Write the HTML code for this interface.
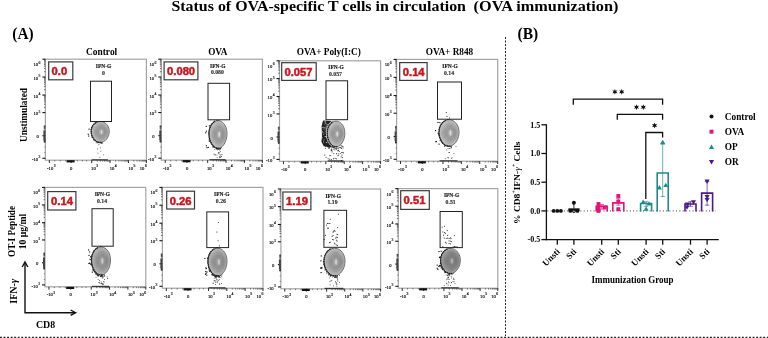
<!DOCTYPE html>
<html><head><meta charset="utf-8"><style>
html,body{margin:0;padding:0;background:#fff;width:768px;height:338px;overflow:hidden}
svg{display:block;will-change:transform}
text{white-space:pre}
</style></head><body>
<svg width="768" height="338" viewBox="0 0 768 338">
<defs><radialGradient id="bg" cx="0.56" cy="0.5" r="0.5"><stop offset="0" stop-color="#d8d8d8"/><stop offset="0.12" stop-color="#b4b4b4"/><stop offset="0.35" stop-color="#a4a4a4"/><stop offset="0.6" stop-color="#b2b2b2"/><stop offset="0.85" stop-color="#c8c8c8"/><stop offset="1" stop-color="#d0d0d0"/></radialGradient></defs>
<rect width="768" height="338" fill="#fff"/>
<text x="171.4" y="10.6" font-size="14" font-weight="bold" fill="#000" font-family="Liberation Serif" text-anchor="start" textLength="294.6" lengthAdjust="spacingAndGlyphs" >Status of OVA-specific T cells in circulation</text>
<text x="473.6" y="10.6" font-size="14" font-weight="bold" fill="#000" font-family="Liberation Serif" text-anchor="start" textLength="144.8" lengthAdjust="spacingAndGlyphs" >(OVA immunization)</text>
<text x="12.3" y="39" font-size="15.7" font-weight="bold" fill="#000" font-family="Liberation Serif" text-anchor="start" textLength="21.3" lengthAdjust="spacingAndGlyphs" >(A)</text>
<text x="517.6" y="39" font-size="15.7" font-weight="bold" fill="#000" font-family="Liberation Serif" text-anchor="start" textLength="20.7" lengthAdjust="spacingAndGlyphs" >(B)</text>
<line x1="505.5" y1="37" x2="505.5" y2="336" stroke="#222" stroke-width="1" stroke-dasharray="2 1.5"/>
<line x1="0" y1="337.4" x2="768" y2="337.4" stroke="#222" stroke-width="1.3" stroke-dasharray="1.9 1.65"/>
<text x="101.6" y="54.6" font-size="9.5" font-weight="bold" fill="#000" font-family="Liberation Serif" text-anchor="middle" textLength="31.3" lengthAdjust="spacingAndGlyphs" >Control</text>
<text x="217.8" y="54.6" font-size="9.5" font-weight="bold" fill="#000" font-family="Liberation Serif" text-anchor="middle" textLength="19.3" lengthAdjust="spacingAndGlyphs" >OVA</text>
<text x="328.8" y="54.6" font-size="9.5" font-weight="bold" fill="#000" font-family="Liberation Serif" text-anchor="middle" textLength="64" lengthAdjust="spacingAndGlyphs" >OVA+ Poly(I:C)</text>
<text x="449.5" y="54.6" font-size="9.5" font-weight="bold" fill="#000" font-family="Liberation Serif" text-anchor="middle" textLength="47.5" lengthAdjust="spacingAndGlyphs" >OVA+ R848</text>
<text transform="translate(27.2,115) rotate(-90)" font-size="9.5" font-weight="bold" font-family="Liberation Serif" text-anchor="middle" textLength="54" lengthAdjust="spacingAndGlyphs">Unstimulated</text>
<text transform="translate(15.3,231.5) rotate(-90)" font-size="10" font-weight="bold" font-family="Liberation Serif" text-anchor="middle" textLength="51" lengthAdjust="spacingAndGlyphs">OT-I Peptide</text>
<text transform="translate(25.6,231.5) rotate(-90)" font-size="10" font-weight="bold" font-family="Liberation Serif" text-anchor="middle" textLength="35.5" lengthAdjust="spacingAndGlyphs">10 &#956;g/ml</text>
<path d="M25,262.5 L25,312.7 L75,312.7" fill="none" stroke="#111" stroke-width="1.4"/>
<path d="M22.2,267 L25,262 L27.8,267" fill="none" stroke="#111" stroke-width="1.4"/>
<path d="M70.6,310 L75.6,312.7 L70.6,315.4" fill="none" stroke="#111" stroke-width="1.4"/>
<text transform="translate(16.9,291.3) rotate(-90)" font-size="10" font-weight="bold" font-family="Liberation Serif" text-anchor="middle">IFN-<tspan font-style="italic">&#947;</tspan></text>
<text x="45.6" y="327.5" font-size="10" font-weight="bold" fill="#000" font-family="Liberation Serif" text-anchor="middle" textLength="19.2" lengthAdjust="spacingAndGlyphs" >CD8</text>
<rect x="45.4" y="59.2" width="101.0" height="100.99999999999999" fill="none" stroke="#a4a4a4" stroke-width="1.2"/>
<line x1="42.4" y1="59.2" x2="45.4" y2="59.2" stroke="#111" stroke-width="1.1" />
<line x1="42.4" y1="77.03531746031746" x2="45.4" y2="77.03531746031746" stroke="#111" stroke-width="1.1" />
<line x1="42.4" y1="95.07103174603174" x2="45.4" y2="95.07103174603174" stroke="#111" stroke-width="1.1" />
<line x1="42.4" y1="112.60575396825396" x2="45.4" y2="112.60575396825396" stroke="#111" stroke-width="1.1" />
<line x1="42.4" y1="135.7515873015873" x2="45.4" y2="135.7515873015873" stroke="#111" stroke-width="1.1" />
<line x1="42.4" y1="158.29623015873017" x2="45.4" y2="158.29623015873017" stroke="#111" stroke-width="1.1" />
<line x1="44.0" y1="71.66635192257236" x2="45.4" y2="71.66635192257236" stroke="#222" stroke-width="0.6" />
<line x1="44.0" y1="68.52570841532729" x2="45.4" y2="68.52570841532729" stroke="#222" stroke-width="0.6" />
<line x1="44.0" y1="66.29738638482728" x2="45.4" y2="66.29738638482728" stroke="#222" stroke-width="0.6" />
<line x1="44.0" y1="64.5689655377451" x2="45.4" y2="64.5689655377451" stroke="#222" stroke-width="0.6" />
<line x1="44.0" y1="63.1567428775822" x2="45.4" y2="63.1567428775822" stroke="#222" stroke-width="0.6" />
<line x1="44.0" y1="61.962725631571125" x2="45.4" y2="61.962725631571125" stroke="#222" stroke-width="0.6" />
<line x1="44.0" y1="60.92842084708218" x2="45.4" y2="60.92842084708218" stroke="#222" stroke-width="0.6" />
<line x1="44.0" y1="60.01609937033712" x2="45.4" y2="60.01609937033712" stroke="#222" stroke-width="0.6" />
<line x1="44.0" y1="89.64174075280636" x2="45.4" y2="89.64174075280636" stroke="#222" stroke-width="0.6" />
<line x1="44.0" y1="86.4658091162664" x2="45.4" y2="86.4658091162664" stroke="#222" stroke-width="0.6" />
<line x1="44.0" y1="84.21244975958099" x2="45.4" y2="84.21244975958099" stroke="#222" stroke-width="0.6" />
<line x1="44.0" y1="82.46460845354284" x2="45.4" y2="82.46460845354284" stroke="#222" stroke-width="0.6" />
<line x1="44.0" y1="81.03651812304102" x2="45.4" y2="81.03651812304102" stroke="#222" stroke-width="0.6" />
<line x1="44.0" y1="79.82908495291747" x2="45.4" y2="79.82908495291747" stroke="#222" stroke-width="0.6" />
<line x1="44.0" y1="78.78315876635563" x2="45.4" y2="78.78315876635563" stroke="#222" stroke-width="0.6" />
<line x1="44.0" y1="77.86058648650106" x2="45.4" y2="77.86058648650106" stroke="#222" stroke-width="0.6" />
<line x1="44.0" y1="107.3272766137293" x2="45.4" y2="107.3272766137293" stroke="#222" stroke-width="0.6" />
<line x1="44.0" y1="104.23956530042655" x2="45.4" y2="104.23956530042655" stroke="#222" stroke-width="0.6" />
<line x1="44.0" y1="102.04879925920461" x2="45.4" y2="102.04879925920461" stroke="#222" stroke-width="0.6" />
<line x1="44.0" y1="100.3495091005564" x2="45.4" y2="100.3495091005564" stroke="#222" stroke-width="0.6" />
<line x1="44.0" y1="98.96108794590188" x2="45.4" y2="98.96108794590188" stroke="#222" stroke-width="0.6" />
<line x1="44.0" y1="97.78719458605953" x2="45.4" y2="97.78719458605953" stroke="#222" stroke-width="0.6" />
<line x1="44.0" y1="96.77032190467995" x2="45.4" y2="96.77032190467995" stroke="#222" stroke-width="0.6" />
<line x1="44.0" y1="95.87337663259913" x2="45.4" y2="95.87337663259913" stroke="#222" stroke-width="0.6" />
<line x1="43.8" y1="132.10611855158731" x2="45.4" y2="132.10611855158731" stroke="#111" stroke-width="0.7" />
<line x1="43.8" y1="138.1187748015873" x2="45.4" y2="138.1187748015873" stroke="#111" stroke-width="0.7" />
<line x1="43.8" y1="130.0229935515873" x2="45.4" y2="130.0229935515873" stroke="#111" stroke-width="0.7" />
<line x1="43.8" y1="139.4714533730159" x2="45.4" y2="139.4714533730159" stroke="#111" stroke-width="0.7" />
<line x1="43.8" y1="128.4606498015873" x2="45.4" y2="128.4606498015873" stroke="#111" stroke-width="0.7" />
<line x1="43.8" y1="140.4859623015873" x2="45.4" y2="140.4859623015873" stroke="#111" stroke-width="0.7" />
<line x1="43.8" y1="127.4190873015873" x2="45.4" y2="127.4190873015873" stroke="#111" stroke-width="0.7" />
<line x1="43.8" y1="141.16230158730158" x2="45.4" y2="141.16230158730158" stroke="#111" stroke-width="0.7" />
<line x1="43.8" y1="126.5858373015873" x2="45.4" y2="126.5858373015873" stroke="#111" stroke-width="0.7" />
<line x1="43.8" y1="141.703373015873" x2="45.4" y2="141.703373015873" stroke="#111" stroke-width="0.7" />
<line x1="43.8" y1="125.9608998015873" x2="45.4" y2="125.9608998015873" stroke="#111" stroke-width="0.7" />
<line x1="43.8" y1="142.1091765873016" x2="45.4" y2="142.1091765873016" stroke="#111" stroke-width="0.7" />
<line x1="44.199999999999996" y1="152.66006944444445" x2="45.4" y2="152.66006944444445" stroke="#333" stroke-width="0.5" />
<line x1="44.199999999999996" y1="147.02390873015872" x2="45.4" y2="147.02390873015872" stroke="#333" stroke-width="0.5" />
<line x1="44.199999999999996" y1="141.38774801587303" x2="45.4" y2="141.38774801587303" stroke="#333" stroke-width="0.5" />
<rect x="43.40" y="130.55" width="2" height="9.8" fill="#444"/>
<text x="38.10" y="66.20" font-size="4.6" font-family="Liberation Serif" text-anchor="end" fill="#222" stroke="#222" stroke-width="0.18">10</text>
<text x="38.60" y="63.60" font-size="3.8" font-family="Liberation Serif" fill="#222" stroke="#222" stroke-width="0.15">6</text>
<text x="38.10" y="79.64" font-size="4.6" font-family="Liberation Serif" text-anchor="end" fill="#222" stroke="#222" stroke-width="0.18">10</text>
<text x="38.60" y="77.04" font-size="3.8" font-family="Liberation Serif" fill="#222" stroke="#222" stroke-width="0.15">5</text>
<text x="38.10" y="97.67" font-size="4.6" font-family="Liberation Serif" text-anchor="end" fill="#222" stroke="#222" stroke-width="0.18">10</text>
<text x="38.60" y="95.07" font-size="3.8" font-family="Liberation Serif" fill="#222" stroke="#222" stroke-width="0.15">4</text>
<text x="38.10" y="115.21" font-size="4.6" font-family="Liberation Serif" text-anchor="end" fill="#222" stroke="#222" stroke-width="0.18">10</text>
<text x="38.60" y="112.61" font-size="3.8" font-family="Liberation Serif" fill="#222" stroke="#222" stroke-width="0.15">3</text>
<text x="38.70" y="138.35" font-size="4.6" font-family="Liberation Serif" text-anchor="end" fill="#222" stroke="#222" stroke-width="0.18">0</text>
<text x="38.10" y="160.90" font-size="4.6" font-family="Liberation Serif" text-anchor="end" fill="#222" stroke="#222" stroke-width="0.18">-10</text>
<text x="38.60" y="158.30" font-size="3.8" font-family="Liberation Serif" fill="#222" stroke="#222" stroke-width="0.15">3</text>
<line x1="49.335064935064935" y1="160.2" x2="49.335064935064935" y2="163.0" stroke="#111" stroke-width="0.9" />
<line x1="71.12927072927073" y1="160.2" x2="71.12927072927073" y2="163.0" stroke="#111" stroke-width="0.9" />
<line x1="91.71268731268731" y1="160.2" x2="91.71268731268731" y2="163.0" stroke="#111" stroke-width="0.9" />
<line x1="110.07632367632368" y1="160.2" x2="110.07632367632368" y2="163.0" stroke="#111" stroke-width="0.9" />
<line x1="128.43996003996003" y1="160.2" x2="128.43996003996003" y2="163.0" stroke="#111" stroke-width="0.9" />
<line x1="146.4" y1="160.2" x2="146.4" y2="163.0" stroke="#111" stroke-width="0.9" />
<line x1="97.24069268760769" y1="160.2" x2="97.24069268760769" y2="161.6" stroke="#222" stroke-width="0.6" />
<line x1="100.47436853572111" y1="160.2" x2="100.47436853572111" y2="161.6" stroke="#222" stroke-width="0.6" />
<line x1="102.76869806252807" y1="160.2" x2="102.76869806252807" y2="161.6" stroke="#222" stroke-width="0.6" />
<line x1="104.5483183014033" y1="160.2" x2="104.5483183014033" y2="161.6" stroke="#222" stroke-width="0.6" />
<line x1="106.0023739106415" y1="160.2" x2="106.0023739106415" y2="161.6" stroke="#222" stroke-width="0.6" />
<line x1="107.23176041113095" y1="160.2" x2="107.23176041113095" y2="161.6" stroke="#222" stroke-width="0.6" />
<line x1="108.29670343744846" y1="160.2" x2="108.29670343744846" y2="161.6" stroke="#222" stroke-width="0.6" />
<line x1="109.23604975875492" y1="160.2" x2="109.23604975875492" y2="161.6" stroke="#222" stroke-width="0.6" />
<line x1="115.60432905124406" y1="160.2" x2="115.60432905124406" y2="161.6" stroke="#222" stroke-width="0.6" />
<line x1="118.83800489935747" y1="160.2" x2="118.83800489935747" y2="161.6" stroke="#222" stroke-width="0.6" />
<line x1="121.13233442616443" y1="160.2" x2="121.13233442616443" y2="161.6" stroke="#222" stroke-width="0.6" />
<line x1="122.91195466503964" y1="160.2" x2="122.91195466503964" y2="161.6" stroke="#222" stroke-width="0.6" />
<line x1="124.36601027427785" y1="160.2" x2="124.36601027427785" y2="161.6" stroke="#222" stroke-width="0.6" />
<line x1="125.5953967747673" y1="160.2" x2="125.5953967747673" y2="161.6" stroke="#222" stroke-width="0.6" />
<line x1="126.6603398010848" y1="160.2" x2="126.6603398010848" y2="161.6" stroke="#222" stroke-width="0.6" />
<line x1="127.59968612239126" y1="160.2" x2="127.59968612239126" y2="161.6" stroke="#222" stroke-width="0.6" />
<line x1="133.8464707912558" y1="160.2" x2="133.8464707912558" y2="161.6" stroke="#222" stroke-width="0.6" />
<line x1="137.00907684050958" y1="160.2" x2="137.00907684050958" y2="161.6" stroke="#222" stroke-width="0.6" />
<line x1="139.25298154255157" y1="160.2" x2="139.25298154255157" y2="161.6" stroke="#222" stroke-width="0.6" />
<line x1="140.99348924870424" y1="160.2" x2="140.99348924870424" y2="161.6" stroke="#222" stroke-width="0.6" />
<line x1="142.41558759180535" y1="160.2" x2="142.41558759180535" y2="161.6" stroke="#222" stroke-width="0.6" />
<line x1="143.61795460876755" y1="160.2" x2="143.61795460876755" y2="161.6" stroke="#222" stroke-width="0.6" />
<line x1="144.6594922938473" y1="160.2" x2="144.6594922938473" y2="161.6" stroke="#222" stroke-width="0.6" />
<line x1="145.57819364105913" y1="160.2" x2="145.57819364105913" y2="161.6" stroke="#222" stroke-width="0.6" />
<rect x="66.62927072927073" y="160.2" width="8" height="2.2" fill="#111"/>
<line x1="54.78361638361638" y1="160.2" x2="54.78361638361638" y2="161.5" stroke="#333" stroke-width="0.6" />
<line x1="60.23216783216783" y1="160.2" x2="60.23216783216783" y2="161.5" stroke="#333" stroke-width="0.6" />
<line x1="65.68071928071927" y1="160.2" x2="65.68071928071927" y2="161.5" stroke="#333" stroke-width="0.6" />
<line x1="77.3042957042957" y1="160.2" x2="77.3042957042957" y2="161.5" stroke="#333" stroke-width="0.6" />
<line x1="82.45014985014984" y1="160.2" x2="82.45014985014984" y2="161.5" stroke="#333" stroke-width="0.6" />
<line x1="86.56683316683316" y1="160.2" x2="86.56683316683316" y2="161.5" stroke="#333" stroke-width="0.6" />
<text x="51.335064935064935" y="169.79999999999998" font-size="4.6" font-family="Liberation Serif" text-anchor="middle" fill="#222" stroke="#222" stroke-width="0.18">-10<tspan dx="0.5" dy="-2.6" font-size="3.8">3</tspan></text>
<text x="71.12927072927073" y="169.79999999999998" font-size="4.6" font-family="Liberation Serif" text-anchor="middle" fill="#222" stroke="#222" stroke-width="0.18">0</text>
<text x="91.11268731268731" y="169.79999999999998" font-size="4.6" font-family="Liberation Serif" text-anchor="start" fill="#222" stroke="#222" stroke-width="0.18">10<tspan dx="0.5" dy="-2.6" font-size="3.8">3</tspan></text>
<text x="109.77632367632368" y="169.79999999999998" font-size="4.6" font-family="Liberation Serif" text-anchor="start" fill="#222" stroke="#222" stroke-width="0.18">10<tspan dx="0.5" dy="-2.6" font-size="3.8">4</tspan></text>
<text x="128.43996003996003" y="169.79999999999998" font-size="4.6" font-family="Liberation Serif" text-anchor="start" fill="#222" stroke="#222" stroke-width="0.18">10<tspan dx="0.5" dy="-2.6" font-size="3.8">5</tspan></text>
<text x="146.8" y="169.79999999999998" font-size="4.6" font-family="Liberation Serif" text-anchor="end" fill="#222" stroke="#222" stroke-width="0.18">10<tspan dx="0.5" dy="-2.6" font-size="3.8">6</tspan></text>
<rect x="93.8" y="139.1" width="0.9" height="0.9" fill="#111"/>
<rect x="92.0" y="128.4" width="0.9" height="0.9" fill="#111"/>
<rect x="91.1" y="132.4" width="0.9" height="0.9" fill="#111"/>
<rect x="101.3" y="142.8" width="0.9" height="0.9" fill="#111"/>
<rect x="101.9" y="142.5" width="0.9" height="0.9" fill="#111"/>
<rect x="100.8" y="142.2" width="0.9" height="0.9" fill="#111"/>
<rect x="91.4" y="136.6" width="0.9" height="0.9" fill="#111"/>
<rect x="99.2" y="142.3" width="0.9" height="0.9" fill="#111"/>
<rect x="90.8" y="128.8" width="0.9" height="0.9" fill="#111"/>
<rect x="91.1" y="130.8" width="0.9" height="0.9" fill="#111"/>
<rect x="99.5" y="121.9" width="0.9" height="0.9" fill="#111"/>
<rect x="96.0" y="122.7" width="0.9" height="0.9" fill="#111"/>
<rect x="98.6" y="142.1" width="0.9" height="0.9" fill="#111"/>
<rect x="93.6" y="140.2" width="0.9" height="0.9" fill="#111"/>
<rect x="97.3" y="142.4" width="0.9" height="0.9" fill="#111"/>
<rect x="91.6" y="128.6" width="0.9" height="0.9" fill="#111"/>
<rect x="91.5" y="131.9" width="0.9" height="0.9" fill="#111"/>
<rect x="101.2" y="142.3" width="0.9" height="0.9" fill="#111"/>
<rect x="98.5" y="144.3" width="0.8" height="0.8" fill="#222"/>
<rect x="97.2" y="148.6" width="0.8" height="0.8" fill="#222"/>
<rect x="97.6" y="152.7" width="0.8" height="0.8" fill="#222"/>
<rect x="100.4" y="150.8" width="0.8" height="0.8" fill="#222"/>
<rect x="99.9" y="147.5" width="0.8" height="0.8" fill="#222"/>
<rect x="103.3" y="154.5" width="0.8" height="0.8" fill="#222"/>
<rect x="99.5" y="156.9" width="0.8" height="0.8" fill="#222"/>
<rect x="97.5" y="142.1" width="0.8" height="0.8" fill="#222"/>
<rect x="95.8" y="142.4" width="0.8" height="0.8" fill="#222"/>
<rect x="91.5" y="132.0" width="1.1" height="1.1" fill="#000"/>
<rect x="88.2" y="135.5" width="1.1" height="1.1" fill="#000"/>
<rect x="87.7" y="133.7" width="1.1" height="1.1" fill="#000"/>
<rect x="88.5" y="128.6" width="1.1" height="1.1" fill="#000"/>
<rect x="91.65" y="159.20" width="16.20" height="1.3" fill="#222" opacity="0.85"/>
<polygon points="109.20,132.00 109.05,133.37 108.76,134.72 108.32,136.02 107.76,137.25 107.08,138.39 106.29,139.42 105.42,140.33 104.47,141.09 103.45,141.70 102.39,142.14 101.30,142.41 100.20,142.50 99.10,142.41 98.01,142.14 96.95,141.70 95.93,141.09 94.98,140.33 94.11,139.42 93.32,138.39 92.64,137.25 92.08,136.02 91.64,134.72 91.35,133.37 91.20,132.00 91.21,130.63 91.37,129.28 91.69,127.98 92.17,126.75 92.80,125.61 93.57,124.58 94.46,123.67 95.47,122.91 96.56,122.30 97.74,121.86 98.96,121.59 100.20,121.50 101.44,121.59 102.66,121.86 103.84,122.30 104.93,122.91 105.94,123.67 106.83,124.58 107.60,125.61 108.23,126.75 108.71,127.98 109.03,129.28 109.19,130.63" fill="url(#bg)" stroke="#4a4a4a" stroke-width="0.8"/>
<polygon points="108.46,132.00 108.33,133.23 108.06,134.45 107.67,135.62 107.17,136.72 106.55,137.75 105.85,138.68 105.06,139.50 104.20,140.18 103.29,140.73 102.34,141.13 101.36,141.37 100.36,141.45 99.37,141.37 98.39,141.13 97.43,140.73 96.52,140.18 95.67,139.50 94.88,138.68 94.17,137.75 93.56,136.72 93.05,135.62 92.66,134.45 92.39,133.23 92.26,132.00 92.27,130.77 92.42,129.55 92.71,128.38 93.14,127.28 93.70,126.25 94.39,125.32 95.20,124.50 96.10,123.82 97.09,123.27 98.14,122.87 99.24,122.63 100.36,122.55 101.48,122.63 102.58,122.87 103.63,123.27 104.62,123.82 105.53,124.50 106.33,125.32 107.02,126.25 107.59,127.27 108.02,128.38 108.31,129.55 108.46,130.77" fill="none" stroke="#a0a0a0" stroke-width="0.55"/>
<polygon points="107.72,132.00 107.61,133.10 107.37,134.17 107.02,135.21 106.57,136.20 106.03,137.11 105.40,137.94 104.70,138.66 103.94,139.27 103.13,139.76 102.28,140.11 101.41,140.33 100.52,140.40 99.64,140.33 98.77,140.11 97.92,139.76 97.11,139.27 96.35,138.66 95.65,137.94 95.02,137.11 94.48,136.20 94.02,135.21 93.68,134.17 93.44,133.10 93.32,132.00 93.33,130.90 93.46,129.83 93.72,128.79 94.10,127.80 94.60,126.89 95.22,126.06 95.93,125.34 96.74,124.73 97.62,124.24 98.55,123.89 99.53,123.67 100.52,123.60 101.52,123.67 102.50,123.89 103.43,124.24 104.31,124.73 105.12,125.34 105.83,126.06 106.44,126.89 106.95,127.80 107.33,128.79 107.59,129.83 107.72,130.90" fill="none" stroke="#929292" stroke-width="0.55"/>
<polygon points="106.99,132.00 106.88,132.96 106.68,133.90 106.37,134.81 105.98,135.68 105.50,136.47 104.95,137.20 104.34,137.83 103.67,138.37 102.96,138.79 102.22,139.10 101.46,139.29 100.69,139.35 99.91,139.29 99.15,139.10 98.41,138.79 97.70,138.37 97.03,137.83 96.42,137.20 95.87,136.47 95.39,135.68 95.00,134.81 94.70,133.90 94.49,132.96 94.39,132.00 94.39,131.04 94.51,130.10 94.73,129.19 95.07,128.32 95.51,127.53 96.04,126.80 96.67,126.17 97.37,125.63 98.14,125.21 98.96,124.90 99.81,124.71 100.69,124.65 101.56,124.71 102.41,124.90 103.23,125.21 104.00,125.63 104.70,126.17 105.33,126.80 105.87,127.53 106.31,128.32 106.64,129.19 106.87,130.10 106.98,131.04" fill="none" stroke="#888" stroke-width="0.55"/>
<polygon points="106.25,132.00 106.16,132.82 105.98,133.63 105.72,134.41 105.38,135.15 104.98,135.84 104.50,136.45 103.98,137.00 103.41,137.46 102.80,137.82 102.16,138.09 101.51,138.25 100.85,138.30 100.19,138.25 99.53,138.09 98.90,137.82 98.29,137.46 97.72,137.00 97.19,136.45 96.72,135.84 96.31,135.15 95.97,134.41 95.71,133.63 95.54,132.82 95.45,132.00 95.45,131.18 95.55,130.37 95.74,129.59 96.03,128.85 96.41,128.16 96.87,127.55 97.40,127.00 98.01,126.54 98.67,126.18 99.37,125.91 100.10,125.75 100.85,125.70 101.59,125.75 102.33,125.91 103.03,126.18 103.69,126.54 104.29,127.00 104.83,127.55 105.29,128.16 105.66,128.85 105.95,129.59 106.14,130.37 106.24,131.18" fill="none" stroke="#828282" stroke-width="0.55"/>
<polygon points="105.51,132.00 105.44,132.69 105.29,133.36 105.07,134.01 104.79,134.62 104.45,135.20 104.06,135.71 103.62,136.17 103.14,136.55 102.64,136.85 102.11,137.07 101.56,137.21 101.01,137.25 100.46,137.21 99.91,137.07 99.38,136.85 98.88,136.55 98.40,136.17 97.96,135.71 97.57,135.20 97.23,134.62 96.95,134.01 96.73,133.36 96.58,132.69 96.51,132.00 96.51,131.31 96.60,130.64 96.76,129.99 97.00,129.38 97.31,128.80 97.69,128.29 98.14,127.83 98.64,127.45 99.19,127.15 99.78,126.93 100.39,126.79 101.01,126.75 101.63,126.79 102.24,126.93 102.83,127.15 103.38,127.45 103.88,127.83 104.33,128.29 104.71,128.80 105.02,129.38 105.26,129.99 105.42,130.64 105.51,131.31" fill="none" stroke="#808080" stroke-width="0.55"/>
<polygon points="104.77,132.00 104.71,132.55 104.60,133.09 104.42,133.61 104.20,134.10 103.92,134.56 103.61,134.97 103.26,135.33 102.88,135.64 102.47,135.88 102.05,136.06 101.61,136.16 101.17,136.20 100.73,136.16 100.29,136.06 99.87,135.88 99.47,135.64 99.08,135.33 98.73,134.97 98.42,134.56 98.15,134.10 97.92,133.61 97.75,133.09 97.63,132.55 97.57,132.00 97.57,131.45 97.64,130.91 97.77,130.39 97.96,129.90 98.21,129.44 98.52,129.03 98.88,128.67 99.28,128.36 99.72,128.12 100.19,127.94 100.67,127.84 101.17,127.80 101.67,127.84 102.16,127.94 102.63,128.12 103.07,128.36 103.47,128.67 103.83,129.03 104.13,129.44 104.38,129.90 104.57,130.39 104.70,130.91 104.77,131.45" fill="none" stroke="#848484" stroke-width="0.55"/>
<polygon points="104.03,132.00 103.99,132.41 103.90,132.82 103.77,133.21 103.60,133.57 103.40,133.92 103.16,134.23 102.90,134.50 102.61,134.73 102.31,134.91 101.99,135.04 101.67,135.12 101.33,135.15 101.00,135.12 100.68,135.04 100.36,134.91 100.05,134.73 99.77,134.50 99.51,134.23 99.27,133.92 99.07,133.57 98.90,133.21 98.77,132.82 98.68,132.41 98.63,132.00 98.64,131.59 98.69,131.18 98.78,130.79 98.93,130.43 99.11,130.08 99.34,129.77 99.61,129.50 99.91,129.27 100.24,129.09 100.59,128.96 100.96,128.88 101.33,128.85 101.71,128.88 102.07,128.96 102.42,129.09 102.75,129.27 103.06,129.50 103.32,129.77 103.55,130.08 103.74,130.43 103.89,130.79 103.98,131.18 104.03,131.59" fill="none" stroke="#8e8e8e" stroke-width="0.55"/>
<polygon points="103.30,132.00 103.27,132.27 103.21,132.54 103.12,132.80 103.01,133.05 102.87,133.28 102.71,133.48 102.54,133.67 102.35,133.82 102.15,133.94 101.93,134.03 101.72,134.08 101.50,134.10 101.28,134.08 101.06,134.03 100.85,133.94 100.64,133.82 100.45,133.67 100.28,133.48 100.12,133.28 99.98,133.05 99.87,132.80 99.78,132.54 99.73,132.27 99.70,132.00 99.70,131.73 99.73,131.46 99.79,131.20 99.89,130.95 100.02,130.72 100.17,130.52 100.35,130.33 100.55,130.18 100.77,130.06 101.00,129.97 101.25,129.92 101.50,129.90 101.74,129.92 101.99,129.97 102.22,130.06 102.44,130.18 102.64,130.33 102.82,130.52 102.98,130.72 103.10,130.95 103.20,131.20 103.26,131.46 103.29,131.73" fill="none" stroke="#a0a0a0" stroke-width="0.55"/>
<ellipse cx="101.55" cy="132" rx="0.8099999999999999" ry="2.31" fill="#d8d8d8"/>
<polyline points="101.52,142.37 100.48,142.49 99.43,142.46 98.38,142.26 97.37,141.90 96.38,141.39 95.45,140.73 94.58,139.94 93.78,139.03 93.07,138.00 92.46,136.89 91.95,135.70 91.57,134.45 91.32,133.17 91.19,131.86 91.21,130.56 91.37,129.28 91.67,128.05 92.12,126.87 92.70,125.77 93.40,124.77 94.23,123.88 95.15,123.12 96.17,122.49 97.26,122.01" fill="none" stroke="#1a1a1a" stroke-width="1.3" stroke-dasharray="1.5 0.5"/>
<rect x="90.5" y="81.2" width="21.0" height="40.3" fill="none" stroke="#222" stroke-width="1"/>
<text x="103.5" y="68.3" font-size="6" font-weight="bold" font-family="Liberation Serif" text-anchor="middle" fill="#222" stroke="#222" stroke-width="0.2" textLength="15.4" lengthAdjust="spacingAndGlyphs">IFN-G</text>
<text x="103.5" y="74.9" font-size="5.8" font-weight="bold" font-family="Liberation Serif" text-anchor="middle" fill="#333" stroke="#333" stroke-width="0.15">0</text>
<rect x="48.7" y="61.9" width="24.10" height="17.90" fill="#fff" stroke="#3a3a3a" stroke-width="1.2"/>
<text x="59.4" y="75.20" font-size="10.4" font-weight="bold" font-family="Liberation Sans" text-anchor="middle" fill="#c8161e" stroke="#c8161e" stroke-width="0.45" textLength="15.57" lengthAdjust="spacingAndGlyphs">0.0</text>
<rect x="161.3" y="59.2" width="101.09999999999997" height="100.89999999999999" fill="none" stroke="#a4a4a4" stroke-width="1.2"/>
<line x1="158.3" y1="59.2" x2="161.3" y2="59.2" stroke="#111" stroke-width="1.1" />
<line x1="158.3" y1="77.01765873015873" x2="161.3" y2="77.01765873015873" stroke="#111" stroke-width="1.1" />
<line x1="158.3" y1="95.03551587301587" x2="161.3" y2="95.03551587301587" stroke="#111" stroke-width="1.1" />
<line x1="158.3" y1="112.55287698412698" x2="161.3" y2="112.55287698412698" stroke="#111" stroke-width="1.1" />
<line x1="158.3" y1="135.67579365079365" x2="161.3" y2="135.67579365079365" stroke="#111" stroke-width="1.1" />
<line x1="158.3" y1="158.1981150793651" x2="161.3" y2="158.1981150793651" stroke="#111" stroke-width="1.1" />
<line x1="159.9" y1="71.65400899987675" x2="161.3" y2="71.65400899987675" stroke="#222" stroke-width="0.6" />
<line x1="159.9" y1="68.51647504065865" x2="161.3" y2="68.51647504065865" stroke="#222" stroke-width="0.6" />
<line x1="159.9" y1="66.29035926959477" x2="161.3" y2="66.29035926959477" stroke="#222" stroke-width="0.6" />
<line x1="159.9" y1="64.56364973028198" x2="161.3" y2="64.56364973028198" stroke="#222" stroke-width="0.6" />
<line x1="159.9" y1="63.15282531037667" x2="161.3" y2="63.15282531037667" stroke="#222" stroke-width="0.6" />
<line x1="159.9" y1="61.95999025965868" x2="161.3" y2="61.95999025965868" stroke="#222" stroke-width="0.6" />
<line x1="159.9" y1="60.926709539312796" x2="161.3" y2="60.926709539312796" stroke="#222" stroke-width="0.6" />
<line x1="159.9" y1="60.01529135115857" x2="161.3" y2="60.01529135115857" stroke="#222" stroke-width="0.6" />
<line x1="159.9" y1="89.61160041542735" x2="161.3" y2="89.61160041542735" stroke="#222" stroke-width="0.6" />
<line x1="159.9" y1="86.43881326565624" x2="161.3" y2="86.43881326565624" stroke="#222" stroke-width="0.6" />
<line x1="159.9" y1="84.18768495783883" x2="161.3" y2="84.18768495783883" stroke="#222" stroke-width="0.6" />
<line x1="159.9" y1="82.44157418774725" x2="161.3" y2="82.44157418774725" stroke="#222" stroke-width="0.6" />
<line x1="159.9" y1="81.01489780806772" x2="161.3" y2="81.01489780806772" stroke="#222" stroke-width="0.6" />
<line x1="159.9" y1="79.80866011633043" x2="161.3" y2="79.80866011633043" stroke="#222" stroke-width="0.6" />
<line x1="159.9" y1="78.76376950025032" x2="161.3" y2="78.76376950025032" stroke="#222" stroke-width="0.6" />
<line x1="159.9" y1="77.8421106582966" x2="161.3" y2="77.8421106582966" stroke="#222" stroke-width="0.6" />
<line x1="159.9" y1="107.27962584480481" x2="161.3" y2="107.27962584480481" stroke="#222" stroke-width="0.6" />
<line x1="159.9" y1="104.19497167141623" x2="161.3" y2="104.19497167141623" stroke="#222" stroke-width="0.6" />
<line x1="159.9" y1="102.00637470548264" x2="161.3" y2="102.00637470548264" stroke="#222" stroke-width="0.6" />
<line x1="159.9" y1="100.30876701233804" x2="161.3" y2="100.30876701233804" stroke="#222" stroke-width="0.6" />
<line x1="159.9" y1="98.92172053209406" x2="161.3" y2="98.92172053209406" stroke="#222" stroke-width="0.6" />
<line x1="159.9" y1="97.74898944290501" x2="161.3" y2="97.74898944290501" stroke="#222" stroke-width="0.6" />
<line x1="159.9" y1="96.73312356616047" x2="161.3" y2="96.73312356616047" stroke="#222" stroke-width="0.6" />
<line x1="159.9" y1="95.83706635870547" x2="161.3" y2="95.83706635870547" stroke="#222" stroke-width="0.6" />
<line x1="159.70000000000002" y1="132.03393427579365" x2="161.3" y2="132.03393427579365" stroke="#111" stroke-width="0.7" />
<line x1="159.70000000000002" y1="138.04063740079366" x2="161.3" y2="138.04063740079366" stroke="#111" stroke-width="0.7" />
<line x1="159.70000000000002" y1="129.95287177579365" x2="161.3" y2="129.95287177579365" stroke="#111" stroke-width="0.7" />
<line x1="159.70000000000002" y1="139.39197668650795" x2="161.3" y2="139.39197668650795" stroke="#111" stroke-width="0.7" />
<line x1="159.70000000000002" y1="128.39207490079366" x2="161.3" y2="128.39207490079366" stroke="#111" stroke-width="0.7" />
<line x1="159.70000000000002" y1="140.40548115079366" x2="161.3" y2="140.40548115079366" stroke="#111" stroke-width="0.7" />
<line x1="159.70000000000002" y1="127.35154365079364" x2="161.3" y2="127.35154365079364" stroke="#111" stroke-width="0.7" />
<line x1="159.70000000000002" y1="141.0811507936508" x2="161.3" y2="141.0811507936508" stroke="#111" stroke-width="0.7" />
<line x1="159.70000000000002" y1="126.51911865079364" x2="161.3" y2="126.51911865079364" stroke="#111" stroke-width="0.7" />
<line x1="159.70000000000002" y1="141.62168650793652" x2="161.3" y2="141.62168650793652" stroke="#111" stroke-width="0.7" />
<line x1="159.70000000000002" y1="125.89479990079366" x2="161.3" y2="125.89479990079366" stroke="#111" stroke-width="0.7" />
<line x1="159.70000000000002" y1="142.0270882936508" x2="161.3" y2="142.0270882936508" stroke="#111" stroke-width="0.7" />
<line x1="160.10000000000002" y1="152.56753472222223" x2="161.3" y2="152.56753472222223" stroke="#333" stroke-width="0.5" />
<line x1="160.10000000000002" y1="146.93695436507937" x2="161.3" y2="146.93695436507937" stroke="#333" stroke-width="0.5" />
<line x1="160.10000000000002" y1="141.3063740079365" x2="161.3" y2="141.3063740079365" stroke="#333" stroke-width="0.5" />
<rect x="159.30" y="130.48" width="2" height="9.8" fill="#444"/>
<text x="154.00" y="66.20" font-size="4.6" font-family="Liberation Serif" text-anchor="end" fill="#222" stroke="#222" stroke-width="0.18">10</text>
<text x="154.50" y="63.60" font-size="3.8" font-family="Liberation Serif" fill="#222" stroke="#222" stroke-width="0.15">6</text>
<text x="154.00" y="79.62" font-size="4.6" font-family="Liberation Serif" text-anchor="end" fill="#222" stroke="#222" stroke-width="0.18">10</text>
<text x="154.50" y="77.02" font-size="3.8" font-family="Liberation Serif" fill="#222" stroke="#222" stroke-width="0.15">5</text>
<text x="154.00" y="97.64" font-size="4.6" font-family="Liberation Serif" text-anchor="end" fill="#222" stroke="#222" stroke-width="0.18">10</text>
<text x="154.50" y="95.04" font-size="3.8" font-family="Liberation Serif" fill="#222" stroke="#222" stroke-width="0.15">4</text>
<text x="154.00" y="115.15" font-size="4.6" font-family="Liberation Serif" text-anchor="end" fill="#222" stroke="#222" stroke-width="0.18">10</text>
<text x="154.50" y="112.55" font-size="3.8" font-family="Liberation Serif" fill="#222" stroke="#222" stroke-width="0.15">3</text>
<text x="154.60" y="138.28" font-size="4.6" font-family="Liberation Serif" text-anchor="end" fill="#222" stroke="#222" stroke-width="0.18">0</text>
<text x="154.00" y="160.80" font-size="4.6" font-family="Liberation Serif" text-anchor="end" fill="#222" stroke="#222" stroke-width="0.18">-10</text>
<text x="154.50" y="158.20" font-size="3.8" font-family="Liberation Serif" fill="#222" stroke="#222" stroke-width="0.15">3</text>
<line x1="165.23896103896104" y1="160.1" x2="165.23896103896104" y2="162.9" stroke="#111" stroke-width="0.9" />
<line x1="187.05474525474526" y1="160.1" x2="187.05474525474526" y2="162.9" stroke="#111" stroke-width="0.9" />
<line x1="207.65854145854144" y1="160.1" x2="207.65854145854144" y2="162.9" stroke="#111" stroke-width="0.9" />
<line x1="226.0403596403596" y1="160.1" x2="226.0403596403596" y2="162.9" stroke="#111" stroke-width="0.9" />
<line x1="244.4221778221778" y1="160.1" x2="244.4221778221778" y2="162.9" stroke="#111" stroke-width="0.9" />
<line x1="262.4" y1="160.1" x2="262.4" y2="162.9" stroke="#111" stroke-width="0.9" />
<line x1="213.19202010611025" y1="160.1" x2="213.19202010611025" y2="161.5" stroke="#222" stroke-width="0.6" />
<line x1="216.42889761347922" y1="160.1" x2="216.42889761347922" y2="161.5" stroke="#222" stroke-width="0.6" />
<line x1="218.72549875367906" y1="160.1" x2="218.72549875367906" y2="161.5" stroke="#222" stroke-width="0.6" />
<line x1="220.5068809927908" y1="160.1" x2="220.5068809927908" y2="161.5" stroke="#222" stroke-width="0.6" />
<line x1="221.96237626104804" y1="160.1" x2="221.96237626104804" y2="161.5" stroke="#222" stroke-width="0.6" />
<line x1="223.19297997589442" y1="160.1" x2="223.19297997589442" y2="161.5" stroke="#222" stroke-width="0.6" />
<line x1="224.25897740124788" y1="160.1" x2="224.25897740124788" y2="161.5" stroke="#222" stroke-width="0.6" />
<line x1="225.199253768417" y1="160.1" x2="225.199253768417" y2="161.5" stroke="#222" stroke-width="0.6" />
<line x1="231.57383828792842" y1="160.1" x2="231.57383828792842" y2="161.5" stroke="#222" stroke-width="0.6" />
<line x1="234.8107157952974" y1="160.1" x2="234.8107157952974" y2="161.5" stroke="#222" stroke-width="0.6" />
<line x1="237.10731693549724" y1="160.1" x2="237.10731693549724" y2="161.5" stroke="#222" stroke-width="0.6" />
<line x1="238.88869917460897" y1="160.1" x2="238.88869917460897" y2="161.5" stroke="#222" stroke-width="0.6" />
<line x1="240.3441944428662" y1="160.1" x2="240.3441944428662" y2="161.5" stroke="#222" stroke-width="0.6" />
<line x1="241.5747981577126" y1="160.1" x2="241.5747981577126" y2="161.5" stroke="#222" stroke-width="0.6" />
<line x1="242.64079558306605" y1="160.1" x2="242.64079558306605" y2="161.5" stroke="#222" stroke-width="0.6" />
<line x1="243.58107195023518" y1="160.1" x2="243.58107195023518" y2="161.5" stroke="#222" stroke-width="0.6" />
<line x1="249.83404155441542" y1="160.1" x2="249.83404155441542" y2="161.5" stroke="#222" stroke-width="0.6" />
<line x1="252.9997788967873" y1="160.1" x2="252.9997788967873" y2="161.5" stroke="#222" stroke-width="0.6" />
<line x1="255.24590528665306" y1="160.1" x2="255.24590528665306" y2="161.5" stroke="#222" stroke-width="0.6" />
<line x1="256.98813626776234" y1="160.1" x2="256.98813626776234" y2="161.5" stroke="#222" stroke-width="0.6" />
<line x1="258.4116426290249" y1="160.1" x2="258.4116426290249" y2="161.5" stroke="#222" stroke-width="0.6" />
<line x1="259.6152001083802" y1="160.1" x2="259.6152001083802" y2="161.5" stroke="#222" stroke-width="0.6" />
<line x1="260.6577690188907" y1="160.1" x2="260.6577690188907" y2="161.5" stroke="#222" stroke-width="0.6" />
<line x1="261.5773799713968" y1="160.1" x2="261.5773799713968" y2="161.5" stroke="#222" stroke-width="0.6" />
<rect x="182.55474525474526" y="160.1" width="8" height="2.2" fill="#111"/>
<line x1="170.6929070929071" y1="160.1" x2="170.6929070929071" y2="161.4" stroke="#333" stroke-width="0.6" />
<line x1="176.14685314685315" y1="160.1" x2="176.14685314685315" y2="161.4" stroke="#333" stroke-width="0.6" />
<line x1="181.6007992007992" y1="160.1" x2="181.6007992007992" y2="161.4" stroke="#333" stroke-width="0.6" />
<line x1="193.23588411588412" y1="160.1" x2="193.23588411588412" y2="161.4" stroke="#333" stroke-width="0.6" />
<line x1="198.38683316683316" y1="160.1" x2="198.38683316683316" y2="161.4" stroke="#333" stroke-width="0.6" />
<line x1="202.5075924075924" y1="160.1" x2="202.5075924075924" y2="161.4" stroke="#333" stroke-width="0.6" />
<text x="167.23896103896104" y="169.7" font-size="4.6" font-family="Liberation Serif" text-anchor="middle" fill="#222" stroke="#222" stroke-width="0.18">-10<tspan dx="0.5" dy="-2.6" font-size="3.8">3</tspan></text>
<text x="187.05474525474526" y="169.7" font-size="4.6" font-family="Liberation Serif" text-anchor="middle" fill="#222" stroke="#222" stroke-width="0.18">0</text>
<text x="207.05854145854144" y="169.7" font-size="4.6" font-family="Liberation Serif" text-anchor="start" fill="#222" stroke="#222" stroke-width="0.18">10<tspan dx="0.5" dy="-2.6" font-size="3.8">3</tspan></text>
<text x="225.7403596403596" y="169.7" font-size="4.6" font-family="Liberation Serif" text-anchor="start" fill="#222" stroke="#222" stroke-width="0.18">10<tspan dx="0.5" dy="-2.6" font-size="3.8">4</tspan></text>
<text x="244.4221778221778" y="169.7" font-size="4.6" font-family="Liberation Serif" text-anchor="start" fill="#222" stroke="#222" stroke-width="0.18">10<tspan dx="0.5" dy="-2.6" font-size="3.8">5</tspan></text>
<text x="262.79999999999995" y="169.7" font-size="4.6" font-family="Liberation Serif" text-anchor="end" fill="#222" stroke="#222" stroke-width="0.18">10<tspan dx="0.5" dy="-2.6" font-size="3.8">6</tspan></text>
<rect x="208.8" y="132.1" width="0.9" height="0.9" fill="#111"/>
<rect x="208.8" y="139.0" width="0.9" height="0.9" fill="#111"/>
<rect x="216.2" y="120.6" width="0.9" height="0.9" fill="#111"/>
<rect x="210.0" y="129.2" width="0.9" height="0.9" fill="#111"/>
<rect x="209.9" y="127.1" width="0.9" height="0.9" fill="#111"/>
<rect x="217.8" y="119.7" width="0.9" height="0.9" fill="#111"/>
<rect x="212.3" y="145.5" width="0.9" height="0.9" fill="#111"/>
<rect x="210.1" y="129.0" width="0.9" height="0.9" fill="#111"/>
<rect x="209.5" y="138.4" width="0.9" height="0.9" fill="#111"/>
<rect x="217.2" y="147.8" width="0.9" height="0.9" fill="#111"/>
<rect x="211.7" y="125.1" width="0.9" height="0.9" fill="#111"/>
<rect x="213.3" y="146.5" width="0.9" height="0.9" fill="#111"/>
<rect x="214.2" y="122.4" width="0.9" height="0.9" fill="#111"/>
<rect x="209.2" y="139.2" width="0.9" height="0.9" fill="#111"/>
<rect x="214.2" y="120.9" width="0.9" height="0.9" fill="#111"/>
<rect x="213.9" y="122.2" width="0.9" height="0.9" fill="#111"/>
<rect x="209.8" y="140.6" width="0.9" height="0.9" fill="#111"/>
<rect x="214.2" y="120.6" width="0.9" height="0.9" fill="#111"/>
<rect x="216.2" y="147.8" width="0.9" height="0.9" fill="#111"/>
<rect x="213.8" y="146.6" width="0.9" height="0.9" fill="#111"/>
<rect x="208.8" y="137.5" width="0.9" height="0.9" fill="#111"/>
<rect x="213.2" y="145.5" width="0.9" height="0.9" fill="#111"/>
<rect x="209.8" y="140.4" width="0.9" height="0.9" fill="#111"/>
<rect x="208.2" y="133.4" width="0.9" height="0.9" fill="#111"/>
<rect x="209.9" y="127.7" width="0.9" height="0.9" fill="#111"/>
<rect x="208.8" y="130.9" width="0.9" height="0.9" fill="#111"/>
<rect x="219.2" y="149.4" width="0.9" height="0.9" fill="#111"/>
<rect x="211.3" y="123.7" width="0.9" height="0.9" fill="#111"/>
<rect x="212.1" y="123.8" width="0.9" height="0.9" fill="#111"/>
<rect x="210.3" y="141.0" width="0.9" height="0.9" fill="#111"/>
<rect x="209.7" y="130.5" width="0.9" height="0.9" fill="#111"/>
<rect x="218.7" y="148.1" width="0.9" height="0.9" fill="#111"/>
<rect x="215.8" y="148.0" width="0.9" height="0.9" fill="#111"/>
<rect x="219.1" y="147.6" width="0.9" height="0.9" fill="#111"/>
<rect x="216.2" y="147.7" width="0.9" height="0.9" fill="#111"/>
<rect x="211.0" y="142.3" width="0.9" height="0.9" fill="#111"/>
<rect x="214.0" y="121.4" width="0.9" height="0.9" fill="#111"/>
<rect x="216.2" y="148.0" width="0.9" height="0.9" fill="#111"/>
<rect x="211.0" y="143.3" width="0.9" height="0.9" fill="#111"/>
<rect x="216.9" y="149.3" width="0.9" height="0.9" fill="#111"/>
<rect x="217.8" y="120.4" width="0.9" height="0.9" fill="#111"/>
<rect x="209.4" y="137.3" width="0.9" height="0.9" fill="#111"/>
<rect x="217.6" y="148.4" width="0.9" height="0.9" fill="#111"/>
<rect x="212.5" y="146.7" width="0.9" height="0.9" fill="#111"/>
<rect x="215.9" y="147.4" width="0.9" height="0.9" fill="#111"/>
<rect x="216.4" y="120.4" width="0.9" height="0.9" fill="#111"/>
<rect x="216.2" y="148.5" width="0.9" height="0.9" fill="#111"/>
<rect x="220.0" y="148.4" width="0.9" height="0.9" fill="#111"/>
<rect x="219.8" y="157.2" width="0.8" height="0.8" fill="#222"/>
<rect x="220.3" y="148.3" width="0.8" height="0.8" fill="#222"/>
<rect x="214.4" y="149.3" width="0.8" height="0.8" fill="#222"/>
<rect x="219.9" y="151.0" width="0.8" height="0.8" fill="#222"/>
<rect x="221.6" y="154.2" width="0.8" height="0.8" fill="#222"/>
<rect x="216.6" y="154.7" width="0.8" height="0.8" fill="#222"/>
<rect x="219.2" y="157.3" width="0.8" height="0.8" fill="#222"/>
<rect x="220.5" y="154.8" width="0.8" height="0.8" fill="#222"/>
<rect x="213.6" y="153.7" width="0.8" height="0.8" fill="#222"/>
<rect x="218.0" y="149.2" width="0.8" height="0.8" fill="#222"/>
<rect x="220.8" y="147.0" width="0.8" height="0.8" fill="#222"/>
<rect x="219.7" y="148.3" width="0.8" height="0.8" fill="#222"/>
<rect x="217.9" y="153.0" width="0.8" height="0.8" fill="#222"/>
<rect x="220.4" y="156.6" width="0.8" height="0.8" fill="#222"/>
<rect x="216.8" y="157.4" width="0.8" height="0.8" fill="#222"/>
<rect x="220.0" y="148.0" width="0.8" height="0.8" fill="#222"/>
<rect x="216.8" y="148.1" width="0.8" height="0.8" fill="#222"/>
<rect x="218.1" y="152.2" width="0.8" height="0.8" fill="#222"/>
<rect x="219.3" y="156.0" width="0.8" height="0.8" fill="#222"/>
<rect x="219.2" y="152.5" width="0.8" height="0.8" fill="#222"/>
<rect x="214.9" y="154.5" width="0.8" height="0.8" fill="#222"/>
<rect x="221.0" y="156.1" width="0.8" height="0.8" fill="#222"/>
<rect x="219.6" y="154.3" width="0.8" height="0.8" fill="#222"/>
<rect x="217.6" y="147.7" width="0.8" height="0.8" fill="#222"/>
<rect x="214.5" y="154.4" width="0.8" height="0.8" fill="#222"/>
<rect x="205.8" y="130.6" width="1.1" height="1.1" fill="#000"/>
<rect x="207.7" y="146.9" width="1.1" height="1.1" fill="#000"/>
<rect x="205.2" y="132.3" width="1.1" height="1.1" fill="#000"/>
<rect x="208.7" y="140.6" width="1.1" height="1.1" fill="#000"/>
<rect x="208.8" y="125.3" width="1.1" height="1.1" fill="#000"/>
<rect x="205.8" y="145.2" width="1.1" height="1.1" fill="#000"/>
<rect x="205.7" y="125.8" width="1.1" height="1.1" fill="#000"/>
<rect x="206.5" y="147.1" width="1.1" height="1.1" fill="#000"/>
<rect x="209.45" y="159.10" width="16.20" height="1.3" fill="#222" opacity="0.85"/>
<polygon points="227.00,134.50 226.85,136.30 226.56,138.07 226.12,139.78 225.56,141.40 224.88,142.90 224.09,144.26 223.22,145.45 222.27,146.45 221.25,147.25 220.19,147.83 219.10,148.18 218.00,148.30 216.90,148.18 215.81,147.83 214.75,147.25 213.73,146.45 212.78,145.45 211.91,144.26 211.12,142.90 210.44,141.40 209.88,139.78 209.44,138.07 209.15,136.30 209.00,134.50 209.01,132.70 209.17,130.93 209.49,129.22 209.97,127.60 210.60,126.10 211.37,124.74 212.26,123.55 213.27,122.55 214.36,121.75 215.54,121.17 216.76,120.82 218.00,120.70 219.24,120.82 220.46,121.17 221.64,121.75 222.73,122.55 223.74,123.55 224.63,124.74 225.40,126.10 226.03,127.60 226.51,129.22 226.83,130.93 226.99,132.70" fill="url(#bg)" stroke="#4a4a4a" stroke-width="0.8"/>
<polygon points="226.26,134.50 226.13,136.12 225.86,137.71 225.47,139.25 224.97,140.71 224.35,142.06 223.65,143.28 222.86,144.35 222.00,145.26 221.09,145.97 220.14,146.50 219.16,146.81 218.16,146.92 217.17,146.81 216.19,146.50 215.23,145.97 214.32,145.26 213.47,144.35 212.68,143.28 211.97,142.06 211.36,140.71 210.85,139.25 210.46,137.71 210.19,136.12 210.06,134.50 210.07,132.88 210.22,131.29 210.51,129.75 210.94,128.29 211.50,126.94 212.19,125.72 213.00,124.65 213.90,123.74 214.89,123.03 215.94,122.50 217.04,122.19 218.16,122.08 219.28,122.19 220.38,122.50 221.43,123.03 222.42,123.74 223.33,124.65 224.13,125.72 224.82,126.94 225.39,128.29 225.82,129.75 226.11,131.29 226.26,132.88" fill="none" stroke="#a0a0a0" stroke-width="0.55"/>
<polygon points="225.52,134.50 225.41,135.94 225.17,137.36 224.82,138.72 224.37,140.02 223.83,141.22 223.20,142.31 222.50,143.26 221.74,144.06 220.93,144.70 220.08,145.16 219.21,145.45 218.32,145.54 217.44,145.45 216.57,145.16 215.72,144.70 214.91,144.06 214.15,143.26 213.45,142.31 212.82,141.22 212.28,140.02 211.82,138.72 211.48,137.36 211.24,135.94 211.12,134.50 211.13,133.06 211.26,131.64 211.52,130.28 211.90,128.98 212.40,127.78 213.02,126.69 213.73,125.74 214.54,124.94 215.42,124.30 216.35,123.84 217.33,123.55 218.32,123.46 219.32,123.55 220.30,123.84 221.23,124.30 222.11,124.94 222.92,125.74 223.63,126.69 224.24,127.78 224.75,128.98 225.13,130.28 225.39,131.64 225.52,133.06" fill="none" stroke="#929292" stroke-width="0.55"/>
<polygon points="224.79,134.50 224.68,135.76 224.48,137.00 224.17,138.20 223.78,139.33 223.30,140.38 222.75,141.33 222.14,142.16 221.47,142.87 220.76,143.42 220.02,143.83 219.26,144.08 218.49,144.16 217.71,144.08 216.95,143.83 216.21,143.42 215.50,142.87 214.83,142.16 214.22,141.33 213.67,140.38 213.19,139.33 212.80,138.20 212.50,137.00 212.29,135.76 212.19,134.50 212.19,133.24 212.31,132.00 212.53,130.80 212.87,129.67 213.31,128.62 213.84,127.67 214.47,126.84 215.17,126.13 215.94,125.58 216.76,125.17 217.61,124.92 218.49,124.84 219.36,124.92 220.21,125.17 221.03,125.58 221.80,126.13 222.50,126.84 223.13,127.67 223.67,128.62 224.11,129.67 224.44,130.80 224.67,132.00 224.78,133.24" fill="none" stroke="#888" stroke-width="0.55"/>
<polygon points="224.05,134.50 223.96,135.58 223.78,136.64 223.52,137.67 223.18,138.64 222.78,139.54 222.30,140.35 221.78,141.07 221.21,141.67 220.60,142.15 219.96,142.50 219.31,142.71 218.65,142.78 217.99,142.71 217.33,142.50 216.70,142.15 216.09,141.67 215.52,141.07 214.99,140.35 214.52,139.54 214.11,138.64 213.77,137.67 213.51,136.64 213.34,135.58 213.25,134.50 213.25,133.42 213.35,132.36 213.54,131.33 213.83,130.36 214.21,129.46 214.67,128.65 215.20,127.93 215.81,127.33 216.47,126.85 217.17,126.50 217.90,126.29 218.65,126.22 219.39,126.29 220.13,126.50 220.83,126.85 221.49,127.33 222.09,127.93 222.63,128.65 223.09,129.46 223.46,130.36 223.75,131.33 223.94,132.36 224.04,133.42" fill="none" stroke="#828282" stroke-width="0.55"/>
<polygon points="223.31,134.50 223.24,135.40 223.09,136.29 222.87,137.14 222.59,137.95 222.25,138.70 221.86,139.38 221.42,139.97 220.94,140.48 220.44,140.87 219.91,141.16 219.36,141.34 218.81,141.40 218.26,141.34 217.71,141.16 217.18,140.87 216.68,140.48 216.20,139.97 215.76,139.38 215.37,138.70 215.03,137.95 214.75,137.14 214.53,136.29 214.38,135.40 214.31,134.50 214.31,133.60 214.40,132.71 214.56,131.86 214.80,131.05 215.11,130.30 215.49,129.62 215.94,129.03 216.44,128.52 216.99,128.13 217.58,127.84 218.19,127.66 218.81,127.60 219.43,127.66 220.04,127.84 220.63,128.13 221.18,128.52 221.68,129.03 222.13,129.62 222.51,130.30 222.82,131.05 223.06,131.86 223.22,132.71 223.31,133.60" fill="none" stroke="#808080" stroke-width="0.55"/>
<polygon points="222.57,134.50 222.51,135.22 222.40,135.93 222.22,136.61 222.00,137.26 221.72,137.86 221.41,138.40 221.06,138.88 220.68,139.28 220.27,139.60 219.85,139.83 219.41,139.97 218.97,140.02 218.53,139.97 218.09,139.83 217.67,139.60 217.27,139.28 216.88,138.88 216.53,138.40 216.22,137.86 215.95,137.26 215.72,136.61 215.55,135.93 215.43,135.22 215.37,134.50 215.37,133.78 215.44,133.07 215.57,132.39 215.76,131.74 216.01,131.14 216.32,130.60 216.68,130.12 217.08,129.72 217.52,129.40 217.99,129.17 218.47,129.03 218.97,128.98 219.47,129.03 219.96,129.17 220.43,129.40 220.87,129.72 221.27,130.12 221.63,130.60 221.93,131.14 222.18,131.74 222.37,132.39 222.50,133.07 222.57,133.78" fill="none" stroke="#848484" stroke-width="0.55"/>
<polygon points="221.83,134.50 221.79,135.04 221.70,135.57 221.57,136.08 221.40,136.57 221.20,137.02 220.96,137.43 220.70,137.78 220.41,138.09 220.11,138.32 219.79,138.50 219.47,138.60 219.13,138.64 218.80,138.60 218.48,138.50 218.16,138.32 217.85,138.09 217.57,137.78 217.31,137.43 217.07,137.02 216.87,136.57 216.70,136.08 216.57,135.57 216.48,135.04 216.43,134.50 216.44,133.96 216.49,133.43 216.58,132.92 216.73,132.43 216.91,131.98 217.14,131.57 217.41,131.22 217.71,130.91 218.04,130.68 218.39,130.50 218.76,130.40 219.13,130.36 219.51,130.40 219.87,130.50 220.22,130.68 220.55,130.91 220.86,131.22 221.12,131.57 221.35,131.98 221.54,132.43 221.69,132.92 221.78,133.43 221.83,133.96" fill="none" stroke="#8e8e8e" stroke-width="0.55"/>
<polygon points="221.10,134.50 221.07,134.86 221.01,135.21 220.92,135.56 220.81,135.88 220.67,136.18 220.51,136.45 220.34,136.69 220.15,136.89 219.95,137.05 219.73,137.17 219.52,137.24 219.30,137.26 219.08,137.24 218.86,137.17 218.65,137.05 218.44,136.89 218.25,136.69 218.08,136.45 217.92,136.18 217.78,135.88 217.67,135.56 217.58,135.21 217.53,134.86 217.50,134.50 217.50,134.14 217.53,133.79 217.59,133.44 217.69,133.12 217.82,132.82 217.97,132.55 218.15,132.31 218.35,132.11 218.57,131.95 218.80,131.83 219.05,131.76 219.30,131.74 219.54,131.76 219.79,131.83 220.02,131.95 220.24,132.11 220.44,132.31 220.62,132.55 220.78,132.82 220.90,133.12 221.00,133.44 221.06,133.79 221.09,134.14" fill="none" stroke="#a0a0a0" stroke-width="0.55"/>
<ellipse cx="219.35" cy="134.5" rx="0.8099999999999999" ry="3.036" fill="#d8d8d8"/>
<polyline points="219.32,148.13 218.28,148.29 217.23,148.24 216.18,147.98 215.17,147.51 214.18,146.84 213.25,145.97 212.38,144.93 211.58,143.73 210.87,142.39 210.26,140.93 209.75,139.36 209.37,137.72 209.12,136.03 208.99,134.32 209.01,132.61 209.17,130.93 209.47,129.30 209.92,127.76 210.50,126.32 211.20,125.00 212.03,123.83 212.95,122.83 213.97,122.01 215.06,121.38" fill="none" stroke="#1a1a1a" stroke-width="1.3" stroke-dasharray="1.5 0.5"/>
<rect x="208" y="83.3" width="21.599999999999994" height="36.5" fill="none" stroke="#222" stroke-width="1"/>
<text x="217.8" y="68.1" font-size="6" font-weight="bold" font-family="Liberation Serif" text-anchor="middle" fill="#222" stroke="#222" stroke-width="0.2" textLength="15.4" lengthAdjust="spacingAndGlyphs">IFN-G</text>
<text x="217.4" y="74.4" font-size="5.8" font-weight="bold" font-family="Liberation Serif" text-anchor="middle" fill="#333" stroke="#333" stroke-width="0.15">0.080</text>
<rect x="164.1" y="61.9" width="33.80" height="17.90" fill="#fff" stroke="#3a3a3a" stroke-width="1.2"/>
<text x="181.1" y="75.20" font-size="10.4" font-weight="bold" font-family="Liberation Sans" text-anchor="middle" fill="#c8161e" stroke="#c8161e" stroke-width="0.45" textLength="28.02" lengthAdjust="spacingAndGlyphs">0.080</text>
<rect x="279.5" y="60.8" width="101.10000000000002" height="100.50000000000001" fill="none" stroke="#a4a4a4" stroke-width="1.2"/>
<line x1="276.5" y1="60.8" x2="279.5" y2="60.8" stroke="#111" stroke-width="1.1" />
<line x1="276.5" y1="78.54702380952381" x2="279.5" y2="78.54702380952381" stroke="#111" stroke-width="1.1" />
<line x1="276.5" y1="96.49345238095238" x2="279.5" y2="96.49345238095238" stroke="#111" stroke-width="1.1" />
<line x1="276.5" y1="113.94136904761905" x2="279.5" y2="113.94136904761905" stroke="#111" stroke-width="1.1" />
<line x1="276.5" y1="136.97261904761905" x2="279.5" y2="136.97261904761905" stroke="#111" stroke-width="1.1" />
<line x1="276.5" y1="159.40565476190477" x2="279.5" y2="159.40565476190477" stroke="#111" stroke-width="1.1" />
<line x1="278.1" y1="73.20463730909428" x2="279.5" y2="73.20463730909428" stroke="#222" stroke-width="0.6" />
<line x1="278.1" y1="70.07954154198409" x2="279.5" y2="70.07954154198409" stroke="#222" stroke-width="0.6" />
<line x1="278.1" y1="67.86225080866475" x2="279.5" y2="67.86225080866475" stroke="#222" stroke-width="0.6" />
<line x1="278.1" y1="66.14238650042952" x2="279.5" y2="66.14238650042952" stroke="#222" stroke-width="0.6" />
<line x1="278.1" y1="64.73715504155456" x2="279.5" y2="64.73715504155456" stroke="#222" stroke-width="0.6" />
<line x1="278.1" y1="63.54904877200889" x2="279.5" y2="63.54904877200889" stroke="#222" stroke-width="0.6" />
<line x1="278.1" y1="62.51986430823524" x2="279.5" y2="62.51986430823524" stroke="#222" stroke-width="0.6" />
<line x1="278.1" y1="61.61205927444436" x2="279.5" y2="61.61205927444436" stroke="#222" stroke-width="0.6" />
<line x1="278.1" y1="91.09103906591129" x2="279.5" y2="91.09103906591129" stroke="#222" stroke-width="0.6" />
<line x1="278.1" y1="87.93082986321558" x2="279.5" y2="87.93082986321558" stroke="#222" stroke-width="0.6" />
<line x1="278.1" y1="85.6886257508702" x2="279.5" y2="85.6886257508702" stroke="#222" stroke-width="0.6" />
<line x1="278.1" y1="83.9494371245649" x2="279.5" y2="83.9494371245649" stroke="#222" stroke-width="0.6" />
<line x1="278.1" y1="82.52841654817449" x2="279.5" y2="82.52841654817449" stroke="#222" stroke-width="0.6" />
<line x1="278.1" y1="81.32696076998224" x2="279.5" y2="81.32696076998224" stroke="#222" stroke-width="0.6" />
<line x1="278.1" y1="80.2862124358291" x2="279.5" y2="80.2862124358291" stroke="#222" stroke-width="0.6" />
<line x1="278.1" y1="79.36820734547878" x2="279.5" y2="79.36820734547878" stroke="#222" stroke-width="0.6" />
<line x1="278.1" y1="108.68902276910687" x2="279.5" y2="108.68902276910687" stroke="#222" stroke-width="0.6" />
<line x1="278.1" y1="105.61659715537493" x2="279.5" y2="105.61659715537493" stroke="#222" stroke-width="0.6" />
<line x1="278.1" y1="103.4366764905947" x2="279.5" y2="103.4366764905947" stroke="#222" stroke-width="0.6" />
<line x1="278.1" y1="101.74579865946455" x2="279.5" y2="101.74579865946455" stroke="#222" stroke-width="0.6" />
<line x1="278.1" y1="100.36425087686277" x2="279.5" y2="100.36425087686277" stroke="#222" stroke-width="0.6" />
<line x1="278.1" y1="99.19616887028695" x2="279.5" y2="99.19616887028695" stroke="#222" stroke-width="0.6" />
<line x1="278.1" y1="98.18433021208253" x2="279.5" y2="98.18433021208253" stroke="#222" stroke-width="0.6" />
<line x1="278.1" y1="97.29182526313082" x2="279.5" y2="97.29182526313082" stroke="#222" stroke-width="0.6" />
<line x1="277.9" y1="133.34519717261904" x2="279.5" y2="133.34519717261904" stroke="#111" stroke-width="0.7" />
<line x1="277.9" y1="139.32808779761905" x2="279.5" y2="139.32808779761905" stroke="#111" stroke-width="0.7" />
<line x1="277.9" y1="131.27238467261904" x2="279.5" y2="131.27238467261904" stroke="#111" stroke-width="0.7" />
<line x1="277.9" y1="140.6740699404762" x2="279.5" y2="140.6740699404762" stroke="#111" stroke-width="0.7" />
<line x1="277.9" y1="129.71777529761906" x2="279.5" y2="129.71777529761906" stroke="#111" stroke-width="0.7" />
<line x1="277.9" y1="141.68355654761905" x2="279.5" y2="141.68355654761905" stroke="#111" stroke-width="0.7" />
<line x1="277.9" y1="128.68136904761906" x2="279.5" y2="128.68136904761906" stroke="#111" stroke-width="0.7" />
<line x1="277.9" y1="142.35654761904763" x2="279.5" y2="142.35654761904763" stroke="#111" stroke-width="0.7" />
<line x1="277.9" y1="127.85224404761905" x2="279.5" y2="127.85224404761905" stroke="#111" stroke-width="0.7" />
<line x1="277.9" y1="142.89494047619047" x2="279.5" y2="142.89494047619047" stroke="#111" stroke-width="0.7" />
<line x1="277.9" y1="127.23040029761904" x2="279.5" y2="127.23040029761904" stroke="#111" stroke-width="0.7" />
<line x1="277.9" y1="143.29873511904762" x2="279.5" y2="143.29873511904762" stroke="#111" stroke-width="0.7" />
<line x1="278.3" y1="153.79739583333333" x2="279.5" y2="153.79739583333333" stroke="#333" stroke-width="0.5" />
<line x1="278.3" y1="148.1891369047619" x2="279.5" y2="148.1891369047619" stroke="#333" stroke-width="0.5" />
<line x1="278.3" y1="142.5808779761905" x2="279.5" y2="142.5808779761905" stroke="#333" stroke-width="0.5" />
<rect x="277.50" y="131.77" width="2" height="9.8" fill="#444"/>
<text x="272.20" y="67.80" font-size="4.6" font-family="Liberation Serif" text-anchor="end" fill="#222" stroke="#222" stroke-width="0.18">10</text>
<text x="272.70" y="65.20" font-size="3.8" font-family="Liberation Serif" fill="#222" stroke="#222" stroke-width="0.15">6</text>
<text x="272.20" y="81.15" font-size="4.6" font-family="Liberation Serif" text-anchor="end" fill="#222" stroke="#222" stroke-width="0.18">10</text>
<text x="272.70" y="78.55" font-size="3.8" font-family="Liberation Serif" fill="#222" stroke="#222" stroke-width="0.15">5</text>
<text x="272.20" y="99.09" font-size="4.6" font-family="Liberation Serif" text-anchor="end" fill="#222" stroke="#222" stroke-width="0.18">10</text>
<text x="272.70" y="96.49" font-size="3.8" font-family="Liberation Serif" fill="#222" stroke="#222" stroke-width="0.15">4</text>
<text x="272.20" y="116.54" font-size="4.6" font-family="Liberation Serif" text-anchor="end" fill="#222" stroke="#222" stroke-width="0.18">10</text>
<text x="272.70" y="113.94" font-size="3.8" font-family="Liberation Serif" fill="#222" stroke="#222" stroke-width="0.15">3</text>
<text x="272.80" y="139.57" font-size="4.6" font-family="Liberation Serif" text-anchor="end" fill="#222" stroke="#222" stroke-width="0.18">0</text>
<text x="272.20" y="162.01" font-size="4.6" font-family="Liberation Serif" text-anchor="end" fill="#222" stroke="#222" stroke-width="0.18">-10</text>
<text x="272.70" y="159.41" font-size="3.8" font-family="Liberation Serif" fill="#222" stroke="#222" stroke-width="0.15">3</text>
<line x1="283.43896103896105" y1="161.3" x2="283.43896103896105" y2="164.10000000000002" stroke="#111" stroke-width="0.9" />
<line x1="305.2547452547453" y1="161.3" x2="305.2547452547453" y2="164.10000000000002" stroke="#111" stroke-width="0.9" />
<line x1="325.8585414585415" y1="161.3" x2="325.8585414585415" y2="164.10000000000002" stroke="#111" stroke-width="0.9" />
<line x1="344.24035964035966" y1="161.3" x2="344.24035964035966" y2="164.10000000000002" stroke="#111" stroke-width="0.9" />
<line x1="362.62217782217783" y1="161.3" x2="362.62217782217783" y2="164.10000000000002" stroke="#111" stroke-width="0.9" />
<line x1="380.6" y1="161.3" x2="380.6" y2="164.10000000000002" stroke="#111" stroke-width="0.9" />
<line x1="331.3920201061103" y1="161.3" x2="331.3920201061103" y2="162.70000000000002" stroke="#222" stroke-width="0.6" />
<line x1="334.6288976134793" y1="161.3" x2="334.6288976134793" y2="162.70000000000002" stroke="#222" stroke-width="0.6" />
<line x1="336.9254987536791" y1="161.3" x2="336.9254987536791" y2="162.70000000000002" stroke="#222" stroke-width="0.6" />
<line x1="338.70688099279084" y1="161.3" x2="338.70688099279084" y2="162.70000000000002" stroke="#222" stroke-width="0.6" />
<line x1="340.1623762610481" y1="161.3" x2="340.1623762610481" y2="162.70000000000002" stroke="#222" stroke-width="0.6" />
<line x1="341.39297997589443" y1="161.3" x2="341.39297997589443" y2="162.70000000000002" stroke="#222" stroke-width="0.6" />
<line x1="342.4589774012479" y1="161.3" x2="342.4589774012479" y2="162.70000000000002" stroke="#222" stroke-width="0.6" />
<line x1="343.39925376841705" y1="161.3" x2="343.39925376841705" y2="162.70000000000002" stroke="#222" stroke-width="0.6" />
<line x1="349.77383828792847" y1="161.3" x2="349.77383828792847" y2="162.70000000000002" stroke="#222" stroke-width="0.6" />
<line x1="353.0107157952975" y1="161.3" x2="353.0107157952975" y2="162.70000000000002" stroke="#222" stroke-width="0.6" />
<line x1="355.3073169354973" y1="161.3" x2="355.3073169354973" y2="162.70000000000002" stroke="#222" stroke-width="0.6" />
<line x1="357.088699174609" y1="161.3" x2="357.088699174609" y2="162.70000000000002" stroke="#222" stroke-width="0.6" />
<line x1="358.5441944428663" y1="161.3" x2="358.5441944428663" y2="162.70000000000002" stroke="#222" stroke-width="0.6" />
<line x1="359.7747981577126" y1="161.3" x2="359.7747981577126" y2="162.70000000000002" stroke="#222" stroke-width="0.6" />
<line x1="360.8407955830661" y1="161.3" x2="360.8407955830661" y2="162.70000000000002" stroke="#222" stroke-width="0.6" />
<line x1="361.78107195023523" y1="161.3" x2="361.78107195023523" y2="162.70000000000002" stroke="#222" stroke-width="0.6" />
<line x1="368.03404155441547" y1="161.3" x2="368.03404155441547" y2="162.70000000000002" stroke="#222" stroke-width="0.6" />
<line x1="371.19977889678734" y1="161.3" x2="371.19977889678734" y2="162.70000000000002" stroke="#222" stroke-width="0.6" />
<line x1="373.4459052866531" y1="161.3" x2="373.4459052866531" y2="162.70000000000002" stroke="#222" stroke-width="0.6" />
<line x1="375.1881362677624" y1="161.3" x2="375.1881362677624" y2="162.70000000000002" stroke="#222" stroke-width="0.6" />
<line x1="376.61164262902497" y1="161.3" x2="376.61164262902497" y2="162.70000000000002" stroke="#222" stroke-width="0.6" />
<line x1="377.8152001083802" y1="161.3" x2="377.8152001083802" y2="162.70000000000002" stroke="#222" stroke-width="0.6" />
<line x1="378.85776901889074" y1="161.3" x2="378.85776901889074" y2="162.70000000000002" stroke="#222" stroke-width="0.6" />
<line x1="379.77737997139684" y1="161.3" x2="379.77737997139684" y2="162.70000000000002" stroke="#222" stroke-width="0.6" />
<rect x="300.7547452547453" y="161.3" width="8" height="2.2" fill="#111"/>
<line x1="288.8929070929071" y1="161.3" x2="288.8929070929071" y2="162.60000000000002" stroke="#333" stroke-width="0.6" />
<line x1="294.34685314685316" y1="161.3" x2="294.34685314685316" y2="162.60000000000002" stroke="#333" stroke-width="0.6" />
<line x1="299.80079920079925" y1="161.3" x2="299.80079920079925" y2="162.60000000000002" stroke="#333" stroke-width="0.6" />
<line x1="311.43588411588416" y1="161.3" x2="311.43588411588416" y2="162.60000000000002" stroke="#333" stroke-width="0.6" />
<line x1="316.5868331668332" y1="161.3" x2="316.5868331668332" y2="162.60000000000002" stroke="#333" stroke-width="0.6" />
<line x1="320.7075924075924" y1="161.3" x2="320.7075924075924" y2="162.60000000000002" stroke="#333" stroke-width="0.6" />
<text x="285.43896103896105" y="170.9" font-size="4.6" font-family="Liberation Serif" text-anchor="middle" fill="#222" stroke="#222" stroke-width="0.18">-10<tspan dx="0.5" dy="-2.6" font-size="3.8">3</tspan></text>
<text x="305.2547452547453" y="170.9" font-size="4.6" font-family="Liberation Serif" text-anchor="middle" fill="#222" stroke="#222" stroke-width="0.18">0</text>
<text x="325.25854145854146" y="170.9" font-size="4.6" font-family="Liberation Serif" text-anchor="start" fill="#222" stroke="#222" stroke-width="0.18">10<tspan dx="0.5" dy="-2.6" font-size="3.8">3</tspan></text>
<text x="343.94035964035965" y="170.9" font-size="4.6" font-family="Liberation Serif" text-anchor="start" fill="#222" stroke="#222" stroke-width="0.18">10<tspan dx="0.5" dy="-2.6" font-size="3.8">4</tspan></text>
<text x="362.62217782217783" y="170.9" font-size="4.6" font-family="Liberation Serif" text-anchor="start" fill="#222" stroke="#222" stroke-width="0.18">10<tspan dx="0.5" dy="-2.6" font-size="3.8">5</tspan></text>
<text x="381.0" y="170.9" font-size="4.6" font-family="Liberation Serif" text-anchor="end" fill="#222" stroke="#222" stroke-width="0.18">10<tspan dx="0.5" dy="-2.6" font-size="3.8">6</tspan></text>
<rect x="328.9" y="142.3" width="0.9" height="0.9" fill="#111"/>
<rect x="334.8" y="146.2" width="0.9" height="0.9" fill="#111"/>
<rect x="335.1" y="120.6" width="0.9" height="0.9" fill="#111"/>
<rect x="326.4" y="134.9" width="0.9" height="0.9" fill="#111"/>
<rect x="327.2" y="139.2" width="0.9" height="0.9" fill="#111"/>
<rect x="331.1" y="123.6" width="0.9" height="0.9" fill="#111"/>
<rect x="331.3" y="144.9" width="0.9" height="0.9" fill="#111"/>
<rect x="331.5" y="145.6" width="0.9" height="0.9" fill="#111"/>
<rect x="331.1" y="144.9" width="0.9" height="0.9" fill="#111"/>
<rect x="334.7" y="147.8" width="0.9" height="0.9" fill="#111"/>
<rect x="328.9" y="142.1" width="0.9" height="0.9" fill="#111"/>
<rect x="326.5" y="132.2" width="0.9" height="0.9" fill="#111"/>
<rect x="327.3" y="139.8" width="0.9" height="0.9" fill="#111"/>
<rect x="327.0" y="136.0" width="0.9" height="0.9" fill="#111"/>
<rect x="327.6" y="134.9" width="0.9" height="0.9" fill="#111"/>
<rect x="327.9" y="138.5" width="0.9" height="0.9" fill="#111"/>
<rect x="338.8" y="147.1" width="0.9" height="0.9" fill="#111"/>
<rect x="333.5" y="146.6" width="0.9" height="0.9" fill="#111"/>
<rect x="328.6" y="126.3" width="0.9" height="0.9" fill="#111"/>
<rect x="329.4" y="143.1" width="0.9" height="0.9" fill="#111"/>
<rect x="326.6" y="133.5" width="0.9" height="0.9" fill="#111"/>
<rect x="335.5" y="147.3" width="0.9" height="0.9" fill="#111"/>
<rect x="331.4" y="144.9" width="0.9" height="0.9" fill="#111"/>
<rect x="329.6" y="124.7" width="0.9" height="0.9" fill="#111"/>
<rect x="326.6" y="133.2" width="0.9" height="0.9" fill="#111"/>
<rect x="333.3" y="121.5" width="0.9" height="0.9" fill="#111"/>
<rect x="327.2" y="131.0" width="0.9" height="0.9" fill="#111"/>
<rect x="326.8" y="135.6" width="0.9" height="0.9" fill="#111"/>
<rect x="327.4" y="138.2" width="0.9" height="0.9" fill="#111"/>
<rect x="326.7" y="137.2" width="0.9" height="0.9" fill="#111"/>
<rect x="327.8" y="127.0" width="0.9" height="0.9" fill="#111"/>
<rect x="334.3" y="121.5" width="0.9" height="0.9" fill="#111"/>
<rect x="326.4" y="133.3" width="0.9" height="0.9" fill="#111"/>
<rect x="331.5" y="123.3" width="0.9" height="0.9" fill="#111"/>
<rect x="335.0" y="147.0" width="0.9" height="0.9" fill="#111"/>
<rect x="336.6" y="146.7" width="0.9" height="0.9" fill="#111"/>
<rect x="336.6" y="147.5" width="0.9" height="0.9" fill="#111"/>
<rect x="329.5" y="123.8" width="0.9" height="0.9" fill="#111"/>
<rect x="334.0" y="147.2" width="0.9" height="0.9" fill="#111"/>
<rect x="328.0" y="129.2" width="0.9" height="0.9" fill="#111"/>
<rect x="332.2" y="121.1" width="0.9" height="0.9" fill="#111"/>
<rect x="331.9" y="146.6" width="0.9" height="0.9" fill="#111"/>
<rect x="333.1" y="158.4" width="0.8" height="0.8" fill="#222"/>
<rect x="337.4" y="155.4" width="0.8" height="0.8" fill="#222"/>
<rect x="337.0" y="150.4" width="0.8" height="0.8" fill="#222"/>
<rect x="337.9" y="148.1" width="0.8" height="0.8" fill="#222"/>
<rect x="336.3" y="153.5" width="0.8" height="0.8" fill="#222"/>
<rect x="337.7" y="145.6" width="0.8" height="0.8" fill="#222"/>
<rect x="332.9" y="145.6" width="0.8" height="0.8" fill="#222"/>
<rect x="334.6" y="148.0" width="0.8" height="0.8" fill="#222"/>
<rect x="333.3" y="145.7" width="0.8" height="0.8" fill="#222"/>
<rect x="333.3" y="158.3" width="0.8" height="0.8" fill="#222"/>
<rect x="337.2" y="146.0" width="0.8" height="0.8" fill="#222"/>
<rect x="328.7" y="147.3" width="0.8" height="0.8" fill="#222"/>
<rect x="340.0" y="147.4" width="0.8" height="0.8" fill="#222"/>
<rect x="336.7" y="146.1" width="0.8" height="0.8" fill="#222"/>
<rect x="330.4" y="155.2" width="0.8" height="0.8" fill="#222"/>
<rect x="338.3" y="147.2" width="0.8" height="0.8" fill="#222"/>
<rect x="339.1" y="151.1" width="0.8" height="0.8" fill="#222"/>
<rect x="340.3" y="153.2" width="0.8" height="0.8" fill="#222"/>
<rect x="336.3" y="153.0" width="0.8" height="0.8" fill="#222"/>
<rect x="336.0" y="149.1" width="0.8" height="0.8" fill="#222"/>
<rect x="341.2" y="152.1" width="0.8" height="0.8" fill="#222"/>
<rect x="338.3" y="154.9" width="0.8" height="0.8" fill="#222"/>
<rect x="323.9" y="124.5" width="1.1" height="1.1" fill="#000"/>
<rect x="323.8" y="124.1" width="1.1" height="1.1" fill="#000"/>
<rect x="326.1" y="133.2" width="1.1" height="1.1" fill="#000"/>
<rect x="323.6" y="135.6" width="1.1" height="1.1" fill="#000"/>
<rect x="327.1" y="128.8" width="1.1" height="1.1" fill="#000"/>
<rect x="326.6" y="135.0" width="1.1" height="1.1" fill="#000"/>
<rect x="326.9" y="125.1" width="1.1" height="1.1" fill="#000"/>
<rect x="326.8" y="123.7" width="1.1" height="1.1" fill="#000"/>
<rect x="326.3" y="129.9" width="1.1" height="1.1" fill="#000"/>
<rect x="326.4" y="140.5" width="1.1" height="1.1" fill="#000"/>
<rect x="326.9" y="134.3" width="1.1" height="1.1" fill="#000"/>
<rect x="327.6" y="130.7" width="1.1" height="1.1" fill="#000"/>
<rect x="327.6" y="128.4" width="1.1" height="1.1" fill="#000"/>
<rect x="325.2" y="139.8" width="1.1" height="1.1" fill="#000"/>
<rect x="325.6" y="127.0" width="1.1" height="1.1" fill="#000"/>
<rect x="327.2" y="144.6" width="1.1" height="1.1" fill="#000"/>
<rect x="325.7" y="141.9" width="1.1" height="1.1" fill="#000"/>
<rect x="324.0" y="134.2" width="1.1" height="1.1" fill="#000"/>
<rect x="325.4" y="131.8" width="1.1" height="1.1" fill="#000"/>
<rect x="323.3" y="138.8" width="1.1" height="1.1" fill="#000"/>
<rect x="324.0" y="130.6" width="1.1" height="1.1" fill="#000"/>
<rect x="324.8" y="139.2" width="1.1" height="1.1" fill="#000"/>
<rect x="326.1" y="132.1" width="1.1" height="1.1" fill="#000"/>
<rect x="327.1" y="123.8" width="1.1" height="1.1" fill="#000"/>
<rect x="324.4" y="124.2" width="1.1" height="1.1" fill="#000"/>
<rect x="326.9" y="128.5" width="1.1" height="1.1" fill="#000"/>
<rect x="323.9" y="124.5" width="1.1" height="1.1" fill="#000"/>
<rect x="324.7" y="143.1" width="1.1" height="1.1" fill="#000"/>
<rect x="326.6" y="129.2" width="1.1" height="1.1" fill="#000"/>
<rect x="325.6" y="129.4" width="1.1" height="1.1" fill="#000"/>
<rect x="325.7" y="126.2" width="1.1" height="1.1" fill="#000"/>
<rect x="323.4" y="128.7" width="1.1" height="1.1" fill="#000"/>
<rect x="325.2" y="145.5" width="1.1" height="1.1" fill="#000"/>
<rect x="323.4" y="128.3" width="1.1" height="1.1" fill="#000"/>
<rect x="326.1" y="129.8" width="1.1" height="1.1" fill="#000"/>
<rect x="326.0" y="122.5" width="1.1" height="1.1" fill="#000"/>
<rect x="325.4" y="133.7" width="1.1" height="1.1" fill="#000"/>
<rect x="325.4" y="127.2" width="1.1" height="1.1" fill="#000"/>
<rect x="326.5" y="122.6" width="1.1" height="1.1" fill="#000"/>
<rect x="325.9" y="124.6" width="1.1" height="1.1" fill="#000"/>
<rect x="327.5" y="123.5" width="1.1" height="1.1" fill="#000"/>
<rect x="326.6" y="129.7" width="1.1" height="1.1" fill="#000"/>
<rect x="325.3" y="136.3" width="1.1" height="1.1" fill="#000"/>
<rect x="324.7" y="140.3" width="1.1" height="1.1" fill="#000"/>
<rect x="323.8" y="139.4" width="1.1" height="1.1" fill="#000"/>
<rect x="326.2" y="131.7" width="1.1" height="1.1" fill="#000"/>
<rect x="327.0" y="145.8" width="1.1" height="1.1" fill="#000"/>
<rect x="324.8" y="139.6" width="1.1" height="1.1" fill="#000"/>
<rect x="324.0" y="123.5" width="1.1" height="1.1" fill="#000"/>
<rect x="324.9" y="143.6" width="1.1" height="1.1" fill="#000"/>
<rect x="324.1" y="139.9" width="1.1" height="1.1" fill="#000"/>
<rect x="325.3" y="125.8" width="1.1" height="1.1" fill="#000"/>
<rect x="324.0" y="134.4" width="1.1" height="1.1" fill="#000"/>
<rect x="324.0" y="141.5" width="1.1" height="1.1" fill="#000"/>
<rect x="323.7" y="136.3" width="1.1" height="1.1" fill="#000"/>
<rect x="324.6" y="138.7" width="1.1" height="1.1" fill="#000"/>
<rect x="327.5" y="127.9" width="1.1" height="1.1" fill="#000"/>
<rect x="326.1" y="125.6" width="1.1" height="1.1" fill="#000"/>
<rect x="324.0" y="125.0" width="1.1" height="1.1" fill="#000"/>
<rect x="324.9" y="135.7" width="1.1" height="1.1" fill="#000"/>
<rect x="327.64" y="160.30" width="15.84" height="1.3" fill="#222" opacity="0.85"/>
<path d="M331.16,120.944 L323.0,120.432 L321.59999999999997,126.32 L322.0,136.56 L321.4,141.68 L323.7,146.16 L334.24,147.824 L336,146.544 Z" fill="#222"/>
<rect x="325.3" y="136.0" width="0.7" height="0.7" fill="#ddd"/>
<rect x="324.6" y="121.3" width="0.7" height="0.7" fill="#ddd"/>
<rect x="326.2" y="137.5" width="0.7" height="0.7" fill="#ddd"/>
<rect x="324.7" y="132.8" width="0.7" height="0.7" fill="#ddd"/>
<rect x="325.5" y="122.6" width="0.7" height="0.7" fill="#ddd"/>
<rect x="325.9" y="126.7" width="0.7" height="0.7" fill="#ddd"/>
<rect x="322.6" y="127.0" width="0.7" height="0.7" fill="#ddd"/>
<rect x="325.8" y="125.7" width="0.7" height="0.7" fill="#ddd"/>
<rect x="325.9" y="142.4" width="0.7" height="0.7" fill="#ddd"/>
<rect x="324.7" y="129.5" width="0.7" height="0.7" fill="#ddd"/>
<rect x="324.6" y="136.1" width="0.7" height="0.7" fill="#ddd"/>
<rect x="326.0" y="134.6" width="0.7" height="0.7" fill="#ddd"/>
<rect x="325.4" y="122.9" width="0.7" height="0.7" fill="#ddd"/>
<rect x="322.9" y="126.7" width="0.7" height="0.7" fill="#ddd"/>
<rect x="325.9" y="127.8" width="0.7" height="0.7" fill="#ddd"/>
<rect x="325.0" y="121.5" width="0.7" height="0.7" fill="#ddd"/>
<rect x="322.5" y="127.0" width="0.7" height="0.7" fill="#ddd"/>
<rect x="325.6" y="136.3" width="0.7" height="0.7" fill="#ddd"/>
<rect x="325.6" y="127.5" width="0.7" height="0.7" fill="#ddd"/>
<rect x="324.8" y="131.3" width="0.7" height="0.7" fill="#ddd"/>
<rect x="324.5" y="123.8" width="0.7" height="0.7" fill="#ddd"/>
<rect x="326.7" y="125.5" width="0.7" height="0.7" fill="#ddd"/>
<rect x="327.1" y="141.6" width="0.7" height="0.7" fill="#ddd"/>
<rect x="322.3" y="131.2" width="0.7" height="0.7" fill="#ddd"/>
<rect x="326.3" y="142.3" width="0.7" height="0.7" fill="#ddd"/>
<rect x="324.4" y="127.0" width="0.7" height="0.7" fill="#ddd"/>
<rect x="323.2" y="141.8" width="0.7" height="0.7" fill="#ddd"/>
<rect x="323.3" y="133.9" width="0.7" height="0.7" fill="#ddd"/>
<rect x="322.9" y="132.6" width="0.7" height="0.7" fill="#ddd"/>
<rect x="327.0" y="124.1" width="0.7" height="0.7" fill="#ddd"/>
<rect x="326.3" y="132.3" width="0.7" height="0.7" fill="#ddd"/>
<rect x="326.6" y="136.5" width="0.7" height="0.7" fill="#ddd"/>
<rect x="323.4" y="140.7" width="0.7" height="0.7" fill="#ddd"/>
<rect x="324.6" y="121.7" width="0.7" height="0.7" fill="#ddd"/>
<rect x="322.2" y="131.9" width="0.7" height="0.7" fill="#ddd"/>
<rect x="324.5" y="127.8" width="0.7" height="0.7" fill="#ddd"/>
<rect x="322.9" y="128.7" width="0.7" height="0.7" fill="#ddd"/>
<rect x="323.8" y="139.5" width="0.7" height="0.7" fill="#ddd"/>
<rect x="322.2" y="137.5" width="0.7" height="0.7" fill="#ddd"/>
<rect x="326.4" y="123.8" width="0.7" height="0.7" fill="#ddd"/>
<polygon points="344.80,134.00 344.66,135.67 344.37,137.31 343.94,138.90 343.39,140.40 342.73,141.79 341.96,143.05 341.10,144.15 340.17,145.09 339.18,145.83 338.15,146.36 337.08,146.69 336.00,146.80 334.92,146.69 333.85,146.36 332.82,145.83 331.83,145.09 330.90,144.15 330.04,143.05 329.27,141.79 328.61,140.40 328.06,138.90 327.63,137.31 327.34,135.67 327.20,134.00 327.21,132.33 327.37,130.69 327.68,129.10 328.15,127.60 328.76,126.21 329.51,124.95 330.39,123.85 331.37,122.91 332.45,122.17 333.59,121.64 334.78,121.31 336.00,121.20 337.22,121.31 338.41,121.64 339.55,122.17 340.63,122.91 341.61,123.85 342.49,124.95 343.24,126.21 343.85,127.60 344.32,129.10 344.63,130.69 344.79,132.33" fill="none" stroke="#fff" stroke-width="2.4"/>
<rect x="341.6" y="154.7" width="0.9" height="0.9" fill="#111"/>
<rect x="341.1" y="147.9" width="0.9" height="0.9" fill="#111"/>
<rect x="330.9" y="149.4" width="0.9" height="0.9" fill="#111"/>
<rect x="343.0" y="152.5" width="0.9" height="0.9" fill="#111"/>
<rect x="330.7" y="149.9" width="0.9" height="0.9" fill="#111"/>
<rect x="329.0" y="145.2" width="0.9" height="0.9" fill="#111"/>
<rect x="325.6" y="156.9" width="0.9" height="0.9" fill="#111"/>
<rect x="329.2" y="158.8" width="0.9" height="0.9" fill="#111"/>
<rect x="328.5" y="147.6" width="0.9" height="0.9" fill="#111"/>
<rect x="333.6" y="146.6" width="0.9" height="0.9" fill="#111"/>
<rect x="330.9" y="159.2" width="0.9" height="0.9" fill="#111"/>
<rect x="340.8" y="156.5" width="0.9" height="0.9" fill="#111"/>
<rect x="335.9" y="158.4" width="0.9" height="0.9" fill="#111"/>
<rect x="341.9" y="151.9" width="0.9" height="0.9" fill="#111"/>
<rect x="337.6" y="145.2" width="0.9" height="0.9" fill="#111"/>
<rect x="337.9" y="150.3" width="0.9" height="0.9" fill="#111"/>
<rect x="338.3" y="153.5" width="0.9" height="0.9" fill="#111"/>
<rect x="329.2" y="145.2" width="0.9" height="0.9" fill="#111"/>
<rect x="341.6" y="145.9" width="0.9" height="0.9" fill="#111"/>
<rect x="332.8" y="148.7" width="0.9" height="0.9" fill="#111"/>
<rect x="329.4" y="155.2" width="0.9" height="0.9" fill="#111"/>
<rect x="342.6" y="147.5" width="0.9" height="0.9" fill="#111"/>
<rect x="336.4" y="148.1" width="0.9" height="0.9" fill="#111"/>
<rect x="334.5" y="149.4" width="0.9" height="0.9" fill="#111"/>
<rect x="326.9" y="146.3" width="0.9" height="0.9" fill="#111"/>
<rect x="327.7" y="158.3" width="0.9" height="0.9" fill="#111"/>
<rect x="333.3" y="147.0" width="0.9" height="0.9" fill="#111"/>
<rect x="341.2" y="160.0" width="0.9" height="0.9" fill="#111"/>
<rect x="332.4" y="146.1" width="0.9" height="0.9" fill="#111"/>
<rect x="327.4" y="145.6" width="0.9" height="0.9" fill="#111"/>
<rect x="330.3" y="145.6" width="0.9" height="0.9" fill="#111"/>
<rect x="328.3" y="147.5" width="0.9" height="0.9" fill="#111"/>
<rect x="334.7" y="157.9" width="0.9" height="0.9" fill="#111"/>
<rect x="338.2" y="149.7" width="0.9" height="0.9" fill="#111"/>
<rect x="331.7" y="151.5" width="0.9" height="0.9" fill="#111"/>
<rect x="331.0" y="148.6" width="0.9" height="0.9" fill="#111"/>
<rect x="324.9" y="147.8" width="0.9" height="0.9" fill="#111"/>
<rect x="342.4" y="145.9" width="0.9" height="0.9" fill="#111"/>
<rect x="333.4" y="153.2" width="0.9" height="0.9" fill="#111"/>
<rect x="340.4" y="147.0" width="0.9" height="0.9" fill="#111"/>
<rect x="328.9" y="147.4" width="0.9" height="0.9" fill="#111"/>
<rect x="331.4" y="150.2" width="0.9" height="0.9" fill="#111"/>
<rect x="342.1" y="157.2" width="0.9" height="0.9" fill="#111"/>
<rect x="340.6" y="145.0" width="0.9" height="0.9" fill="#111"/>
<rect x="324.3" y="154.6" width="0.9" height="0.9" fill="#111"/>
<polygon points="344.80,134.00 344.66,135.67 344.37,137.31 343.94,138.90 343.39,140.40 342.73,141.79 341.96,143.05 341.10,144.15 340.17,145.09 339.18,145.83 338.15,146.36 337.08,146.69 336.00,146.80 334.92,146.69 333.85,146.36 332.82,145.83 331.83,145.09 330.90,144.15 330.04,143.05 329.27,141.79 328.61,140.40 328.06,138.90 327.63,137.31 327.34,135.67 327.20,134.00 327.21,132.33 327.37,130.69 327.68,129.10 328.15,127.60 328.76,126.21 329.51,124.95 330.39,123.85 331.37,122.91 332.45,122.17 333.59,121.64 334.78,121.31 336.00,121.20 337.22,121.31 338.41,121.64 339.55,122.17 340.63,122.91 341.61,123.85 342.49,124.95 343.24,126.21 343.85,127.60 344.32,129.10 344.63,130.69 344.79,132.33" fill="url(#bg)" stroke="#4a4a4a" stroke-width="0.8"/>
<polygon points="344.08,134.00 343.95,135.50 343.69,136.98 343.31,138.41 342.81,139.76 342.21,141.01 341.52,142.15 340.75,143.14 339.91,143.98 339.02,144.64 338.09,145.13 337.13,145.42 336.16,145.52 335.19,145.42 334.23,145.13 333.30,144.64 332.40,143.98 331.57,143.14 330.80,142.15 330.10,141.01 329.51,139.76 329.01,138.41 328.63,136.98 328.37,135.50 328.24,134.00 328.24,132.50 328.39,131.02 328.67,129.59 329.09,128.24 329.65,126.99 330.32,125.85 331.11,124.86 331.99,124.02 332.96,123.36 333.99,122.87 335.06,122.58 336.16,122.48 337.25,122.58 338.33,122.87 339.36,123.36 340.32,124.02 341.21,124.86 342.00,125.85 342.67,126.99 343.22,128.24 343.64,129.59 343.93,131.02 344.07,132.50" fill="none" stroke="#a0a0a0" stroke-width="0.55"/>
<polygon points="343.36,134.00 343.24,135.34 343.01,136.65 342.67,137.92 342.23,139.12 341.70,140.23 341.08,141.24 340.40,142.12 339.65,142.87 338.86,143.46 338.03,143.89 337.18,144.15 336.32,144.24 335.45,144.15 334.60,143.89 333.77,143.46 332.98,142.87 332.24,142.12 331.55,141.24 330.94,140.23 330.40,139.12 329.96,137.92 329.62,136.65 329.39,135.34 329.28,134.00 329.28,132.66 329.41,131.35 329.66,130.08 330.04,128.88 330.53,127.77 331.13,126.76 331.83,125.88 332.61,125.13 333.47,124.54 334.39,124.11 335.34,123.85 336.32,123.76 337.29,123.85 338.24,124.11 339.16,124.54 340.02,125.13 340.81,125.88 341.51,126.76 342.11,127.77 342.60,128.88 342.97,130.08 343.22,131.35 343.35,132.66" fill="none" stroke="#929292" stroke-width="0.55"/>
<polygon points="342.64,134.00 342.53,135.17 342.33,136.32 342.04,137.43 341.65,138.48 341.18,139.45 340.65,140.34 340.05,141.11 339.40,141.76 338.70,142.28 337.98,142.65 337.23,142.88 336.48,142.96 335.72,142.88 334.97,142.65 334.25,142.28 333.56,141.76 332.90,141.11 332.30,140.34 331.77,139.45 331.30,138.48 330.91,137.43 330.62,136.32 330.42,135.17 330.32,134.00 330.32,132.83 330.43,131.68 330.65,130.57 330.98,129.52 331.41,128.55 331.93,127.66 332.55,126.89 333.24,126.24 333.99,125.72 334.79,125.35 335.62,125.12 336.48,125.04 337.33,125.12 338.16,125.35 338.96,125.72 339.72,126.24 340.40,126.89 341.02,127.66 341.54,128.55 341.97,129.52 342.30,130.57 342.52,131.68 342.63,132.83" fill="none" stroke="#888" stroke-width="0.55"/>
<polygon points="341.91,134.00 341.83,135.00 341.65,135.99 341.40,136.94 341.07,137.84 340.67,138.68 340.21,139.43 339.69,140.09 339.14,140.65 338.54,141.10 337.92,141.42 337.28,141.61 336.63,141.68 335.99,141.61 335.35,141.42 334.73,141.10 334.13,140.65 333.57,140.09 333.06,139.43 332.60,138.68 332.20,137.84 331.87,136.94 331.61,135.99 331.44,135.00 331.35,134.00 331.36,133.00 331.45,132.01 331.64,131.06 331.92,130.16 332.29,129.32 332.74,128.57 333.27,127.91 333.86,127.35 334.50,126.90 335.19,126.58 335.90,126.39 336.63,126.32 337.36,126.39 338.08,126.58 338.77,126.90 339.41,127.35 340.00,127.91 340.53,128.57 340.98,129.32 341.34,130.16 341.62,131.06 341.81,132.01 341.91,133.00" fill="none" stroke="#828282" stroke-width="0.55"/>
<polygon points="341.19,134.00 341.12,134.84 340.98,135.66 340.76,136.45 340.49,137.20 340.16,137.90 339.77,138.53 339.34,139.08 338.88,139.54 338.38,139.91 337.86,140.18 337.33,140.35 336.79,140.40 336.25,140.35 335.72,140.18 335.20,139.91 334.71,139.54 334.24,139.08 333.81,138.53 333.43,137.90 333.10,137.20 332.82,136.45 332.61,135.66 332.46,134.84 332.39,134.00 332.40,133.16 332.48,132.34 332.63,131.55 332.87,130.80 333.17,130.10 333.55,129.47 333.99,128.92 334.48,128.46 335.01,128.09 335.59,127.82 336.18,127.65 336.79,127.60 337.40,127.65 338.00,127.82 338.57,128.09 339.11,128.46 339.60,128.92 340.04,129.47 340.41,130.10 340.72,130.80 340.95,131.55 341.11,132.34 341.19,133.16" fill="none" stroke="#808080" stroke-width="0.55"/>
<polygon points="340.47,134.00 340.41,134.67 340.30,135.33 340.13,135.96 339.91,136.56 339.64,137.12 339.33,137.62 338.99,138.06 338.62,138.43 338.22,138.73 337.81,138.95 337.38,139.08 336.95,139.12 336.52,139.08 336.09,138.95 335.68,138.73 335.28,138.43 334.91,138.06 334.57,137.62 334.26,137.12 333.99,136.56 333.77,135.96 333.60,135.33 333.49,134.67 333.43,134.00 333.43,133.33 333.50,132.67 333.62,132.04 333.81,131.44 334.06,130.88 334.36,130.38 334.71,129.94 335.10,129.57 335.53,129.27 335.99,129.05 336.46,128.92 336.95,128.88 337.44,128.92 337.91,129.05 338.37,129.27 338.80,129.57 339.20,129.94 339.55,130.38 339.85,130.88 340.09,131.44 340.28,132.04 340.40,132.67 340.47,133.33" fill="none" stroke="#848484" stroke-width="0.55"/>
<polygon points="339.75,134.00 339.71,134.50 339.62,134.99 339.49,135.47 339.33,135.92 339.13,136.34 338.90,136.72 338.64,137.05 338.36,137.33 338.06,137.55 337.75,137.71 337.43,137.81 337.11,137.84 336.78,137.81 336.47,137.71 336.15,137.55 335.86,137.33 335.58,137.05 335.32,136.72 335.09,136.34 334.89,135.92 334.73,135.47 334.60,134.99 334.51,134.50 334.47,134.00 334.47,133.50 334.52,133.01 334.61,132.53 334.75,132.08 334.94,131.66 335.16,131.28 335.43,130.95 335.72,130.67 336.04,130.45 336.39,130.29 336.74,130.19 337.11,130.16 337.47,130.19 337.83,130.29 338.18,130.45 338.50,130.67 338.79,130.95 339.05,131.28 339.28,131.66 339.46,132.08 339.60,132.53 339.70,133.01 339.75,133.50" fill="none" stroke="#8e8e8e" stroke-width="0.55"/>
<polygon points="339.03,134.00 339.00,134.33 338.94,134.66 338.86,134.98 338.75,135.28 338.61,135.56 338.46,135.81 338.29,136.03 338.10,136.22 337.90,136.37 337.70,136.47 337.48,136.54 337.27,136.56 337.05,136.54 336.84,136.47 336.63,136.37 336.43,136.22 336.25,136.03 336.08,135.81 335.92,135.56 335.79,135.28 335.68,134.98 335.59,134.66 335.54,134.33 335.51,134.00 335.51,133.67 335.54,133.34 335.60,133.02 335.70,132.72 335.82,132.44 335.97,132.19 336.14,131.97 336.34,131.78 336.56,131.63 336.79,131.53 337.02,131.46 337.27,131.44 337.51,131.46 337.75,131.53 337.98,131.63 338.19,131.78 338.39,131.97 338.56,132.19 338.71,132.44 338.84,132.72 338.93,133.02 338.99,133.34 339.03,133.67" fill="none" stroke="#a0a0a0" stroke-width="0.55"/>
<ellipse cx="337.32" cy="134" rx="0.792" ry="2.8160000000000003" fill="#d8d8d8"/>
<polyline points="337.30,146.64 336.27,146.79 335.24,146.75 334.22,146.50 333.23,146.07 332.27,145.44 331.35,144.64 330.50,143.68 329.72,142.56 329.03,141.32 328.43,139.96 327.94,138.51 327.56,136.99 327.31,135.42 327.19,133.83 327.21,132.25 327.37,130.69 327.66,129.18 328.10,127.75 328.66,126.41 329.35,125.19 330.16,124.11 331.07,123.17 332.06,122.41 333.13,121.83" fill="none" stroke="#1a1a1a" stroke-width="1.3" stroke-dasharray="1.5 0.5"/>
<rect x="326" y="80.8" width="21.600000000000023" height="38.900000000000006" fill="none" stroke="#222" stroke-width="1"/>
<text x="336" y="69.1" font-size="6" font-weight="bold" font-family="Liberation Serif" text-anchor="middle" fill="#222" stroke="#222" stroke-width="0.2" textLength="15.4" lengthAdjust="spacingAndGlyphs">IFN-G</text>
<text x="335.5" y="75.9" font-size="5.8" font-weight="bold" font-family="Liberation Serif" text-anchor="middle" fill="#333" stroke="#333" stroke-width="0.15">0.057</text>
<rect x="281.70000000000005" y="62.7" width="34.50" height="17.70" fill="#fff" stroke="#3a3a3a" stroke-width="1.2"/>
<text x="298.5" y="76.00" font-size="10.4" font-weight="bold" font-family="Liberation Sans" text-anchor="middle" fill="#c8161e" stroke="#c8161e" stroke-width="0.45" textLength="28.02" lengthAdjust="spacingAndGlyphs">0.057</text>
<rect x="396.6" y="59.4" width="101.09999999999997" height="101.79999999999998" fill="none" stroke="#a4a4a4" stroke-width="1.2"/>
<line x1="393.6" y1="59.4" x2="396.6" y2="59.4" stroke="#111" stroke-width="1.1" />
<line x1="393.6" y1="77.3765873015873" x2="396.6" y2="77.3765873015873" stroke="#111" stroke-width="1.1" />
<line x1="393.6" y1="95.55515873015872" x2="396.6" y2="95.55515873015872" stroke="#111" stroke-width="1.1" />
<line x1="393.6" y1="113.22876984126984" x2="396.6" y2="113.22876984126984" stroke="#111" stroke-width="1.1" />
<line x1="393.6" y1="136.55793650793652" x2="396.6" y2="136.55793650793652" stroke="#111" stroke-width="1.1" />
<line x1="393.6" y1="159.2811507936508" x2="396.6" y2="159.2811507936508" stroke="#111" stroke-width="1.1" />
<line x1="395.20000000000005" y1="71.9650953041373" x2="396.6" y2="71.9650953041373" stroke="#222" stroke-width="0.6" />
<line x1="395.20000000000005" y1="68.79957541267642" x2="396.6" y2="68.79957541267642" stroke="#222" stroke-width="0.6" />
<line x1="395.20000000000005" y1="66.5536033066873" x2="396.6" y2="66.5536033066873" stroke="#222" stroke-width="0.6" />
<line x1="395.20000000000005" y1="64.81149199745" x2="396.6" y2="64.81149199745" stroke="#222" stroke-width="0.6" />
<line x1="395.20000000000005" y1="63.38808341522641" x2="396.6" y2="63.38808341522641" stroke="#222" stroke-width="0.6" />
<line x1="395.20000000000005" y1="62.1846086068707" x2="396.6" y2="62.1846086068707" stroke="#222" stroke-width="0.6" />
<line x1="395.20000000000005" y1="61.142111309237286" x2="396.6" y2="61.142111309237286" stroke="#222" stroke-width="0.6" />
<line x1="395.20000000000005" y1="60.22256352376553" x2="396.6" y2="60.22256352376553" stroke="#222" stroke-width="0.6" />
<line x1="395.20000000000005" y1="90.08286345183849" x2="396.6" y2="90.08286345183849" stroke="#222" stroke-width="0.6" />
<line x1="395.20000000000005" y1="86.88177592114772" x2="396.6" y2="86.88177592114772" stroke="#222" stroke-width="0.6" />
<line x1="395.20000000000005" y1="84.61056817351827" x2="396.6" y2="84.61056817351827" stroke="#222" stroke-width="0.6" />
<line x1="395.20000000000005" y1="82.84888257990752" x2="396.6" y2="82.84888257990752" stroke="#222" stroke-width="0.6" />
<line x1="395.20000000000005" y1="81.4094806428275" x2="396.6" y2="81.4094806428275" stroke="#222" stroke-width="0.6" />
<line x1="395.20000000000005" y1="80.19248364561385" x2="396.6" y2="80.19248364561385" stroke="#222" stroke-width="0.6" />
<line x1="395.20000000000005" y1="79.13827289519804" x2="396.6" y2="79.13827289519804" stroke="#222" stroke-width="0.6" />
<line x1="395.20000000000005" y1="78.20839311213672" x2="396.6" y2="78.20839311213672" stroke="#222" stroke-width="0.6" />
<line x1="395.20000000000005" y1="107.90848276512517" x2="396.6" y2="107.90848276512517" stroke="#222" stroke-width="0.6" />
<line x1="395.20000000000005" y1="104.79631433250914" x2="396.6" y2="104.79631433250914" stroke="#222" stroke-width="0.6" />
<line x1="395.20000000000005" y1="102.5881956889805" x2="396.6" y2="102.5881956889805" stroke="#222" stroke-width="0.6" />
<line x1="395.20000000000005" y1="100.87544580630339" x2="396.6" y2="100.87544580630339" stroke="#222" stroke-width="0.6" />
<line x1="395.20000000000005" y1="99.47602725636446" x2="396.6" y2="99.47602725636446" stroke="#222" stroke-width="0.6" />
<line x1="395.20000000000005" y1="98.29283573129564" x2="396.6" y2="98.29283573129564" stroke="#222" stroke-width="0.6" />
<line x1="395.20000000000005" y1="97.26790861283584" x2="396.6" y2="97.26790861283584" stroke="#222" stroke-width="0.6" />
<line x1="395.20000000000005" y1="96.36385882374843" x2="396.6" y2="96.36385882374843" stroke="#222" stroke-width="0.6" />
<line x1="395.0" y1="132.88359275793653" x2="396.6" y2="132.88359275793653" stroke="#111" stroke-width="0.7" />
<line x1="395.0" y1="138.94387400793653" x2="396.6" y2="138.94387400793653" stroke="#111" stroke-width="0.7" />
<line x1="395.0" y1="130.78396775793652" x2="396.6" y2="130.78396775793652" stroke="#111" stroke-width="0.7" />
<line x1="395.0" y1="140.30726686507938" x2="396.6" y2="140.30726686507938" stroke="#111" stroke-width="0.7" />
<line x1="395.0" y1="129.2092490079365" x2="396.6" y2="129.2092490079365" stroke="#111" stroke-width="0.7" />
<line x1="395.0" y1="141.3298115079365" x2="396.6" y2="141.3298115079365" stroke="#111" stroke-width="0.7" />
<line x1="395.0" y1="128.1594365079365" x2="396.6" y2="128.1594365079365" stroke="#111" stroke-width="0.7" />
<line x1="395.0" y1="142.01150793650794" x2="396.6" y2="142.01150793650794" stroke="#111" stroke-width="0.7" />
<line x1="395.0" y1="127.3195865079365" x2="396.6" y2="127.3195865079365" stroke="#111" stroke-width="0.7" />
<line x1="395.0" y1="142.55686507936508" x2="396.6" y2="142.55686507936508" stroke="#111" stroke-width="0.7" />
<line x1="395.0" y1="126.68969900793651" x2="396.6" y2="126.68969900793651" stroke="#111" stroke-width="0.7" />
<line x1="395.0" y1="142.96588293650794" x2="396.6" y2="142.96588293650794" stroke="#111" stroke-width="0.7" />
<line x1="395.40000000000003" y1="153.60034722222224" x2="396.6" y2="153.60034722222224" stroke="#333" stroke-width="0.5" />
<line x1="395.40000000000003" y1="147.91954365079366" x2="396.6" y2="147.91954365079366" stroke="#333" stroke-width="0.5" />
<line x1="395.40000000000003" y1="142.23874007936507" x2="396.6" y2="142.23874007936507" stroke="#333" stroke-width="0.5" />
<rect x="394.60" y="131.36" width="2" height="9.8" fill="#444"/>
<text x="389.30" y="66.40" font-size="4.6" font-family="Liberation Serif" text-anchor="end" fill="#222" stroke="#222" stroke-width="0.18">10</text>
<text x="389.80" y="63.80" font-size="3.8" font-family="Liberation Serif" fill="#222" stroke="#222" stroke-width="0.15">6</text>
<text x="389.30" y="79.98" font-size="4.6" font-family="Liberation Serif" text-anchor="end" fill="#222" stroke="#222" stroke-width="0.18">10</text>
<text x="389.80" y="77.38" font-size="3.8" font-family="Liberation Serif" fill="#222" stroke="#222" stroke-width="0.15">5</text>
<text x="389.30" y="98.16" font-size="4.6" font-family="Liberation Serif" text-anchor="end" fill="#222" stroke="#222" stroke-width="0.18">10</text>
<text x="389.80" y="95.56" font-size="3.8" font-family="Liberation Serif" fill="#222" stroke="#222" stroke-width="0.15">4</text>
<text x="389.30" y="115.83" font-size="4.6" font-family="Liberation Serif" text-anchor="end" fill="#222" stroke="#222" stroke-width="0.18">10</text>
<text x="389.80" y="113.23" font-size="3.8" font-family="Liberation Serif" fill="#222" stroke="#222" stroke-width="0.15">3</text>
<text x="389.90" y="139.16" font-size="4.6" font-family="Liberation Serif" text-anchor="end" fill="#222" stroke="#222" stroke-width="0.18">0</text>
<text x="389.30" y="161.88" font-size="4.6" font-family="Liberation Serif" text-anchor="end" fill="#222" stroke="#222" stroke-width="0.18">-10</text>
<text x="389.80" y="159.28" font-size="3.8" font-family="Liberation Serif" fill="#222" stroke="#222" stroke-width="0.15">3</text>
<line x1="400.5389610389611" y1="161.2" x2="400.5389610389611" y2="164.0" stroke="#111" stroke-width="0.9" />
<line x1="422.35474525474524" y1="161.2" x2="422.35474525474524" y2="164.0" stroke="#111" stroke-width="0.9" />
<line x1="442.95854145854145" y1="161.2" x2="442.95854145854145" y2="164.0" stroke="#111" stroke-width="0.9" />
<line x1="461.3403596403596" y1="161.2" x2="461.3403596403596" y2="164.0" stroke="#111" stroke-width="0.9" />
<line x1="479.7221778221778" y1="161.2" x2="479.7221778221778" y2="164.0" stroke="#111" stroke-width="0.9" />
<line x1="497.7" y1="161.2" x2="497.7" y2="164.0" stroke="#111" stroke-width="0.9" />
<line x1="448.49202010611026" y1="161.2" x2="448.49202010611026" y2="162.6" stroke="#222" stroke-width="0.6" />
<line x1="451.72889761347926" y1="161.2" x2="451.72889761347926" y2="162.6" stroke="#222" stroke-width="0.6" />
<line x1="454.0254987536791" y1="161.2" x2="454.0254987536791" y2="162.6" stroke="#222" stroke-width="0.6" />
<line x1="455.8068809927908" y1="161.2" x2="455.8068809927908" y2="162.6" stroke="#222" stroke-width="0.6" />
<line x1="457.2623762610481" y1="161.2" x2="457.2623762610481" y2="162.6" stroke="#222" stroke-width="0.6" />
<line x1="458.4929799758944" y1="161.2" x2="458.4929799758944" y2="162.6" stroke="#222" stroke-width="0.6" />
<line x1="459.5589774012479" y1="161.2" x2="459.5589774012479" y2="162.6" stroke="#222" stroke-width="0.6" />
<line x1="460.499253768417" y1="161.2" x2="460.499253768417" y2="162.6" stroke="#222" stroke-width="0.6" />
<line x1="466.87383828792844" y1="161.2" x2="466.87383828792844" y2="162.6" stroke="#222" stroke-width="0.6" />
<line x1="470.11071579529744" y1="161.2" x2="470.11071579529744" y2="162.6" stroke="#222" stroke-width="0.6" />
<line x1="472.40731693549725" y1="161.2" x2="472.40731693549725" y2="162.6" stroke="#222" stroke-width="0.6" />
<line x1="474.188699174609" y1="161.2" x2="474.188699174609" y2="162.6" stroke="#222" stroke-width="0.6" />
<line x1="475.64419444286625" y1="161.2" x2="475.64419444286625" y2="162.6" stroke="#222" stroke-width="0.6" />
<line x1="476.8747981577126" y1="161.2" x2="476.8747981577126" y2="162.6" stroke="#222" stroke-width="0.6" />
<line x1="477.94079558306606" y1="161.2" x2="477.94079558306606" y2="162.6" stroke="#222" stroke-width="0.6" />
<line x1="478.8810719502352" y1="161.2" x2="478.8810719502352" y2="162.6" stroke="#222" stroke-width="0.6" />
<line x1="485.13404155441543" y1="161.2" x2="485.13404155441543" y2="162.6" stroke="#222" stroke-width="0.6" />
<line x1="488.2997788967873" y1="161.2" x2="488.2997788967873" y2="162.6" stroke="#222" stroke-width="0.6" />
<line x1="490.54590528665307" y1="161.2" x2="490.54590528665307" y2="162.6" stroke="#222" stroke-width="0.6" />
<line x1="492.28813626776235" y1="161.2" x2="492.28813626776235" y2="162.6" stroke="#222" stroke-width="0.6" />
<line x1="493.71164262902494" y1="161.2" x2="493.71164262902494" y2="162.6" stroke="#222" stroke-width="0.6" />
<line x1="494.9152001083802" y1="161.2" x2="494.9152001083802" y2="162.6" stroke="#222" stroke-width="0.6" />
<line x1="495.9577690188907" y1="161.2" x2="495.9577690188907" y2="162.6" stroke="#222" stroke-width="0.6" />
<line x1="496.8773799713968" y1="161.2" x2="496.8773799713968" y2="162.6" stroke="#222" stroke-width="0.6" />
<rect x="417.85474525474524" y="161.2" width="8" height="2.2" fill="#111"/>
<line x1="405.9929070929071" y1="161.2" x2="405.9929070929071" y2="162.5" stroke="#333" stroke-width="0.6" />
<line x1="411.4468531468532" y1="161.2" x2="411.4468531468532" y2="162.5" stroke="#333" stroke-width="0.6" />
<line x1="416.9007992007992" y1="161.2" x2="416.9007992007992" y2="162.5" stroke="#333" stroke-width="0.6" />
<line x1="428.5358841158841" y1="161.2" x2="428.5358841158841" y2="162.5" stroke="#333" stroke-width="0.6" />
<line x1="433.68683316683314" y1="161.2" x2="433.68683316683314" y2="162.5" stroke="#333" stroke-width="0.6" />
<line x1="437.8075924075924" y1="161.2" x2="437.8075924075924" y2="162.5" stroke="#333" stroke-width="0.6" />
<text x="402.5389610389611" y="170.79999999999998" font-size="4.6" font-family="Liberation Serif" text-anchor="middle" fill="#222" stroke="#222" stroke-width="0.18">-10<tspan dx="0.5" dy="-2.6" font-size="3.8">3</tspan></text>
<text x="422.35474525474524" y="170.79999999999998" font-size="4.6" font-family="Liberation Serif" text-anchor="middle" fill="#222" stroke="#222" stroke-width="0.18">0</text>
<text x="442.3585414585414" y="170.79999999999998" font-size="4.6" font-family="Liberation Serif" text-anchor="start" fill="#222" stroke="#222" stroke-width="0.18">10<tspan dx="0.5" dy="-2.6" font-size="3.8">3</tspan></text>
<text x="461.0403596403596" y="170.79999999999998" font-size="4.6" font-family="Liberation Serif" text-anchor="start" fill="#222" stroke="#222" stroke-width="0.18">10<tspan dx="0.5" dy="-2.6" font-size="3.8">4</tspan></text>
<text x="479.7221778221778" y="170.79999999999998" font-size="4.6" font-family="Liberation Serif" text-anchor="start" fill="#222" stroke="#222" stroke-width="0.18">10<tspan dx="0.5" dy="-2.6" font-size="3.8">5</tspan></text>
<text x="498.09999999999997" y="170.79999999999998" font-size="4.6" font-family="Liberation Serif" text-anchor="end" fill="#222" stroke="#222" stroke-width="0.18">10<tspan dx="0.5" dy="-2.6" font-size="3.8">6</tspan></text>
<rect x="445.4" y="120.3" width="0.9" height="0.9" fill="#111"/>
<rect x="439.5" y="131.2" width="0.9" height="0.9" fill="#111"/>
<rect x="439.6" y="140.3" width="0.9" height="0.9" fill="#111"/>
<rect x="442.9" y="121.3" width="0.9" height="0.9" fill="#111"/>
<rect x="448.0" y="119.9" width="0.9" height="0.9" fill="#111"/>
<rect x="448.4" y="145.9" width="0.9" height="0.9" fill="#111"/>
<rect x="438.5" y="134.1" width="0.9" height="0.9" fill="#111"/>
<rect x="446.9" y="119.3" width="0.9" height="0.9" fill="#111"/>
<rect x="439.0" y="128.1" width="0.9" height="0.9" fill="#111"/>
<rect x="439.1" y="137.1" width="0.9" height="0.9" fill="#111"/>
<rect x="450.9" y="146.9" width="0.9" height="0.9" fill="#111"/>
<rect x="443.9" y="145.7" width="0.9" height="0.9" fill="#111"/>
<rect x="439.6" y="128.5" width="0.9" height="0.9" fill="#111"/>
<rect x="447.7" y="146.0" width="0.9" height="0.9" fill="#111"/>
<rect x="438.9" y="128.7" width="0.9" height="0.9" fill="#111"/>
<rect x="448.3" y="145.8" width="0.9" height="0.9" fill="#111"/>
<rect x="438.6" y="134.0" width="0.9" height="0.9" fill="#111"/>
<rect x="440.5" y="139.8" width="0.9" height="0.9" fill="#111"/>
<rect x="439.6" y="130.6" width="0.9" height="0.9" fill="#111"/>
<rect x="442.2" y="143.1" width="0.9" height="0.9" fill="#111"/>
<rect x="447.5" y="119.3" width="0.9" height="0.9" fill="#111"/>
<rect x="445.0" y="120.5" width="0.9" height="0.9" fill="#111"/>
<rect x="444.3" y="144.5" width="0.9" height="0.9" fill="#111"/>
<rect x="447.6" y="119.2" width="0.9" height="0.9" fill="#111"/>
<rect x="442.4" y="142.3" width="0.9" height="0.9" fill="#111"/>
<rect x="438.6" y="135.3" width="0.9" height="0.9" fill="#111"/>
<rect x="440.0" y="138.5" width="0.9" height="0.9" fill="#111"/>
<rect x="439.1" y="127.1" width="0.9" height="0.9" fill="#111"/>
<rect x="444.6" y="144.4" width="0.9" height="0.9" fill="#111"/>
<rect x="441.3" y="141.8" width="0.9" height="0.9" fill="#111"/>
<rect x="440.2" y="127.1" width="0.9" height="0.9" fill="#111"/>
<rect x="442.1" y="122.3" width="0.9" height="0.9" fill="#111"/>
<rect x="439.2" y="134.8" width="0.9" height="0.9" fill="#111"/>
<rect x="448.0" y="119.8" width="0.9" height="0.9" fill="#111"/>
<rect x="443.2" y="122.4" width="0.9" height="0.9" fill="#111"/>
<rect x="444.4" y="145.7" width="0.9" height="0.9" fill="#111"/>
<rect x="446.4" y="149.6" width="0.8" height="0.8" fill="#222"/>
<rect x="455.6" y="146.0" width="0.8" height="0.8" fill="#222"/>
<rect x="449.0" y="152.2" width="0.8" height="0.8" fill="#222"/>
<rect x="451.6" y="157.4" width="0.8" height="0.8" fill="#222"/>
<rect x="450.3" y="146.2" width="0.8" height="0.8" fill="#222"/>
<rect x="450.9" y="157.9" width="0.8" height="0.8" fill="#222"/>
<rect x="449.1" y="145.1" width="0.8" height="0.8" fill="#222"/>
<rect x="449.3" y="148.2" width="0.8" height="0.8" fill="#222"/>
<rect x="453.5" y="153.3" width="0.8" height="0.8" fill="#222"/>
<rect x="444.8" y="158.3" width="0.8" height="0.8" fill="#222"/>
<rect x="450.9" y="146.0" width="0.8" height="0.8" fill="#222"/>
<rect x="447.4" y="157.1" width="0.8" height="0.8" fill="#222"/>
<rect x="448.5" y="152.2" width="0.8" height="0.8" fill="#222"/>
<rect x="447.7" y="148.0" width="0.8" height="0.8" fill="#222"/>
<rect x="446.6" y="145.8" width="0.8" height="0.8" fill="#222"/>
<rect x="450.4" y="144.9" width="0.8" height="0.8" fill="#222"/>
<rect x="448.0" y="157.5" width="0.8" height="0.8" fill="#222"/>
<rect x="451.2" y="145.5" width="0.8" height="0.8" fill="#222"/>
<rect x="450.5" y="147.8" width="0.8" height="0.8" fill="#222"/>
<rect x="435.4" y="141.2" width="1.1" height="1.1" fill="#000"/>
<rect x="439.3" y="131.7" width="1.1" height="1.1" fill="#000"/>
<rect x="437.6" y="132.7" width="1.1" height="1.1" fill="#000"/>
<rect x="438.5" y="143.6" width="1.1" height="1.1" fill="#000"/>
<rect x="435.0" y="130.0" width="1.1" height="1.1" fill="#000"/>
<rect x="437.4" y="121.9" width="1.1" height="1.1" fill="#000"/>
<rect x="435.7" y="140.9" width="1.1" height="1.1" fill="#000"/>
<rect x="439.3" y="122.1" width="1.1" height="1.1" fill="#000"/>
<rect x="439.50" y="160.20" width="18.00" height="1.3" fill="#222" opacity="0.85"/>
<polygon points="459.00,133.00 458.84,134.72 458.51,136.42 458.03,138.05 457.40,139.60 456.64,141.04 455.77,142.33 454.80,143.47 453.74,144.43 452.61,145.20 451.44,145.75 450.23,146.09 449.00,146.20 447.77,146.09 446.56,145.75 445.39,145.20 444.26,144.43 443.20,143.47 442.23,142.33 441.36,141.04 440.60,139.60 439.97,138.05 439.49,136.42 439.16,134.72 439.00,133.00 439.01,131.28 439.19,129.58 439.55,127.95 440.08,126.40 440.78,124.96 441.63,123.67 442.62,122.53 443.74,121.57 444.96,120.80 446.26,120.25 447.62,119.91 449.00,119.80 450.38,119.91 451.74,120.25 453.04,120.80 454.26,121.57 455.38,122.53 456.37,123.67 457.22,124.96 457.92,126.40 458.45,127.95 458.81,129.58 458.99,131.28" fill="url(#bg)" stroke="#4a4a4a" stroke-width="0.8"/>
<polygon points="458.18,133.00 458.03,134.55 457.74,136.07 457.30,137.55 456.74,138.94 456.06,140.23 455.27,141.40 454.40,142.43 453.45,143.29 452.43,143.98 451.37,144.48 450.28,144.78 449.18,144.88 448.08,144.78 446.99,144.48 445.93,143.98 444.91,143.29 443.96,142.43 443.09,141.40 442.30,140.23 441.62,138.94 441.06,137.55 440.62,136.07 440.33,134.55 440.18,133.00 440.19,131.45 440.35,129.93 440.67,128.45 441.15,127.06 441.78,125.77 442.55,124.60 443.44,123.57 444.45,122.71 445.54,122.02 446.72,121.52 447.94,121.22 449.18,121.12 450.42,121.22 451.64,121.52 452.82,122.02 453.91,122.71 454.92,123.57 455.81,124.60 456.58,125.77 457.21,127.06 457.69,128.45 458.01,129.93 458.17,131.45" fill="none" stroke="#a0a0a0" stroke-width="0.55"/>
<polygon points="457.36,133.00 457.23,134.38 456.97,135.73 456.58,137.04 456.08,138.28 455.48,139.43 454.78,140.47 454.00,141.38 453.15,142.15 452.25,142.76 451.31,143.20 450.34,143.47 449.36,143.56 448.38,143.47 447.41,143.20 446.47,142.76 445.57,142.15 444.72,141.38 443.94,140.47 443.24,139.43 442.64,138.28 442.14,137.04 441.75,135.73 441.49,134.38 441.36,133.00 441.37,131.62 441.51,130.27 441.80,128.96 442.22,127.72 442.78,126.57 443.46,125.53 444.26,124.62 445.15,123.85 446.13,123.24 447.17,122.80 448.25,122.53 449.36,122.44 450.47,122.53 451.55,122.80 452.59,123.24 453.57,123.85 454.46,124.62 455.26,125.53 455.94,126.57 456.50,127.72 456.92,128.96 457.21,130.27 457.35,131.62" fill="none" stroke="#929292" stroke-width="0.55"/>
<polygon points="456.54,133.00 456.43,134.21 456.20,135.39 455.86,136.54 455.42,137.62 454.89,138.62 454.28,139.53 453.60,140.33 452.86,141.00 452.07,141.54 451.25,141.93 450.40,142.16 449.54,142.24 448.68,142.16 447.83,141.93 447.01,141.54 446.22,141.00 445.48,140.33 444.80,139.53 444.19,138.62 443.66,137.62 443.22,136.54 442.88,135.39 442.65,134.21 442.54,133.00 442.55,131.79 442.67,130.61 442.92,129.46 443.30,128.38 443.78,127.38 444.38,126.47 445.08,125.67 445.86,125.00 446.71,124.46 447.62,124.07 448.57,123.84 449.54,123.76 450.51,123.84 451.46,124.07 452.37,124.46 453.22,125.00 454.00,125.67 454.70,126.47 455.30,127.38 455.78,128.38 456.16,129.46 456.41,130.61 456.53,131.79" fill="none" stroke="#888" stroke-width="0.55"/>
<polygon points="455.72,133.00 455.62,134.03 455.43,135.05 455.14,136.03 454.76,136.96 454.31,137.82 453.78,138.60 453.20,139.28 452.56,139.86 451.89,140.32 451.18,140.65 450.46,140.85 449.72,140.92 448.98,140.85 448.26,140.65 447.55,140.32 446.88,139.86 446.24,139.28 445.66,138.60 445.13,137.82 444.68,136.96 444.30,136.03 444.01,135.05 443.82,134.03 443.72,133.00 443.72,131.97 443.83,130.95 444.05,129.97 444.37,129.04 444.79,128.18 445.30,127.40 445.89,126.72 446.56,126.14 447.30,125.68 448.08,125.35 448.89,125.15 449.72,125.08 450.55,125.15 451.36,125.35 452.14,125.68 452.88,126.14 453.55,126.72 454.14,127.40 454.65,128.18 455.07,129.04 455.39,129.97 455.61,130.95 455.72,131.97" fill="none" stroke="#828282" stroke-width="0.55"/>
<polygon points="454.90,133.00 454.82,133.86 454.65,134.71 454.41,135.53 454.10,136.30 453.72,137.02 453.29,137.67 452.80,138.24 452.27,138.72 451.71,139.10 451.12,139.38 450.51,139.54 449.90,139.60 449.29,139.54 448.68,139.38 448.09,139.10 447.53,138.72 447.00,138.24 446.51,137.67 446.08,137.02 445.70,136.30 445.39,135.53 445.15,134.71 444.98,133.86 444.90,133.00 444.90,132.14 445.00,131.29 445.17,130.47 445.44,129.70 445.79,128.98 446.21,128.33 446.71,127.76 447.27,127.28 447.88,126.90 448.53,126.62 449.21,126.46 449.90,126.40 450.59,126.46 451.27,126.62 451.92,126.90 452.53,127.28 453.09,127.76 453.59,128.33 454.01,128.98 454.36,129.70 454.63,130.47 454.80,131.29 454.90,132.14" fill="none" stroke="#808080" stroke-width="0.55"/>
<polygon points="454.08,133.00 454.01,133.69 453.88,134.37 453.69,135.02 453.44,135.64 453.14,136.21 452.79,136.73 452.40,137.19 451.98,137.57 451.53,137.88 451.06,138.10 450.57,138.23 450.08,138.28 449.59,138.23 449.10,138.10 448.63,137.88 448.18,137.57 447.76,137.19 447.37,136.73 447.02,136.21 446.72,135.64 446.47,135.02 446.28,134.37 446.15,133.69 446.08,133.00 446.08,132.31 446.16,131.63 446.30,130.98 446.51,130.36 446.79,129.79 447.13,129.27 447.53,128.81 447.98,128.43 448.46,128.12 448.98,127.90 449.53,127.77 450.08,127.72 450.63,127.77 451.18,127.90 451.70,128.12 452.18,128.43 452.63,128.81 453.03,129.27 453.37,129.79 453.65,130.36 453.86,130.98 454.00,131.63 454.08,132.31" fill="none" stroke="#848484" stroke-width="0.55"/>
<polygon points="453.26,133.00 453.21,133.52 453.11,134.02 452.97,134.52 452.78,134.98 452.55,135.41 452.29,135.80 452.00,136.14 451.68,136.43 451.34,136.66 450.99,136.83 450.63,136.93 450.26,136.96 449.89,136.93 449.53,136.83 449.18,136.66 448.84,136.43 448.52,136.14 448.23,135.80 447.97,135.41 447.74,134.98 447.55,134.52 447.41,134.02 447.31,133.52 447.26,133.00 447.26,132.48 447.32,131.98 447.42,131.48 447.58,131.02 447.79,130.59 448.05,130.20 448.35,129.86 448.68,129.57 449.05,129.34 449.44,129.17 449.85,129.07 450.26,129.04 450.67,129.07 451.08,129.17 451.47,129.34 451.84,129.57 452.17,129.86 452.47,130.20 452.73,130.59 452.94,131.02 453.10,131.48 453.20,131.98 453.26,132.48" fill="none" stroke="#8e8e8e" stroke-width="0.55"/>
<polygon points="452.44,133.00 452.41,133.34 452.34,133.68 452.25,134.01 452.12,134.32 451.97,134.61 451.79,134.87 451.60,135.09 451.39,135.29 451.16,135.44 450.93,135.55 450.69,135.62 450.44,135.64 450.19,135.62 449.95,135.55 449.72,135.44 449.49,135.29 449.28,135.09 449.09,134.87 448.91,134.61 448.76,134.32 448.63,134.01 448.54,133.68 448.47,133.34 448.44,133.00 448.44,132.66 448.48,132.32 448.55,131.99 448.66,131.68 448.80,131.39 448.97,131.13 449.16,130.91 449.39,130.71 449.63,130.56 449.89,130.45 450.16,130.38 450.44,130.36 450.72,130.38 450.99,130.45 451.25,130.56 451.49,130.71 451.72,130.91 451.91,131.13 452.08,131.39 452.22,131.68 452.33,131.99 452.40,132.32 452.44,132.66" fill="none" stroke="#a0a0a0" stroke-width="0.55"/>
<ellipse cx="450.5" cy="133" rx="0.8999999999999999" ry="2.904" fill="#d8d8d8"/>
<polyline points="450.47,146.04 449.31,146.19 448.14,146.14 446.98,145.89 445.85,145.44 444.76,144.80 443.72,143.98 442.75,142.98 441.87,141.83 441.08,140.55 440.40,139.15 439.84,137.65 439.41,136.08 439.13,134.47 438.99,132.83 439.01,131.19 439.19,129.58 439.53,128.03 440.02,126.55 440.66,125.17 441.45,123.91 442.36,122.80 443.39,121.84 444.52,121.05 445.73,120.45" fill="none" stroke="#1a1a1a" stroke-width="1.3" stroke-dasharray="1.5 0.5"/>
<rect x="437.5" y="82" width="24.0" height="37.2" fill="none" stroke="#222" stroke-width="1"/>
<rect x="445.8" y="112.0" width="0.9" height="0.9" fill="#111"/>
<rect x="446.6" y="116.0" width="0.9" height="0.9" fill="#111"/>
<rect x="449.1" y="117.5" width="0.9" height="0.9" fill="#111"/>
<text x="450" y="68.39999999999999" font-size="6" font-weight="bold" font-family="Liberation Serif" text-anchor="middle" fill="#222" stroke="#222" stroke-width="0.2" textLength="15.4" lengthAdjust="spacingAndGlyphs">IFN-G</text>
<text x="449" y="74.80000000000001" font-size="5.8" font-weight="bold" font-family="Liberation Serif" text-anchor="middle" fill="#333" stroke="#333" stroke-width="0.15">0.14</text>
<rect x="399.70000000000005" y="62.6" width="27.40" height="17.80" fill="#fff" stroke="#3a3a3a" stroke-width="1.2"/>
<text x="413.7" y="75.90" font-size="10.4" font-weight="bold" font-family="Liberation Sans" text-anchor="middle" fill="#c8161e" stroke="#c8161e" stroke-width="0.45" textLength="21.80" lengthAdjust="spacingAndGlyphs">0.14</text>
<rect x="45.0" y="187.4" width="100.80000000000001" height="99.4" fill="none" stroke="#a4a4a4" stroke-width="1.2"/>
<line x1="42.0" y1="187.4" x2="45.0" y2="187.4" stroke="#111" stroke-width="1.1" />
<line x1="42.0" y1="204.95277777777778" x2="45.0" y2="204.95277777777778" stroke="#111" stroke-width="1.1" />
<line x1="42.0" y1="222.70277777777778" x2="45.0" y2="222.70277777777778" stroke="#111" stroke-width="1.1" />
<line x1="42.0" y1="239.95972222222224" x2="45.0" y2="239.95972222222224" stroke="#111" stroke-width="1.1" />
<line x1="42.0" y1="262.73888888888894" x2="45.0" y2="262.73888888888894" stroke="#111" stroke-width="1.1" />
<line x1="42.0" y1="284.92638888888894" x2="45.0" y2="284.92638888888894" stroke="#111" stroke-width="1.1" />
<line x1="43.6" y1="199.6688651594425" x2="45.0" y2="199.6688651594425" stroke="#222" stroke-width="0.6" />
<line x1="43.6" y1="196.57797442062903" x2="45.0" y2="196.57797442062903" stroke="#222" stroke-width="0.6" />
<line x1="43.6" y1="194.38495254110725" x2="45.0" y2="194.38495254110725" stroke="#222" stroke-width="0.6" />
<line x1="43.6" y1="192.68391261833528" x2="45.0" y2="192.68391261833528" stroke="#222" stroke-width="0.6" />
<line x1="43.6" y1="191.29406180229378" x2="45.0" y2="191.29406180229378" stroke="#222" stroke-width="0.6" />
<line x1="43.6" y1="190.11895968097198" x2="45.0" y2="190.11895968097198" stroke="#222" stroke-width="0.6" />
<line x1="43.6" y1="189.10103992277197" x2="45.0" y2="189.10103992277197" stroke="#222" stroke-width="0.6" />
<line x1="43.6" y1="188.2031710634803" x2="45.0" y2="188.2031710634803" stroke="#222" stroke-width="0.6" />
<line x1="43.6" y1="217.3594953547421" x2="45.0" y2="217.3594953547421" stroke="#222" stroke-width="0.6" />
<line x1="43.6" y1="214.23387550650378" x2="45.0" y2="214.23387550650378" stroke="#222" stroke-width="0.6" />
<line x1="43.6" y1="212.01621293170646" x2="45.0" y2="212.01621293170646" stroke="#222" stroke-width="0.6" />
<line x1="43.6" y1="210.29606020081346" x2="45.0" y2="210.29606020081346" stroke="#222" stroke-width="0.6" />
<line x1="43.6" y1="208.8905930834681" x2="45.0" y2="208.8905930834681" stroke="#222" stroke-width="0.6" />
<line x1="43.6" y1="207.70228756752473" x2="45.0" y2="207.70228756752473" stroke="#222" stroke-width="0.6" />
<line x1="43.6" y1="206.6729305086708" x2="45.0" y2="206.6729305086708" stroke="#222" stroke-width="0.6" />
<line x1="43.6" y1="205.76497323522977" x2="45.0" y2="205.76497323522977" stroke="#222" stroke-width="0.6" />
<line x1="43.6" y1="234.76486431093755" x2="45.0" y2="234.76486431093755" stroke="#222" stroke-width="0.6" />
<line x1="43.6" y1="231.7260672362614" x2="45.0" y2="231.7260672362614" stroke="#222" stroke-width="0.6" />
<line x1="43.6" y1="229.57000639965287" x2="45.0" y2="229.57000639965287" stroke="#222" stroke-width="0.6" />
<line x1="43.6" y1="227.89763568906247" x2="45.0" y2="227.89763568906247" stroke="#222" stroke-width="0.6" />
<line x1="43.6" y1="226.53120932497671" x2="45.0" y2="226.53120932497671" stroke="#222" stroke-width="0.6" />
<line x1="43.6" y1="225.3759122955873" x2="45.0" y2="225.3759122955873" stroke="#222" stroke-width="0.6" />
<line x1="43.6" y1="224.3751484883682" x2="45.0" y2="224.3751484883682" stroke="#222" stroke-width="0.6" />
<line x1="43.6" y1="223.49241225030056" x2="45.0" y2="223.49241225030056" stroke="#222" stroke-width="0.6" />
<line x1="43.4" y1="259.1511701388889" x2="45.0" y2="259.1511701388889" stroke="#111" stroke-width="0.7" />
<line x1="43.4" y1="265.0685763888889" x2="45.0" y2="265.0685763888889" stroke="#111" stroke-width="0.7" />
<line x1="43.4" y1="257.10104513888894" x2="45.0" y2="257.10104513888894" stroke="#111" stroke-width="0.7" />
<line x1="43.4" y1="266.3998263888889" x2="45.0" y2="266.3998263888889" stroke="#111" stroke-width="0.7" />
<line x1="43.4" y1="255.56345138888892" x2="45.0" y2="255.56345138888892" stroke="#111" stroke-width="0.7" />
<line x1="43.4" y1="267.39826388888895" x2="45.0" y2="267.39826388888895" stroke="#111" stroke-width="0.7" />
<line x1="43.4" y1="254.53838888888893" x2="45.0" y2="254.53838888888893" stroke="#111" stroke-width="0.7" />
<line x1="43.4" y1="268.0638888888889" x2="45.0" y2="268.0638888888889" stroke="#111" stroke-width="0.7" />
<line x1="43.4" y1="253.71833888888892" x2="45.0" y2="253.71833888888892" stroke="#111" stroke-width="0.7" />
<line x1="43.4" y1="268.59638888888895" x2="45.0" y2="268.59638888888895" stroke="#111" stroke-width="0.7" />
<line x1="43.4" y1="253.10330138888892" x2="45.0" y2="253.10330138888892" stroke="#111" stroke-width="0.7" />
<line x1="43.4" y1="268.9957638888889" x2="45.0" y2="268.9957638888889" stroke="#111" stroke-width="0.7" />
<line x1="43.8" y1="279.37951388888894" x2="45.0" y2="279.37951388888894" stroke="#333" stroke-width="0.5" />
<line x1="43.8" y1="273.83263888888894" x2="45.0" y2="273.83263888888894" stroke="#333" stroke-width="0.5" />
<line x1="43.8" y1="268.28576388888894" x2="45.0" y2="268.28576388888894" stroke="#333" stroke-width="0.5" />
<rect x="43.00" y="257.54" width="2" height="9.8" fill="#444"/>
<text x="37.70" y="194.40" font-size="4.6" font-family="Liberation Serif" text-anchor="end" fill="#222" stroke="#222" stroke-width="0.18">10</text>
<text x="38.20" y="191.80" font-size="3.8" font-family="Liberation Serif" fill="#222" stroke="#222" stroke-width="0.15">6</text>
<text x="37.70" y="207.55" font-size="4.6" font-family="Liberation Serif" text-anchor="end" fill="#222" stroke="#222" stroke-width="0.18">10</text>
<text x="38.20" y="204.95" font-size="3.8" font-family="Liberation Serif" fill="#222" stroke="#222" stroke-width="0.15">5</text>
<text x="37.70" y="225.30" font-size="4.6" font-family="Liberation Serif" text-anchor="end" fill="#222" stroke="#222" stroke-width="0.18">10</text>
<text x="38.20" y="222.70" font-size="3.8" font-family="Liberation Serif" fill="#222" stroke="#222" stroke-width="0.15">4</text>
<text x="37.70" y="242.56" font-size="4.6" font-family="Liberation Serif" text-anchor="end" fill="#222" stroke="#222" stroke-width="0.18">10</text>
<text x="38.20" y="239.96" font-size="3.8" font-family="Liberation Serif" fill="#222" stroke="#222" stroke-width="0.15">3</text>
<text x="38.30" y="265.34" font-size="4.6" font-family="Liberation Serif" text-anchor="end" fill="#222" stroke="#222" stroke-width="0.18">0</text>
<text x="37.70" y="287.53" font-size="4.6" font-family="Liberation Serif" text-anchor="end" fill="#222" stroke="#222" stroke-width="0.18">-10</text>
<text x="38.20" y="284.93" font-size="3.8" font-family="Liberation Serif" fill="#222" stroke="#222" stroke-width="0.15">3</text>
<line x1="48.92727272727273" y1="286.8" x2="48.92727272727273" y2="289.6" stroke="#111" stroke-width="0.9" />
<line x1="70.67832167832168" y1="286.8" x2="70.67832167832168" y2="289.6" stroke="#111" stroke-width="0.9" />
<line x1="91.22097902097903" y1="286.8" x2="91.22097902097903" y2="289.6" stroke="#111" stroke-width="0.9" />
<line x1="109.54825174825174" y1="286.8" x2="109.54825174825174" y2="289.6" stroke="#111" stroke-width="0.9" />
<line x1="127.87552447552449" y1="286.8" x2="127.87552447552449" y2="289.6" stroke="#111" stroke-width="0.9" />
<line x1="145.8" y1="286.8" x2="145.8" y2="289.6" stroke="#111" stroke-width="0.9" />
<line x1="96.73803785060254" y1="286.8" x2="96.73803785060254" y2="288.2" stroke="#222" stroke-width="0.6" />
<line x1="99.96531038020484" y1="286.8" x2="99.96531038020484" y2="288.2" stroke="#222" stroke-width="0.6" />
<line x1="102.25509668022605" y1="286.8" x2="102.25509668022605" y2="288.2" stroke="#222" stroke-width="0.6" />
<line x1="104.03119291862824" y1="286.8" x2="104.03119291862824" y2="288.2" stroke="#222" stroke-width="0.6" />
<line x1="105.48236920982835" y1="286.8" x2="105.48236920982835" y2="288.2" stroke="#222" stroke-width="0.6" />
<line x1="106.70932128160395" y1="286.8" x2="106.70932128160395" y2="288.2" stroke="#222" stroke-width="0.6" />
<line x1="107.77215550984954" y1="286.8" x2="107.77215550984954" y2="288.2" stroke="#222" stroke-width="0.6" />
<line x1="108.70964173943065" y1="286.8" x2="108.70964173943065" y2="288.2" stroke="#222" stroke-width="0.6" />
<line x1="115.06531057787525" y1="286.8" x2="115.06531057787525" y2="288.2" stroke="#222" stroke-width="0.6" />
<line x1="118.29258310747757" y1="286.8" x2="118.29258310747757" y2="288.2" stroke="#222" stroke-width="0.6" />
<line x1="120.58236940749877" y1="286.8" x2="120.58236940749877" y2="288.2" stroke="#222" stroke-width="0.6" />
<line x1="122.35846564590098" y1="286.8" x2="122.35846564590098" y2="288.2" stroke="#222" stroke-width="0.6" />
<line x1="123.80964193710108" y1="286.8" x2="123.80964193710108" y2="288.2" stroke="#222" stroke-width="0.6" />
<line x1="125.03659400887668" y1="286.8" x2="125.03659400887668" y2="288.2" stroke="#222" stroke-width="0.6" />
<line x1="126.09942823712228" y1="286.8" x2="126.09942823712228" y2="288.2" stroke="#222" stroke-width="0.6" />
<line x1="127.0369144667034" y1="286.8" x2="127.0369144667034" y2="288.2" stroke="#222" stroke-width="0.6" />
<line x1="133.2713292649365" y1="286.8" x2="133.2713292649365" y2="288.2" stroke="#222" stroke-width="0.6" />
<line x1="136.42767272795413" y1="286.8" x2="136.42767272795413" y2="288.2" stroke="#222" stroke-width="0.6" />
<line x1="138.66713405434848" y1="286.8" x2="138.66713405434848" y2="288.2" stroke="#222" stroke-width="0.6" />
<line x1="140.404195210588" y1="286.8" x2="140.404195210588" y2="288.2" stroke="#222" stroke-width="0.6" />
<line x1="141.82347751736614" y1="286.8" x2="141.82347751736614" y2="288.2" stroke="#222" stroke-width="0.6" />
<line x1="143.02346360954226" y1="286.8" x2="143.02346360954226" y2="288.2" stroke="#222" stroke-width="0.6" />
<line x1="144.0629388437605" y1="286.8" x2="144.0629388437605" y2="288.2" stroke="#222" stroke-width="0.6" />
<line x1="144.97982098038378" y1="286.8" x2="144.97982098038378" y2="288.2" stroke="#222" stroke-width="0.6" />
<rect x="66.17832167832168" y="286.8" width="8" height="2.2" fill="#111"/>
<line x1="54.365034965034965" y1="286.8" x2="54.365034965034965" y2="288.1" stroke="#333" stroke-width="0.6" />
<line x1="59.80279720279721" y1="286.8" x2="59.80279720279721" y2="288.1" stroke="#333" stroke-width="0.6" />
<line x1="65.24055944055945" y1="286.8" x2="65.24055944055945" y2="288.1" stroke="#333" stroke-width="0.6" />
<line x1="76.84111888111889" y1="286.8" x2="76.84111888111889" y2="288.1" stroke="#333" stroke-width="0.6" />
<line x1="81.97678321678322" y1="286.8" x2="81.97678321678322" y2="288.1" stroke="#333" stroke-width="0.6" />
<line x1="86.0853146853147" y1="286.8" x2="86.0853146853147" y2="288.1" stroke="#333" stroke-width="0.6" />
<text x="50.92727272727273" y="296.40000000000003" font-size="4.6" font-family="Liberation Serif" text-anchor="middle" fill="#222" stroke="#222" stroke-width="0.18">-10<tspan dx="0.5" dy="-2.6" font-size="3.8">3</tspan></text>
<text x="70.67832167832168" y="296.40000000000003" font-size="4.6" font-family="Liberation Serif" text-anchor="middle" fill="#222" stroke="#222" stroke-width="0.18">0</text>
<text x="90.62097902097904" y="296.40000000000003" font-size="4.6" font-family="Liberation Serif" text-anchor="start" fill="#222" stroke="#222" stroke-width="0.18">10<tspan dx="0.5" dy="-2.6" font-size="3.8">3</tspan></text>
<text x="109.24825174825175" y="296.40000000000003" font-size="4.6" font-family="Liberation Serif" text-anchor="start" fill="#222" stroke="#222" stroke-width="0.18">10<tspan dx="0.5" dy="-2.6" font-size="3.8">4</tspan></text>
<text x="127.87552447552449" y="296.40000000000003" font-size="4.6" font-family="Liberation Serif" text-anchor="start" fill="#222" stroke="#222" stroke-width="0.18">10<tspan dx="0.5" dy="-2.6" font-size="3.8">5</tspan></text>
<text x="146.20000000000002" y="296.40000000000003" font-size="4.6" font-family="Liberation Serif" text-anchor="end" fill="#222" stroke="#222" stroke-width="0.18">10<tspan dx="0.5" dy="-2.6" font-size="3.8">6</tspan></text>
<rect x="102.0" y="276.2" width="0.9" height="0.9" fill="#111"/>
<rect x="95.5" y="273.5" width="0.9" height="0.9" fill="#111"/>
<rect x="97.7" y="247.8" width="0.9" height="0.9" fill="#111"/>
<rect x="94.9" y="273.4" width="0.9" height="0.9" fill="#111"/>
<rect x="91.8" y="257.6" width="0.9" height="0.9" fill="#111"/>
<rect x="93.1" y="253.2" width="0.9" height="0.9" fill="#111"/>
<rect x="95.6" y="271.8" width="0.9" height="0.9" fill="#111"/>
<rect x="93.3" y="250.9" width="0.9" height="0.9" fill="#111"/>
<rect x="91.1" y="256.4" width="0.9" height="0.9" fill="#111"/>
<rect x="103.2" y="274.5" width="0.9" height="0.9" fill="#111"/>
<rect x="90.9" y="264.7" width="0.9" height="0.9" fill="#111"/>
<rect x="99.5" y="247.0" width="0.9" height="0.9" fill="#111"/>
<rect x="95.9" y="273.2" width="0.9" height="0.9" fill="#111"/>
<rect x="90.8" y="263.7" width="0.9" height="0.9" fill="#111"/>
<rect x="97.8" y="275.3" width="0.9" height="0.9" fill="#111"/>
<rect x="93.0" y="251.7" width="0.9" height="0.9" fill="#111"/>
<rect x="94.0" y="250.7" width="0.9" height="0.9" fill="#111"/>
<rect x="94.0" y="270.6" width="0.9" height="0.9" fill="#111"/>
<rect x="92.8" y="269.9" width="0.9" height="0.9" fill="#111"/>
<rect x="101.4" y="274.8" width="0.9" height="0.9" fill="#111"/>
<rect x="93.9" y="251.9" width="0.9" height="0.9" fill="#111"/>
<rect x="101.8" y="274.5" width="0.9" height="0.9" fill="#111"/>
<rect x="91.4" y="260.7" width="0.9" height="0.9" fill="#111"/>
<rect x="100.3" y="245.9" width="0.9" height="0.9" fill="#111"/>
<rect x="100.6" y="247.1" width="0.9" height="0.9" fill="#111"/>
<rect x="101.2" y="274.6" width="0.9" height="0.9" fill="#111"/>
<rect x="91.1" y="263.4" width="0.9" height="0.9" fill="#111"/>
<rect x="92.1" y="265.6" width="0.9" height="0.9" fill="#111"/>
<rect x="92.0" y="267.3" width="0.9" height="0.9" fill="#111"/>
<rect x="91.9" y="254.6" width="0.9" height="0.9" fill="#111"/>
<rect x="96.0" y="248.3" width="0.9" height="0.9" fill="#111"/>
<rect x="99.9" y="276.0" width="0.9" height="0.9" fill="#111"/>
<rect x="94.6" y="272.1" width="0.9" height="0.9" fill="#111"/>
<rect x="92.6" y="269.4" width="0.9" height="0.9" fill="#111"/>
<rect x="97.5" y="274.0" width="0.9" height="0.9" fill="#111"/>
<rect x="96.3" y="272.8" width="0.9" height="0.9" fill="#111"/>
<rect x="97.1" y="247.6" width="0.9" height="0.9" fill="#111"/>
<rect x="94.0" y="270.8" width="0.9" height="0.9" fill="#111"/>
<rect x="100.7" y="246.6" width="0.9" height="0.9" fill="#111"/>
<rect x="96.2" y="274.3" width="0.9" height="0.9" fill="#111"/>
<rect x="91.3" y="255.4" width="0.9" height="0.9" fill="#111"/>
<rect x="100.6" y="275.4" width="0.9" height="0.9" fill="#111"/>
<rect x="95.0" y="248.8" width="0.9" height="0.9" fill="#111"/>
<rect x="98.3" y="248.1" width="0.9" height="0.9" fill="#111"/>
<rect x="95.0" y="271.5" width="0.9" height="0.9" fill="#111"/>
<rect x="97.5" y="275.5" width="0.9" height="0.9" fill="#111"/>
<rect x="90.7" y="259.0" width="0.9" height="0.9" fill="#111"/>
<rect x="92.5" y="269.5" width="0.9" height="0.9" fill="#111"/>
<rect x="92.1" y="265.6" width="0.9" height="0.9" fill="#111"/>
<rect x="93.8" y="250.0" width="0.9" height="0.9" fill="#111"/>
<rect x="100.5" y="275.6" width="0.9" height="0.9" fill="#111"/>
<rect x="91.9" y="257.5" width="0.9" height="0.9" fill="#111"/>
<rect x="93.4" y="268.9" width="0.9" height="0.9" fill="#111"/>
<rect x="97.4" y="273.9" width="0.9" height="0.9" fill="#111"/>
<rect x="91.2" y="258.3" width="0.9" height="0.9" fill="#111"/>
<rect x="97.5" y="273.5" width="0.9" height="0.9" fill="#111"/>
<rect x="93.7" y="271.1" width="0.9" height="0.9" fill="#111"/>
<rect x="97.9" y="274.3" width="0.9" height="0.9" fill="#111"/>
<rect x="97.1" y="274.9" width="0.9" height="0.9" fill="#111"/>
<rect x="91.8" y="260.9" width="0.9" height="0.9" fill="#111"/>
<rect x="100.1" y="273.9" width="0.8" height="0.8" fill="#222"/>
<rect x="97.7" y="279.0" width="0.8" height="0.8" fill="#222"/>
<rect x="102.7" y="273.9" width="0.8" height="0.8" fill="#222"/>
<rect x="102.8" y="276.4" width="0.8" height="0.8" fill="#222"/>
<rect x="104.3" y="275.2" width="0.8" height="0.8" fill="#222"/>
<rect x="98.0" y="275.5" width="0.8" height="0.8" fill="#222"/>
<rect x="107.1" y="278.1" width="0.8" height="0.8" fill="#222"/>
<rect x="98.7" y="282.1" width="0.8" height="0.8" fill="#222"/>
<rect x="102.8" y="284.2" width="0.8" height="0.8" fill="#222"/>
<rect x="99.3" y="280.2" width="0.8" height="0.8" fill="#222"/>
<rect x="102.0" y="274.6" width="0.8" height="0.8" fill="#222"/>
<rect x="106.7" y="276.5" width="0.8" height="0.8" fill="#222"/>
<rect x="100.8" y="281.5" width="0.8" height="0.8" fill="#222"/>
<rect x="95.6" y="276.9" width="0.8" height="0.8" fill="#222"/>
<rect x="103.8" y="274.3" width="0.8" height="0.8" fill="#222"/>
<rect x="104.1" y="279.0" width="0.8" height="0.8" fill="#222"/>
<rect x="100.9" y="282.8" width="0.8" height="0.8" fill="#222"/>
<rect x="103.9" y="276.0" width="0.8" height="0.8" fill="#222"/>
<rect x="102.6" y="277.4" width="0.8" height="0.8" fill="#222"/>
<rect x="101.9" y="277.6" width="0.8" height="0.8" fill="#222"/>
<rect x="102.4" y="283.1" width="0.8" height="0.8" fill="#222"/>
<rect x="103.1" y="281.3" width="0.8" height="0.8" fill="#222"/>
<rect x="102.6" y="283.7" width="0.8" height="0.8" fill="#222"/>
<rect x="101.0" y="283.3" width="0.8" height="0.8" fill="#222"/>
<rect x="101.9" y="283.8" width="0.8" height="0.8" fill="#222"/>
<rect x="99.6" y="283.1" width="0.8" height="0.8" fill="#222"/>
<rect x="100.6" y="276.2" width="0.8" height="0.8" fill="#222"/>
<rect x="103.8" y="281.6" width="0.8" height="0.8" fill="#222"/>
<rect x="98.3" y="274.3" width="0.8" height="0.8" fill="#222"/>
<rect x="101.0" y="276.3" width="0.8" height="0.8" fill="#222"/>
<rect x="98.6" y="281.9" width="0.8" height="0.8" fill="#222"/>
<rect x="101.4" y="274.7" width="0.8" height="0.8" fill="#222"/>
<rect x="89.5" y="258.8" width="1.1" height="1.1" fill="#000"/>
<rect x="91.4" y="258.3" width="1.1" height="1.1" fill="#000"/>
<rect x="88.5" y="254.8" width="1.1" height="1.1" fill="#000"/>
<rect x="91.8" y="271.6" width="1.1" height="1.1" fill="#000"/>
<rect x="88.4" y="263.0" width="1.1" height="1.1" fill="#000"/>
<rect x="88.0" y="249.4" width="1.1" height="1.1" fill="#000"/>
<rect x="89.1" y="251.4" width="1.1" height="1.1" fill="#000"/>
<rect x="89.0" y="262.6" width="1.1" height="1.1" fill="#000"/>
<rect x="90.0" y="256.3" width="1.1" height="1.1" fill="#000"/>
<rect x="90.0" y="263.5" width="1.1" height="1.1" fill="#000"/>
<rect x="91.97" y="285.80" width="17.10" height="1.3" fill="#222" opacity="0.85"/>
<polygon points="110.50,261.00 110.34,262.83 110.03,264.62 109.58,266.36 108.98,268.00 108.26,269.52 107.43,270.90 106.51,272.11 105.50,273.12 104.43,273.93 103.32,274.52 102.17,274.88 101.00,275.00 99.83,274.88 98.68,274.52 97.57,273.93 96.50,273.12 95.49,272.11 94.57,270.90 93.74,269.52 93.02,268.00 92.42,266.36 91.97,264.62 91.66,262.83 91.50,261.00 91.51,259.17 91.68,257.38 92.02,255.64 92.53,254.00 93.19,252.48 94.00,251.10 94.94,249.89 96.00,248.88 97.16,248.07 98.40,247.48 99.69,247.12 101.00,247.00 102.31,247.12 103.60,247.48 104.84,248.07 106.00,248.88 107.06,249.89 108.00,251.10 108.81,252.48 109.47,254.00 109.98,255.64 110.32,257.38 110.49,259.17" fill="url(#bg)" stroke="#4a4a4a" stroke-width="0.8"/>
<polygon points="109.72,261.00 109.58,262.64 109.30,264.26 108.89,265.82 108.35,267.30 107.71,268.67 106.96,269.91 106.13,271.00 105.22,271.91 104.26,272.64 103.26,273.17 102.22,273.49 101.17,273.60 100.12,273.49 99.09,273.17 98.08,272.64 97.12,271.91 96.21,271.00 95.38,269.91 94.64,268.67 93.99,267.30 93.45,265.82 93.04,264.26 92.76,262.64 92.62,261.00 92.63,259.36 92.78,257.74 93.09,256.18 93.54,254.70 94.14,253.33 94.87,252.09 95.72,251.00 96.67,250.09 97.72,249.36 98.83,248.83 99.99,248.51 101.17,248.40 102.35,248.51 103.51,248.83 104.62,249.36 105.67,250.09 106.62,251.00 107.47,252.09 108.20,253.33 108.80,254.70 109.25,256.18 109.56,257.74 109.71,259.36" fill="none" stroke="#a0a0a0" stroke-width="0.55"/>
<polygon points="108.94,261.00 108.82,262.46 108.57,263.90 108.20,265.29 107.73,266.60 107.15,267.82 106.49,268.92 105.75,269.89 104.94,270.70 104.09,271.35 103.20,271.82 102.27,272.10 101.34,272.20 100.41,272.10 99.49,271.82 98.59,271.35 97.74,270.70 96.94,269.89 96.20,268.92 95.53,267.82 94.96,266.60 94.48,265.29 94.11,263.90 93.87,262.46 93.74,261.00 93.75,259.54 93.89,258.10 94.16,256.71 94.56,255.40 95.09,254.18 95.74,253.08 96.50,252.11 97.34,251.30 98.27,250.65 99.26,250.18 100.29,249.90 101.34,249.80 102.39,249.90 103.42,250.18 104.41,250.65 105.34,251.30 106.19,252.11 106.94,253.08 107.59,254.18 108.12,255.40 108.52,256.71 108.80,258.10 108.94,259.54" fill="none" stroke="#929292" stroke-width="0.55"/>
<polygon points="108.16,261.00 108.05,262.28 107.84,263.54 107.52,264.75 107.10,265.90 106.60,266.97 106.02,267.93 105.37,268.77 104.67,269.49 103.92,270.05 103.13,270.47 102.33,270.72 101.51,270.80 100.70,270.72 99.89,270.47 99.11,270.05 98.36,269.49 97.66,268.77 97.01,267.93 96.43,266.97 95.93,265.90 95.51,264.75 95.19,263.54 94.97,262.28 94.86,261.00 94.87,259.72 94.99,258.46 95.23,257.25 95.58,256.10 96.04,255.03 96.61,254.07 97.27,253.23 98.02,252.51 98.83,251.95 99.69,251.53 100.59,251.28 101.51,251.20 102.43,251.28 103.33,251.53 104.20,251.95 105.01,252.51 105.75,253.23 106.41,254.07 106.98,255.03 107.44,256.10 107.80,257.25 108.04,258.46 108.16,259.72" fill="none" stroke="#888" stroke-width="0.55"/>
<polygon points="107.38,261.00 107.29,262.10 107.10,263.17 106.83,264.21 106.47,265.20 106.04,266.11 105.54,266.94 104.99,267.66 104.39,268.27 103.74,268.76 103.07,269.11 102.38,269.33 101.68,269.40 100.98,269.33 100.29,269.11 99.62,268.76 98.98,268.27 98.38,267.66 97.82,266.94 97.33,266.11 96.90,265.20 96.54,264.21 96.26,263.17 96.08,262.10 95.98,261.00 95.99,259.90 96.09,258.83 96.30,257.79 96.60,256.80 97.00,255.89 97.48,255.06 98.05,254.34 98.69,253.73 99.38,253.24 100.12,252.89 100.90,252.67 101.68,252.60 102.47,252.67 103.24,252.89 103.99,253.24 104.68,253.73 105.32,254.34 105.89,255.06 106.37,255.89 106.77,256.80 107.07,257.79 107.28,258.83 107.38,259.90" fill="none" stroke="#828282" stroke-width="0.55"/>
<polygon points="106.61,261.00 106.53,261.91 106.37,262.81 106.14,263.68 105.85,264.50 105.49,265.26 105.07,265.95 104.61,266.55 104.11,267.06 103.57,267.47 103.01,267.76 102.44,267.94 101.86,268.00 101.27,267.94 100.70,267.76 100.14,267.47 99.60,267.06 99.10,266.55 98.64,265.95 98.22,265.26 97.86,264.50 97.57,263.68 97.34,262.81 97.18,261.91 97.11,261.00 97.11,260.09 97.20,259.19 97.37,258.32 97.62,257.50 97.95,256.74 98.35,256.05 98.83,255.45 99.36,254.94 99.94,254.53 100.55,254.24 101.20,254.06 101.86,254.00 102.51,254.06 103.16,254.24 103.77,254.53 104.35,254.94 104.88,255.45 105.36,256.05 105.76,256.74 106.09,257.50 106.34,258.32 106.51,259.19 106.60,260.09" fill="none" stroke="#808080" stroke-width="0.55"/>
<polygon points="105.83,261.00 105.76,261.73 105.64,262.45 105.46,263.14 105.22,263.80 104.93,264.41 104.60,264.96 104.23,265.44 103.83,265.85 103.40,266.17 102.95,266.41 102.49,266.55 102.03,266.60 101.56,266.55 101.10,266.41 100.65,266.17 100.22,265.85 99.82,265.44 99.45,264.96 99.12,264.41 98.83,263.80 98.60,263.14 98.41,262.45 98.29,261.73 98.23,261.00 98.23,260.27 98.30,259.55 98.43,258.86 98.64,258.20 98.90,257.59 99.22,257.04 99.60,256.56 100.03,256.15 100.49,255.83 100.99,255.59 101.50,255.45 102.03,255.40 102.55,255.45 103.07,255.59 103.56,255.83 104.02,256.15 104.45,256.56 104.83,257.04 105.15,257.59 105.42,258.20 105.62,258.86 105.75,259.55 105.82,260.27" fill="none" stroke="#848484" stroke-width="0.55"/>
<polygon points="105.05,261.00 105.00,261.55 104.91,262.09 104.77,262.61 104.59,263.10 104.38,263.56 104.13,263.97 103.85,264.33 103.55,264.64 103.23,264.88 102.89,265.06 102.55,265.16 102.20,265.20 101.85,265.16 101.50,265.06 101.17,264.88 100.85,264.64 100.54,264.33 100.27,263.97 100.02,263.56 99.80,263.10 99.62,262.61 99.49,262.09 99.39,261.55 99.35,261.00 99.35,260.45 99.40,259.91 99.50,259.39 99.65,258.90 99.85,258.44 100.10,258.03 100.38,257.67 100.70,257.36 101.05,257.12 101.42,256.94 101.80,256.84 102.20,256.80 102.59,256.84 102.98,256.94 103.35,257.12 103.70,257.36 104.01,257.67 104.30,258.03 104.54,258.44 104.74,258.90 104.89,259.39 104.99,259.91 105.04,260.45" fill="none" stroke="#8e8e8e" stroke-width="0.55"/>
<polygon points="104.27,261.00 104.24,261.37 104.17,261.72 104.08,262.07 103.96,262.40 103.82,262.70 103.65,262.98 103.47,263.22 103.27,263.42 103.05,263.59 102.83,263.70 102.60,263.78 102.37,263.80 102.13,263.78 101.90,263.70 101.68,263.59 101.47,263.42 101.27,263.22 101.08,262.98 100.92,262.70 100.77,262.40 100.65,262.07 100.56,261.72 100.50,261.37 100.47,261.00 100.47,260.63 100.50,260.28 100.57,259.93 100.67,259.60 100.81,259.30 100.97,259.02 101.16,258.78 101.37,258.58 101.60,258.41 101.85,258.30 102.11,258.22 102.37,258.20 102.63,258.22 102.89,258.30 103.14,258.41 103.37,258.58 103.58,258.78 103.77,259.02 103.93,259.30 104.06,259.60 104.16,259.93 104.23,260.28 104.27,260.63" fill="none" stroke="#a0a0a0" stroke-width="0.55"/>
<ellipse cx="102.425" cy="261" rx="0.855" ry="3.08" fill="#d8d8d8"/>
<polygon points="110.02,261.00 109.88,262.68 109.60,264.33 109.17,265.93 108.63,267.44 107.97,268.84 107.20,270.11 106.35,271.22 105.43,272.15 104.44,272.90 103.42,273.44 102.36,273.77 101.28,273.88 100.21,273.77 99.15,273.44 98.13,272.90 97.14,272.15 96.22,271.22 95.37,270.11 94.60,268.84 93.94,267.44 93.40,265.93 92.97,264.33 92.69,262.68 92.55,261.00 92.55,259.32 92.71,257.67 93.02,256.07 93.49,254.56 94.10,253.16 94.84,251.89 95.71,250.78 96.69,249.85 97.75,249.10 98.89,248.56 100.08,248.23 101.28,248.12 102.49,248.23 103.68,248.56 104.82,249.10 105.88,249.85 106.86,250.78 107.73,251.89 108.47,253.16 109.08,254.56 109.55,256.07 109.86,257.67 110.02,259.32" fill="#000" opacity="0.06"/>
<polyline points="102.40,274.83 101.29,274.99 100.18,274.94 99.08,274.67 98.01,274.20 96.97,273.52 95.99,272.64 95.07,271.59 94.22,270.37 93.47,269.01 92.83,267.52 92.30,265.93 91.89,264.27 91.62,262.55 91.49,260.82 91.51,259.08 91.68,257.38 92.00,255.73 92.47,254.16 93.08,252.70 93.82,251.36 94.69,250.18 95.67,249.16 96.75,248.32 97.90,247.69" fill="none" stroke="#1a1a1a" stroke-width="1.3" stroke-dasharray="1.5 0.5"/>
<rect x="92" y="208.7" width="21.200000000000003" height="37.5" fill="none" stroke="#222" stroke-width="1"/>
<text x="102.4" y="196.4" font-size="6" font-weight="bold" font-family="Liberation Serif" text-anchor="middle" fill="#222" stroke="#222" stroke-width="0.2" textLength="15.4" lengthAdjust="spacingAndGlyphs">IFN-G</text>
<text x="102" y="202.70000000000002" font-size="5.8" font-weight="bold" font-family="Liberation Serif" text-anchor="middle" fill="#333" stroke="#333" stroke-width="0.15">0.14</text>
<rect x="47.7" y="191.6" width="28.20" height="18.40" fill="#fff" stroke="#3a3a3a" stroke-width="1.2"/>
<text x="62" y="204.90" font-size="10.4" font-weight="bold" font-family="Liberation Sans" text-anchor="middle" fill="#c8161e" stroke="#c8161e" stroke-width="0.45" textLength="21.80" lengthAdjust="spacingAndGlyphs">0.14</text>
<rect x="162.4" y="187.4" width="100.6" height="100.79999999999998" fill="none" stroke="#a4a4a4" stroke-width="1.2"/>
<line x1="159.4" y1="187.4" x2="162.4" y2="187.4" stroke="#111" stroke-width="1.1" />
<line x1="159.4" y1="205.2" x2="162.4" y2="205.2" stroke="#111" stroke-width="1.1" />
<line x1="159.4" y1="223.2" x2="162.4" y2="223.2" stroke="#111" stroke-width="1.1" />
<line x1="159.4" y1="240.7" x2="162.4" y2="240.7" stroke="#111" stroke-width="1.1" />
<line x1="159.4" y1="263.8" x2="162.4" y2="263.8" stroke="#111" stroke-width="1.1" />
<line x1="159.4" y1="286.3" x2="162.4" y2="286.3" stroke="#111" stroke-width="1.1" />
<line x1="161.0" y1="199.84166607718112" x2="162.4" y2="199.84166607718112" stroke="#222" stroke-width="0.6" />
<line x1="161.0" y1="196.70724166599" x2="162.4" y2="196.70724166599" stroke="#222" stroke-width="0.6" />
<line x1="161.0" y1="194.48333215436227" x2="162.4" y2="194.48333215436227" stroke="#222" stroke-width="0.6" />
<line x1="161.0" y1="192.75833392281888" x2="162.4" y2="192.75833392281888" stroke="#222" stroke-width="0.6" />
<line x1="161.0" y1="191.34890774317114" x2="162.4" y2="191.34890774317114" stroke="#222" stroke-width="0.6" />
<line x1="161.0" y1="190.15725488774623" x2="162.4" y2="190.15725488774623" stroke="#222" stroke-width="0.6" />
<line x1="161.0" y1="189.1249982315434" x2="162.4" y2="189.1249982315434" stroke="#222" stroke-width="0.6" />
<line x1="161.0" y1="188.21448333198003" x2="162.4" y2="188.21448333198003" stroke="#222" stroke-width="0.6" />
<line x1="161.0" y1="217.78146007804833" x2="162.4" y2="217.78146007804833" stroke="#222" stroke-width="0.6" />
<line x1="161.0" y1="214.61181741504606" x2="162.4" y2="214.61181741504606" stroke="#222" stroke-width="0.6" />
<line x1="161.0" y1="212.36292015609666" x2="162.4" y2="212.36292015609666" stroke="#222" stroke-width="0.6" />
<line x1="161.0" y1="210.61853992195165" x2="162.4" y2="210.61853992195165" stroke="#222" stroke-width="0.6" />
<line x1="161.0" y1="209.1932774930944" x2="162.4" y2="209.1932774930944" stroke="#222" stroke-width="0.6" />
<line x1="161.0" y1="207.98823527974338" x2="162.4" y2="207.98823527974338" stroke="#222" stroke-width="0.6" />
<line x1="161.0" y1="206.944380234145" x2="162.4" y2="206.944380234145" stroke="#222" stroke-width="0.6" />
<line x1="161.0" y1="206.02363483009213" x2="162.4" y2="206.02363483009213" stroke="#222" stroke-width="0.6" />
<line x1="161.0" y1="235.43197507588033" x2="162.4" y2="235.43197507588033" stroke="#222" stroke-width="0.6" />
<line x1="161.0" y1="232.3503780424059" x2="162.4" y2="232.3503780424059" stroke="#222" stroke-width="0.6" />
<line x1="161.0" y1="230.16395015176064" x2="162.4" y2="230.16395015176064" stroke="#222" stroke-width="0.6" />
<line x1="161.0" y1="228.46802492411965" x2="162.4" y2="228.46802492411965" stroke="#222" stroke-width="0.6" />
<line x1="161.0" y1="227.08235311828622" x2="162.4" y2="227.08235311828622" stroke="#222" stroke-width="0.6" />
<line x1="161.0" y1="225.9107842997505" x2="162.4" y2="225.9107842997505" stroke="#222" stroke-width="0.6" />
<line x1="161.0" y1="224.895925227641" x2="162.4" y2="224.895925227641" stroke="#222" stroke-width="0.6" />
<line x1="161.0" y1="224.0007560848118" x2="162.4" y2="224.0007560848118" stroke="#222" stroke-width="0.6" />
<line x1="160.8" y1="260.16175" x2="162.4" y2="260.16175" stroke="#111" stroke-width="0.7" />
<line x1="160.8" y1="266.1625" x2="162.4" y2="266.1625" stroke="#111" stroke-width="0.7" />
<line x1="160.8" y1="258.08275000000003" x2="162.4" y2="258.08275000000003" stroke="#111" stroke-width="0.7" />
<line x1="160.8" y1="267.5125" x2="162.4" y2="267.5125" stroke="#111" stroke-width="0.7" />
<line x1="160.8" y1="256.5235" x2="162.4" y2="256.5235" stroke="#111" stroke-width="0.7" />
<line x1="160.8" y1="268.52500000000003" x2="162.4" y2="268.52500000000003" stroke="#111" stroke-width="0.7" />
<line x1="160.8" y1="255.484" x2="162.4" y2="255.484" stroke="#111" stroke-width="0.7" />
<line x1="160.8" y1="269.2" x2="162.4" y2="269.2" stroke="#111" stroke-width="0.7" />
<line x1="160.8" y1="254.6524" x2="162.4" y2="254.6524" stroke="#111" stroke-width="0.7" />
<line x1="160.8" y1="269.74" x2="162.4" y2="269.74" stroke="#111" stroke-width="0.7" />
<line x1="160.8" y1="254.02870000000001" x2="162.4" y2="254.02870000000001" stroke="#111" stroke-width="0.7" />
<line x1="160.8" y1="270.14500000000004" x2="162.4" y2="270.14500000000004" stroke="#111" stroke-width="0.7" />
<line x1="161.20000000000002" y1="280.675" x2="162.4" y2="280.675" stroke="#333" stroke-width="0.5" />
<line x1="161.20000000000002" y1="275.05" x2="162.4" y2="275.05" stroke="#333" stroke-width="0.5" />
<line x1="161.20000000000002" y1="269.425" x2="162.4" y2="269.425" stroke="#333" stroke-width="0.5" />
<rect x="160.40" y="258.60" width="2" height="9.8" fill="#444"/>
<text x="155.10" y="194.40" font-size="4.6" font-family="Liberation Serif" text-anchor="end" fill="#222" stroke="#222" stroke-width="0.18">10</text>
<text x="155.60" y="191.80" font-size="3.8" font-family="Liberation Serif" fill="#222" stroke="#222" stroke-width="0.15">6</text>
<text x="155.10" y="207.80" font-size="4.6" font-family="Liberation Serif" text-anchor="end" fill="#222" stroke="#222" stroke-width="0.18">10</text>
<text x="155.60" y="205.20" font-size="3.8" font-family="Liberation Serif" fill="#222" stroke="#222" stroke-width="0.15">5</text>
<text x="155.10" y="225.80" font-size="4.6" font-family="Liberation Serif" text-anchor="end" fill="#222" stroke="#222" stroke-width="0.18">10</text>
<text x="155.60" y="223.20" font-size="3.8" font-family="Liberation Serif" fill="#222" stroke="#222" stroke-width="0.15">4</text>
<text x="155.10" y="243.30" font-size="4.6" font-family="Liberation Serif" text-anchor="end" fill="#222" stroke="#222" stroke-width="0.18">10</text>
<text x="155.60" y="240.70" font-size="3.8" font-family="Liberation Serif" fill="#222" stroke="#222" stroke-width="0.15">3</text>
<text x="155.70" y="266.40" font-size="4.6" font-family="Liberation Serif" text-anchor="end" fill="#222" stroke="#222" stroke-width="0.18">0</text>
<text x="155.10" y="288.90" font-size="4.6" font-family="Liberation Serif" text-anchor="end" fill="#222" stroke="#222" stroke-width="0.18">-10</text>
<text x="155.60" y="286.30" font-size="3.8" font-family="Liberation Serif" fill="#222" stroke="#222" stroke-width="0.15">3</text>
<line x1="166.31948051948052" y1="288.2" x2="166.31948051948052" y2="291.0" stroke="#111" stroke-width="0.9" />
<line x1="188.02737262737264" y1="288.2" x2="188.02737262737264" y2="291.0" stroke="#111" stroke-width="0.9" />
<line x1="208.52927072927073" y1="288.2" x2="208.52927072927073" y2="291.0" stroke="#111" stroke-width="0.9" />
<line x1="226.82017982017982" y1="288.2" x2="226.82017982017982" y2="291.0" stroke="#111" stroke-width="0.9" />
<line x1="245.11108891108893" y1="288.2" x2="245.11108891108893" y2="291.0" stroke="#111" stroke-width="0.9" />
<line x1="263.0" y1="288.2" x2="263.0" y2="291.0" stroke="#111" stroke-width="0.9" />
<line x1="214.03538301359737" y1="288.2" x2="214.03538301359737" y2="289.59999999999997" stroke="#222" stroke-width="0.6" />
<line x1="217.25625222468855" y1="288.2" x2="217.25625222468855" y2="289.59999999999997" stroke="#222" stroke-width="0.6" />
<line x1="219.541495297924" y1="288.2" x2="219.541495297924" y2="289.59999999999997" stroke="#222" stroke-width="0.6" />
<line x1="221.31406753585318" y1="288.2" x2="221.31406753585318" y2="289.59999999999997" stroke="#222" stroke-width="0.6" />
<line x1="222.76236450901519" y1="288.2" x2="222.76236450901519" y2="289.59999999999997" stroke="#222" stroke-width="0.6" />
<line x1="223.98688215207696" y1="288.2" x2="223.98688215207696" y2="289.59999999999997" stroke="#222" stroke-width="0.6" />
<line x1="225.04760758225063" y1="288.2" x2="225.04760758225063" y2="289.59999999999997" stroke="#222" stroke-width="0.6" />
<line x1="225.98323372010637" y1="288.2" x2="225.98323372010637" y2="289.59999999999997" stroke="#222" stroke-width="0.6" />
<line x1="232.32629210450645" y1="288.2" x2="232.32629210450645" y2="289.59999999999997" stroke="#222" stroke-width="0.6" />
<line x1="235.54716131559766" y1="288.2" x2="235.54716131559766" y2="289.59999999999997" stroke="#222" stroke-width="0.6" />
<line x1="237.8324043888331" y1="288.2" x2="237.8324043888331" y2="289.59999999999997" stroke="#222" stroke-width="0.6" />
<line x1="239.6049766267623" y1="288.2" x2="239.6049766267623" y2="289.59999999999997" stroke="#222" stroke-width="0.6" />
<line x1="241.0532735999243" y1="288.2" x2="241.0532735999243" y2="289.59999999999997" stroke="#222" stroke-width="0.6" />
<line x1="242.27779124298607" y1="288.2" x2="242.27779124298607" y2="289.59999999999997" stroke="#222" stroke-width="0.6" />
<line x1="243.33851667315975" y1="288.2" x2="243.33851667315975" y2="289.59999999999997" stroke="#222" stroke-width="0.6" />
<line x1="244.27414281101548" y1="288.2" x2="244.27414281101548" y2="289.59999999999997" stroke="#222" stroke-width="0.6" />
<line x1="250.49618773861718" y1="288.2" x2="250.49618773861718" y2="289.59999999999997" stroke="#222" stroke-width="0.6" />
<line x1="253.64626861539867" y1="288.2" x2="253.64626861539867" y2="289.59999999999997" stroke="#222" stroke-width="0.6" />
<line x1="255.8812865661454" y1="288.2" x2="255.8812865661454" y2="289.59999999999997" stroke="#222" stroke-width="0.6" />
<line x1="257.6149011724718" y1="288.2" x2="257.6149011724718" y2="289.59999999999997" stroke="#222" stroke-width="0.6" />
<line x1="259.0313674429269" y1="288.2" x2="259.0313674429269" y2="289.59999999999997" stroke="#222" stroke-width="0.6" />
<line x1="260.228972610317" y1="288.2" x2="260.228972610317" y2="289.59999999999997" stroke="#222" stroke-width="0.6" />
<line x1="261.26638539367366" y1="288.2" x2="261.26638539367366" y2="289.59999999999997" stroke="#222" stroke-width="0.6" />
<line x1="262.1814483197084" y1="288.2" x2="262.1814483197084" y2="289.59999999999997" stroke="#222" stroke-width="0.6" />
<rect x="183.52737262737264" y="288.2" width="8" height="2.2" fill="#111"/>
<line x1="171.74645354645355" y1="288.2" x2="171.74645354645355" y2="289.5" stroke="#333" stroke-width="0.6" />
<line x1="177.17342657342658" y1="288.2" x2="177.17342657342658" y2="289.5" stroke="#333" stroke-width="0.6" />
<line x1="182.6003996003996" y1="288.2" x2="182.6003996003996" y2="289.5" stroke="#333" stroke-width="0.6" />
<line x1="194.17794205794206" y1="288.2" x2="194.17794205794206" y2="289.5" stroke="#333" stroke-width="0.6" />
<line x1="199.3034165834166" y1="288.2" x2="199.3034165834166" y2="289.5" stroke="#333" stroke-width="0.6" />
<line x1="203.40379620379622" y1="288.2" x2="203.40379620379622" y2="289.5" stroke="#333" stroke-width="0.6" />
<text x="168.31948051948052" y="297.8" font-size="4.6" font-family="Liberation Serif" text-anchor="middle" fill="#222" stroke="#222" stroke-width="0.18">-10<tspan dx="0.5" dy="-2.6" font-size="3.8">3</tspan></text>
<text x="188.02737262737264" y="297.8" font-size="4.6" font-family="Liberation Serif" text-anchor="middle" fill="#222" stroke="#222" stroke-width="0.18">0</text>
<text x="207.92927072927074" y="297.8" font-size="4.6" font-family="Liberation Serif" text-anchor="start" fill="#222" stroke="#222" stroke-width="0.18">10<tspan dx="0.5" dy="-2.6" font-size="3.8">3</tspan></text>
<text x="226.5201798201798" y="297.8" font-size="4.6" font-family="Liberation Serif" text-anchor="start" fill="#222" stroke="#222" stroke-width="0.18">10<tspan dx="0.5" dy="-2.6" font-size="3.8">4</tspan></text>
<text x="245.11108891108893" y="297.8" font-size="4.6" font-family="Liberation Serif" text-anchor="start" fill="#222" stroke="#222" stroke-width="0.18">10<tspan dx="0.5" dy="-2.6" font-size="3.8">5</tspan></text>
<text x="263.4" y="297.8" font-size="4.6" font-family="Liberation Serif" text-anchor="end" fill="#222" stroke="#222" stroke-width="0.18">10<tspan dx="0.5" dy="-2.6" font-size="3.8">6</tspan></text>
<rect x="208.5" y="256.6" width="0.9" height="0.9" fill="#111"/>
<rect x="209.0" y="266.8" width="0.9" height="0.9" fill="#111"/>
<rect x="208.0" y="258.4" width="0.9" height="0.9" fill="#111"/>
<rect x="212.7" y="274.9" width="0.9" height="0.9" fill="#111"/>
<rect x="210.8" y="251.8" width="0.9" height="0.9" fill="#111"/>
<rect x="214.6" y="275.5" width="0.9" height="0.9" fill="#111"/>
<rect x="217.0" y="275.5" width="0.9" height="0.9" fill="#111"/>
<rect x="209.0" y="267.2" width="0.9" height="0.9" fill="#111"/>
<rect x="208.3" y="267.0" width="0.9" height="0.9" fill="#111"/>
<rect x="219.2" y="276.3" width="0.9" height="0.9" fill="#111"/>
<rect x="217.8" y="276.7" width="0.9" height="0.9" fill="#111"/>
<rect x="210.7" y="251.8" width="0.9" height="0.9" fill="#111"/>
<rect x="218.7" y="276.1" width="0.9" height="0.9" fill="#111"/>
<rect x="208.8" y="270.3" width="0.9" height="0.9" fill="#111"/>
<rect x="215.9" y="276.7" width="0.9" height="0.9" fill="#111"/>
<rect x="217.4" y="247.3" width="0.9" height="0.9" fill="#111"/>
<rect x="211.9" y="251.1" width="0.9" height="0.9" fill="#111"/>
<rect x="216.9" y="247.8" width="0.9" height="0.9" fill="#111"/>
<rect x="216.0" y="247.2" width="0.9" height="0.9" fill="#111"/>
<rect x="214.9" y="276.3" width="0.9" height="0.9" fill="#111"/>
<rect x="215.3" y="249.0" width="0.9" height="0.9" fill="#111"/>
<rect x="209.6" y="271.2" width="0.9" height="0.9" fill="#111"/>
<rect x="215.1" y="276.6" width="0.9" height="0.9" fill="#111"/>
<rect x="211.4" y="273.9" width="0.9" height="0.9" fill="#111"/>
<rect x="215.7" y="276.0" width="0.9" height="0.9" fill="#111"/>
<rect x="214.9" y="248.9" width="0.9" height="0.9" fill="#111"/>
<rect x="212.0" y="273.8" width="0.9" height="0.9" fill="#111"/>
<rect x="211.0" y="271.4" width="0.9" height="0.9" fill="#111"/>
<rect x="214.6" y="274.9" width="0.9" height="0.9" fill="#111"/>
<rect x="215.3" y="247.8" width="0.9" height="0.9" fill="#111"/>
<rect x="214.2" y="249.3" width="0.9" height="0.9" fill="#111"/>
<rect x="211.2" y="252.1" width="0.9" height="0.9" fill="#111"/>
<rect x="207.5" y="262.7" width="0.9" height="0.9" fill="#111"/>
<rect x="209.3" y="270.9" width="0.9" height="0.9" fill="#111"/>
<rect x="207.6" y="261.5" width="0.9" height="0.9" fill="#111"/>
<rect x="213.8" y="249.6" width="0.9" height="0.9" fill="#111"/>
<rect x="217.3" y="247.5" width="0.9" height="0.9" fill="#111"/>
<rect x="208.7" y="269.4" width="0.9" height="0.9" fill="#111"/>
<rect x="211.6" y="274.5" width="0.9" height="0.9" fill="#111"/>
<rect x="208.0" y="260.5" width="0.9" height="0.9" fill="#111"/>
<rect x="210.4" y="252.3" width="0.9" height="0.9" fill="#111"/>
<rect x="214.5" y="276.0" width="0.9" height="0.9" fill="#111"/>
<rect x="219.0" y="276.7" width="0.9" height="0.9" fill="#111"/>
<rect x="212.2" y="274.3" width="0.9" height="0.9" fill="#111"/>
<rect x="217.0" y="247.6" width="0.9" height="0.9" fill="#111"/>
<rect x="208.7" y="256.5" width="0.9" height="0.9" fill="#111"/>
<rect x="220.3" y="274.7" width="0.9" height="0.9" fill="#111"/>
<rect x="215.5" y="276.1" width="0.9" height="0.9" fill="#111"/>
<rect x="208.4" y="267.4" width="0.9" height="0.9" fill="#111"/>
<rect x="214.2" y="249.4" width="0.9" height="0.9" fill="#111"/>
<rect x="213.0" y="274.9" width="0.9" height="0.9" fill="#111"/>
<rect x="219.6" y="274.9" width="0.9" height="0.9" fill="#111"/>
<rect x="210.2" y="270.2" width="0.9" height="0.9" fill="#111"/>
<rect x="210.0" y="270.3" width="0.9" height="0.9" fill="#111"/>
<rect x="207.7" y="260.1" width="0.9" height="0.9" fill="#111"/>
<rect x="213.7" y="275.4" width="0.9" height="0.9" fill="#111"/>
<rect x="208.5" y="265.3" width="0.9" height="0.9" fill="#111"/>
<rect x="215.4" y="248.6" width="0.9" height="0.9" fill="#111"/>
<rect x="215.6" y="275.2" width="0.9" height="0.9" fill="#111"/>
<rect x="207.7" y="257.3" width="0.9" height="0.9" fill="#111"/>
<rect x="215.4" y="282.1" width="0.8" height="0.8" fill="#222"/>
<rect x="215.2" y="274.4" width="0.8" height="0.8" fill="#222"/>
<rect x="218.3" y="280.2" width="0.8" height="0.8" fill="#222"/>
<rect x="214.6" y="280.2" width="0.8" height="0.8" fill="#222"/>
<rect x="216.0" y="277.7" width="0.8" height="0.8" fill="#222"/>
<rect x="221.3" y="275.8" width="0.8" height="0.8" fill="#222"/>
<rect x="215.2" y="284.0" width="0.8" height="0.8" fill="#222"/>
<rect x="220.4" y="277.3" width="0.8" height="0.8" fill="#222"/>
<rect x="218.0" y="275.7" width="0.8" height="0.8" fill="#222"/>
<rect x="221.6" y="274.4" width="0.8" height="0.8" fill="#222"/>
<rect x="218.8" y="279.0" width="0.8" height="0.8" fill="#222"/>
<rect x="218.5" y="275.4" width="0.8" height="0.8" fill="#222"/>
<rect x="216.5" y="279.7" width="0.8" height="0.8" fill="#222"/>
<rect x="212.9" y="282.6" width="0.8" height="0.8" fill="#222"/>
<rect x="216.8" y="275.2" width="0.8" height="0.8" fill="#222"/>
<rect x="216.1" y="274.5" width="0.8" height="0.8" fill="#222"/>
<rect x="219.3" y="283.8" width="0.8" height="0.8" fill="#222"/>
<rect x="218.0" y="274.4" width="0.8" height="0.8" fill="#222"/>
<rect x="212.6" y="283.1" width="0.8" height="0.8" fill="#222"/>
<rect x="216.9" y="281.5" width="0.8" height="0.8" fill="#222"/>
<rect x="213.8" y="277.8" width="0.8" height="0.8" fill="#222"/>
<rect x="217.2" y="275.7" width="0.8" height="0.8" fill="#222"/>
<rect x="218.4" y="274.5" width="0.8" height="0.8" fill="#222"/>
<rect x="214.6" y="280.9" width="0.8" height="0.8" fill="#222"/>
<rect x="221.1" y="283.1" width="0.8" height="0.8" fill="#222"/>
<rect x="216.5" y="279.0" width="0.8" height="0.8" fill="#222"/>
<rect x="214.8" y="277.6" width="0.8" height="0.8" fill="#222"/>
<rect x="217.9" y="275.9" width="0.8" height="0.8" fill="#222"/>
<rect x="213.7" y="280.2" width="0.8" height="0.8" fill="#222"/>
<rect x="219.0" y="283.6" width="0.8" height="0.8" fill="#222"/>
<rect x="216.6" y="274.4" width="0.8" height="0.8" fill="#222"/>
<rect x="216.9" y="281.6" width="0.8" height="0.8" fill="#222"/>
<rect x="204.9" y="273.7" width="1.1" height="1.1" fill="#000"/>
<rect x="204.3" y="257.9" width="1.1" height="1.1" fill="#000"/>
<rect x="207.3" y="258.0" width="1.1" height="1.1" fill="#000"/>
<rect x="205.5" y="272.8" width="1.1" height="1.1" fill="#000"/>
<rect x="205.3" y="267.3" width="1.1" height="1.1" fill="#000"/>
<rect x="206.2" y="274.6" width="1.1" height="1.1" fill="#000"/>
<rect x="205.2" y="271.0" width="1.1" height="1.1" fill="#000"/>
<rect x="206.4" y="271.5" width="1.1" height="1.1" fill="#000"/>
<rect x="205.8" y="268.1" width="1.1" height="1.1" fill="#000"/>
<rect x="207.5" y="257.4" width="1.1" height="1.1" fill="#000"/>
<rect x="208.47" y="287.20" width="17.10" height="1.3" fill="#222" opacity="0.85"/>
<polygon points="227.00,262.00 226.84,263.80 226.53,265.57 226.08,267.28 225.48,268.90 224.76,270.40 223.93,271.76 223.01,272.95 222.00,273.95 220.93,274.75 219.82,275.33 218.67,275.68 217.50,275.80 216.33,275.68 215.18,275.33 214.07,274.75 213.00,273.95 211.99,272.95 211.07,271.76 210.24,270.40 209.52,268.90 208.92,267.28 208.47,265.57 208.16,263.80 208.00,262.00 208.01,260.20 208.18,258.43 208.52,256.72 209.03,255.10 209.69,253.60 210.50,252.24 211.44,251.05 212.50,250.05 213.66,249.25 214.90,248.67 216.19,248.32 217.50,248.20 218.81,248.32 220.10,248.67 221.34,249.25 222.50,250.05 223.56,251.05 224.50,252.24 225.31,253.60 225.97,255.10 226.48,256.72 226.82,258.43 226.99,260.20" fill="url(#bg)" stroke="#4a4a4a" stroke-width="0.8"/>
<polygon points="226.22,262.00 226.08,263.62 225.80,265.21 225.39,266.75 224.85,268.21 224.21,269.56 223.46,270.78 222.63,271.85 221.72,272.76 220.76,273.47 219.76,274.00 218.72,274.31 217.67,274.42 216.62,274.31 215.59,274.00 214.58,273.47 213.62,272.76 212.71,271.85 211.88,270.78 211.14,269.56 210.49,268.21 209.95,266.75 209.54,265.21 209.26,263.62 209.12,262.00 209.13,260.38 209.28,258.79 209.59,257.25 210.04,255.79 210.64,254.44 211.37,253.22 212.22,252.15 213.17,251.24 214.22,250.53 215.33,250.00 216.49,249.69 217.67,249.58 218.85,249.69 220.01,250.00 221.12,250.53 222.17,251.24 223.12,252.15 223.97,253.22 224.70,254.44 225.30,255.79 225.75,257.25 226.06,258.79 226.21,260.38" fill="none" stroke="#a0a0a0" stroke-width="0.55"/>
<polygon points="225.44,262.00 225.32,263.44 225.07,264.86 224.70,266.22 224.23,267.52 223.65,268.72 222.99,269.81 222.25,270.76 221.44,271.56 220.59,272.20 219.70,272.66 218.77,272.95 217.84,273.04 216.91,272.95 215.99,272.66 215.09,272.20 214.24,271.56 213.44,270.76 212.70,269.81 212.03,268.72 211.46,267.52 210.98,266.22 210.61,264.86 210.37,263.44 210.24,262.00 210.25,260.56 210.39,259.14 210.66,257.78 211.06,256.48 211.59,255.28 212.24,254.19 213.00,253.24 213.84,252.44 214.77,251.80 215.76,251.34 216.79,251.05 217.84,250.96 218.89,251.05 219.92,251.34 220.91,251.80 221.84,252.44 222.69,253.24 223.44,254.19 224.09,255.28 224.62,256.48 225.02,257.78 225.30,259.14 225.44,260.56" fill="none" stroke="#929292" stroke-width="0.55"/>
<polygon points="224.66,262.00 224.55,263.26 224.34,264.50 224.02,265.70 223.60,266.83 223.10,267.88 222.52,268.83 221.87,269.66 221.17,270.37 220.42,270.92 219.63,271.33 218.83,271.58 218.01,271.66 217.20,271.58 216.39,271.33 215.61,270.92 214.86,270.37 214.16,269.66 213.51,268.83 212.93,267.88 212.43,266.83 212.01,265.70 211.69,264.50 211.47,263.26 211.36,262.00 211.37,260.74 211.49,259.50 211.73,258.30 212.08,257.17 212.54,256.12 213.11,255.17 213.77,254.34 214.52,253.63 215.33,253.08 216.19,252.67 217.09,252.42 218.01,252.34 218.93,252.42 219.83,252.67 220.70,253.08 221.51,253.63 222.25,254.34 222.91,255.17 223.48,256.12 223.94,257.17 224.30,258.30 224.54,259.50 224.66,260.74" fill="none" stroke="#888" stroke-width="0.55"/>
<polygon points="223.88,262.00 223.79,263.08 223.60,264.14 223.33,265.17 222.97,266.14 222.54,267.04 222.04,267.85 221.49,268.57 220.89,269.17 220.24,269.65 219.57,270.00 218.88,270.21 218.18,270.28 217.48,270.21 216.79,270.00 216.12,269.65 215.48,269.17 214.88,268.57 214.32,267.85 213.83,267.04 213.40,266.14 213.04,265.17 212.76,264.14 212.58,263.08 212.48,262.00 212.49,260.92 212.59,259.86 212.80,258.83 213.10,257.86 213.50,256.96 213.98,256.15 214.55,255.43 215.19,254.83 215.88,254.35 216.62,254.00 217.40,253.79 218.18,253.72 218.97,253.79 219.74,254.00 220.49,254.35 221.18,254.83 221.82,255.43 222.39,256.15 222.87,256.96 223.27,257.86 223.57,258.83 223.78,259.86 223.88,260.92" fill="none" stroke="#828282" stroke-width="0.55"/>
<polygon points="223.10,262.00 223.03,262.90 222.87,263.79 222.64,264.64 222.35,265.45 221.99,266.20 221.57,266.88 221.11,267.47 220.61,267.98 220.07,268.37 219.51,268.66 218.94,268.84 218.35,268.90 217.77,268.84 217.20,268.66 216.64,268.37 216.10,267.98 215.60,267.47 215.14,266.88 214.72,266.20 214.36,265.45 214.07,264.64 213.84,263.79 213.68,262.90 213.60,262.00 213.61,261.10 213.70,260.21 213.87,259.36 214.12,258.55 214.45,257.80 214.85,257.12 215.33,256.53 215.86,256.02 216.44,255.63 217.05,255.34 217.70,255.16 218.35,255.10 219.01,255.16 219.66,255.34 220.27,255.63 220.85,256.02 221.38,256.53 221.86,257.12 222.26,257.80 222.59,258.55 222.84,259.36 223.01,260.21 223.10,261.10" fill="none" stroke="#808080" stroke-width="0.55"/>
<polygon points="222.33,262.00 222.26,262.72 222.14,263.43 221.96,264.11 221.72,264.76 221.43,265.36 221.10,265.90 220.73,266.38 220.33,266.78 219.90,267.10 219.45,267.33 218.99,267.47 218.53,267.52 218.06,267.47 217.60,267.33 217.15,267.10 216.72,266.78 216.32,266.38 215.95,265.90 215.62,265.36 215.33,264.76 215.10,264.11 214.91,263.43 214.79,262.72 214.73,262.00 214.73,261.28 214.80,260.57 214.93,259.89 215.14,259.24 215.40,258.64 215.72,258.10 216.10,257.62 216.53,257.22 216.99,256.90 217.49,256.67 218.00,256.53 218.53,256.48 219.05,256.53 219.57,256.67 220.06,256.90 220.52,257.22 220.95,257.62 221.33,258.10 221.65,258.64 221.92,259.24 222.12,259.89 222.25,260.57 222.32,261.28" fill="none" stroke="#848484" stroke-width="0.55"/>
<polygon points="221.55,262.00 221.50,262.54 221.41,263.07 221.27,263.58 221.09,264.07 220.88,264.52 220.63,264.93 220.35,265.28 220.05,265.59 219.73,265.82 219.39,266.00 219.05,266.10 218.70,266.14 218.35,266.10 218.00,266.00 217.67,265.82 217.35,265.59 217.04,265.28 216.77,264.93 216.52,264.52 216.30,264.07 216.12,263.58 215.99,263.07 215.89,262.54 215.85,262.00 215.85,261.46 215.90,260.93 216.00,260.42 216.15,259.93 216.35,259.48 216.60,259.07 216.88,258.72 217.20,258.41 217.55,258.18 217.92,258.00 218.30,257.90 218.70,257.86 219.09,257.90 219.48,258.00 219.85,258.18 220.20,258.41 220.51,258.72 220.80,259.07 221.04,259.48 221.24,259.93 221.39,260.42 221.49,260.93 221.54,261.46" fill="none" stroke="#8e8e8e" stroke-width="0.55"/>
<polygon points="220.77,262.00 220.74,262.36 220.67,262.71 220.58,263.06 220.46,263.38 220.32,263.68 220.15,263.95 219.97,264.19 219.77,264.39 219.55,264.55 219.33,264.67 219.10,264.74 218.87,264.76 218.63,264.74 218.40,264.67 218.18,264.55 217.97,264.39 217.77,264.19 217.58,263.95 217.42,263.68 217.27,263.38 217.15,263.06 217.06,262.71 217.00,262.36 216.97,262.00 216.97,261.64 217.00,261.29 217.07,260.94 217.17,260.62 217.31,260.32 217.47,260.05 217.66,259.81 217.87,259.61 218.10,259.45 218.35,259.33 218.61,259.26 218.87,259.24 219.13,259.26 219.39,259.33 219.64,259.45 219.87,259.61 220.08,259.81 220.27,260.05 220.43,260.32 220.56,260.62 220.66,260.94 220.73,261.29 220.77,261.64" fill="none" stroke="#a0a0a0" stroke-width="0.55"/>
<ellipse cx="218.925" cy="262" rx="0.855" ry="3.036" fill="#d8d8d8"/>
<polygon points="226.53,262.00 226.38,263.66 226.10,265.29 225.67,266.86 225.13,268.35 224.47,269.73 223.70,270.98 222.85,272.07 221.93,273.00 220.94,273.73 219.92,274.26 218.86,274.59 217.78,274.70 216.71,274.59 215.65,274.26 214.63,273.73 213.64,273.00 212.72,272.07 211.87,270.98 211.10,269.73 210.44,268.35 209.90,266.86 209.47,265.29 209.19,263.66 209.04,262.00 209.05,260.34 209.21,258.71 209.52,257.14 209.99,255.65 210.60,254.27 211.34,253.02 212.21,251.93 213.19,251.00 214.25,250.27 215.39,249.74 216.58,249.41 217.78,249.30 218.99,249.41 220.18,249.74 221.32,250.27 222.38,251.00 223.36,251.93 224.23,253.02 224.97,254.27 225.58,255.65 226.05,257.14 226.36,258.71 226.52,260.34" fill="#000" opacity="0.06"/>
<polyline points="218.90,275.63 217.79,275.79 216.68,275.74 215.58,275.48 214.51,275.01 213.47,274.34 212.49,273.47 211.57,272.43 210.72,271.23 209.97,269.89 209.33,268.43 208.80,266.86 208.39,265.22 208.12,263.53 207.99,261.82 208.01,260.11 208.18,258.43 208.50,256.80 208.97,255.26 209.58,253.82 210.32,252.50 211.19,251.33 212.17,250.33 213.25,249.51 214.40,248.88" fill="none" stroke="#1a1a1a" stroke-width="1.3" stroke-dasharray="1.5 0.5"/>
<rect x="206.8" y="211.9" width="21.799999999999983" height="35.69999999999999" fill="none" stroke="#222" stroke-width="1"/>
<rect x="217.9" y="222.1" width="0.9" height="0.9" fill="#111"/>
<rect x="216.4" y="231.6" width="0.9" height="0.9" fill="#111"/>
<rect x="217.6" y="240.4" width="0.9" height="0.9" fill="#111"/>
<rect x="218.9" y="245.4" width="0.9" height="0.9" fill="#111"/>
<text x="221.8" y="196.1" font-size="6" font-weight="bold" font-family="Liberation Serif" text-anchor="middle" fill="#222" stroke="#222" stroke-width="0.2" textLength="15.4" lengthAdjust="spacingAndGlyphs">IFN-G</text>
<text x="220.9" y="202.6" font-size="5.8" font-weight="bold" font-family="Liberation Serif" text-anchor="middle" fill="#333" stroke="#333" stroke-width="0.15">0.26</text>
<rect x="166.7" y="191.2" width="27.80" height="17.80" fill="#fff" stroke="#3a3a3a" stroke-width="1.2"/>
<text x="180.6" y="204.50" font-size="10.4" font-weight="bold" font-family="Liberation Sans" text-anchor="middle" fill="#c8161e" stroke="#c8161e" stroke-width="0.45" textLength="21.80" lengthAdjust="spacingAndGlyphs">0.26</text>
<rect x="280.9" y="189.0" width="99.70000000000005" height="99.80000000000001" fill="none" stroke="#a4a4a4" stroke-width="1.2"/>
<line x1="277.9" y1="189.0" x2="280.9" y2="189.0" stroke="#111" stroke-width="1.1" />
<line x1="277.9" y1="206.6234126984127" x2="280.9" y2="206.6234126984127" stroke="#111" stroke-width="1.1" />
<line x1="277.9" y1="224.44484126984128" x2="280.9" y2="224.44484126984128" stroke="#111" stroke-width="1.1" />
<line x1="277.9" y1="241.77123015873016" x2="280.9" y2="241.77123015873016" stroke="#111" stroke-width="1.1" />
<line x1="277.9" y1="264.6420634920635" x2="280.9" y2="264.6420634920635" stroke="#111" stroke-width="1.1" />
<line x1="277.9" y1="286.91884920634925" x2="280.9" y2="286.91884920634925" stroke="#111" stroke-width="1.1" />
<line x1="279.5" y1="201.31823685022496" x2="280.9" y2="201.31823685022496" stroke="#222" stroke-width="0.6" />
<line x1="279.5" y1="198.21490791930358" x2="280.9" y2="198.21490791930358" stroke="#222" stroke-width="0.6" />
<line x1="279.5" y1="196.01306100203723" x2="280.9" y2="196.01306100203723" stroke="#222" stroke-width="0.6" />
<line x1="279.5" y1="194.30517584818773" x2="280.9" y2="194.30517584818773" stroke="#222" stroke-width="0.6" />
<line x1="279.5" y1="192.90973207111588" x2="280.9" y2="192.90973207111588" stroke="#222" stroke-width="0.6" />
<line x1="279.5" y1="191.72990116862175" x2="280.9" y2="191.72990116862175" stroke="#222" stroke-width="0.6" />
<line x1="279.5" y1="190.70788515384953" x2="280.9" y2="190.70788515384953" stroke="#222" stroke-width="0.6" />
<line x1="279.5" y1="189.8064031401945" x2="280.9" y2="189.8064031401945" stroke="#222" stroke-width="0.6" />
<line x1="279.5" y1="219.08005670425817" x2="280.9" y2="219.08005670425817" stroke="#222" stroke-width="0.6" />
<line x1="279.5" y1="215.94185890894443" x2="280.9" y2="215.94185890894443" stroke="#222" stroke-width="0.6" />
<line x1="279.5" y1="213.7152721386751" x2="280.9" y2="213.7152721386751" stroke="#222" stroke-width="0.6" />
<line x1="279.5" y1="211.9881972639958" x2="280.9" y2="211.9881972639958" stroke="#222" stroke-width="0.6" />
<line x1="279.5" y1="210.57707434336135" x2="280.9" y2="210.57707434336135" stroke="#222" stroke-width="0.6" />
<line x1="279.5" y1="209.38398691387292" x2="280.9" y2="209.38398691387292" stroke="#222" stroke-width="0.6" />
<line x1="279.5" y1="208.35048757309198" x2="280.9" y2="208.35048757309198" stroke="#222" stroke-width="0.6" />
<line x1="279.5" y1="207.43887654804757" x2="280.9" y2="207.43887654804757" stroke="#222" stroke-width="0.6" />
<line x1="279.5" y1="236.55546738663548" x2="280.9" y2="236.55546738663548" stroke="#222" stroke-width="0.6" />
<line x1="279.5" y1="233.50444175230268" x2="280.9" y2="233.50444175230268" stroke="#222" stroke-width="0.6" />
<line x1="279.5" y1="231.3397046145408" x2="280.9" y2="231.3397046145408" stroke="#222" stroke-width="0.6" />
<line x1="279.5" y1="229.66060404193595" x2="280.9" y2="229.66060404193595" stroke="#222" stroke-width="0.6" />
<line x1="279.5" y1="228.288678980208" x2="280.9" y2="228.288678980208" stroke="#222" stroke-width="0.6" />
<line x1="279.5" y1="227.12873286820536" x2="280.9" y2="227.12873286820536" stroke="#222" stroke-width="0.6" />
<line x1="279.5" y1="226.12394184244613" x2="280.9" y2="226.12394184244613" stroke="#222" stroke-width="0.6" />
<line x1="279.5" y1="225.2376533458752" x2="280.9" y2="225.2376533458752" stroke="#222" stroke-width="0.6" />
<line x1="279.29999999999995" y1="261.0399072420635" x2="280.9" y2="261.0399072420635" stroke="#111" stroke-width="0.7" />
<line x1="279.29999999999995" y1="266.98112599206354" x2="280.9" y2="266.98112599206354" stroke="#111" stroke-width="0.7" />
<line x1="279.29999999999995" y1="258.9815322420635" x2="280.9" y2="258.9815322420635" stroke="#111" stroke-width="0.7" />
<line x1="279.29999999999995" y1="268.3177331349207" x2="280.9" y2="268.3177331349207" stroke="#111" stroke-width="0.7" />
<line x1="279.29999999999995" y1="257.4377509920635" x2="280.9" y2="257.4377509920635" stroke="#111" stroke-width="0.7" />
<line x1="279.29999999999995" y1="269.32018849206355" x2="280.9" y2="269.32018849206355" stroke="#111" stroke-width="0.7" />
<line x1="279.29999999999995" y1="256.40856349206354" x2="280.9" y2="256.40856349206354" stroke="#111" stroke-width="0.7" />
<line x1="279.29999999999995" y1="269.9884920634921" x2="280.9" y2="269.9884920634921" stroke="#111" stroke-width="0.7" />
<line x1="279.29999999999995" y1="255.5852134920635" x2="280.9" y2="255.5852134920635" stroke="#111" stroke-width="0.7" />
<line x1="279.29999999999995" y1="270.52313492063496" x2="280.9" y2="270.52313492063496" stroke="#111" stroke-width="0.7" />
<line x1="279.29999999999995" y1="254.96770099206353" x2="280.9" y2="254.96770099206353" stroke="#111" stroke-width="0.7" />
<line x1="279.29999999999995" y1="270.9241170634921" x2="280.9" y2="270.9241170634921" stroke="#111" stroke-width="0.7" />
<line x1="279.7" y1="281.3496527777778" x2="280.9" y2="281.3496527777778" stroke="#333" stroke-width="0.5" />
<line x1="279.7" y1="275.78045634920636" x2="280.9" y2="275.78045634920636" stroke="#333" stroke-width="0.5" />
<line x1="279.7" y1="270.211259920635" x2="280.9" y2="270.211259920635" stroke="#333" stroke-width="0.5" />
<rect x="278.90" y="259.44" width="2" height="9.8" fill="#444"/>
<text x="273.60" y="196.00" font-size="4.6" font-family="Liberation Serif" text-anchor="end" fill="#222" stroke="#222" stroke-width="0.18">10</text>
<text x="274.10" y="193.40" font-size="3.8" font-family="Liberation Serif" fill="#222" stroke="#222" stroke-width="0.15">6</text>
<text x="273.60" y="209.22" font-size="4.6" font-family="Liberation Serif" text-anchor="end" fill="#222" stroke="#222" stroke-width="0.18">10</text>
<text x="274.10" y="206.62" font-size="3.8" font-family="Liberation Serif" fill="#222" stroke="#222" stroke-width="0.15">5</text>
<text x="273.60" y="227.04" font-size="4.6" font-family="Liberation Serif" text-anchor="end" fill="#222" stroke="#222" stroke-width="0.18">10</text>
<text x="274.10" y="224.44" font-size="3.8" font-family="Liberation Serif" fill="#222" stroke="#222" stroke-width="0.15">4</text>
<text x="273.60" y="244.37" font-size="4.6" font-family="Liberation Serif" text-anchor="end" fill="#222" stroke="#222" stroke-width="0.18">10</text>
<text x="274.10" y="241.77" font-size="3.8" font-family="Liberation Serif" fill="#222" stroke="#222" stroke-width="0.15">3</text>
<text x="274.20" y="267.24" font-size="4.6" font-family="Liberation Serif" text-anchor="end" fill="#222" stroke="#222" stroke-width="0.18">0</text>
<text x="273.60" y="289.52" font-size="4.6" font-family="Liberation Serif" text-anchor="end" fill="#222" stroke="#222" stroke-width="0.18">-10</text>
<text x="274.10" y="286.92" font-size="3.8" font-family="Liberation Serif" fill="#222" stroke="#222" stroke-width="0.15">3</text>
<line x1="284.78441558441557" y1="288.8" x2="284.78441558441557" y2="291.6" stroke="#111" stroke-width="0.9" />
<line x1="306.2981018981019" y1="288.8" x2="306.2981018981019" y2="291.6" stroke="#111" stroke-width="0.9" />
<line x1="326.6165834165834" y1="288.8" x2="326.6165834165834" y2="291.6" stroke="#111" stroke-width="0.9" />
<line x1="344.74385614385614" y1="288.8" x2="344.74385614385614" y2="291.6" stroke="#111" stroke-width="0.9" />
<line x1="362.8711288711289" y1="288.8" x2="362.8711288711289" y2="291.6" stroke="#111" stroke-width="0.9" />
<line x1="380.6" y1="288.8" x2="380.6" y2="291.6" stroke="#111" stroke-width="0.9" />
<line x1="332.07343624707414" y1="288.8" x2="332.07343624707414" y2="290.2" stroke="#222" stroke-width="0.6" />
<line x1="335.2654905248653" y1="288.8" x2="335.2654905248653" y2="290.2" stroke="#222" stroke-width="0.6" />
<line x1="337.5302890775648" y1="288.8" x2="337.5302890775648" y2="290.2" stroke="#222" stroke-width="0.6" />
<line x1="339.2870033133654" y1="288.8" x2="339.2870033133654" y2="290.2" stroke="#222" stroke-width="0.6" />
<line x1="340.722343355356" y1="288.8" x2="340.722343355356" y2="290.2" stroke="#222" stroke-width="0.6" />
<line x1="341.9359060692055" y1="288.8" x2="341.9359060692055" y2="290.2" stroke="#222" stroke-width="0.6" />
<line x1="342.98714190805555" y1="288.8" x2="342.98714190805555" y2="290.2" stroke="#222" stroke-width="0.6" />
<line x1="343.9143976331472" y1="288.8" x2="343.9143976331472" y2="290.2" stroke="#222" stroke-width="0.6" />
<line x1="350.20070897434687" y1="288.8" x2="350.20070897434687" y2="290.2" stroke="#222" stroke-width="0.6" />
<line x1="353.392763252138" y1="288.8" x2="353.392763252138" y2="290.2" stroke="#222" stroke-width="0.6" />
<line x1="355.6575618048376" y1="288.8" x2="355.6575618048376" y2="290.2" stroke="#222" stroke-width="0.6" />
<line x1="357.4142760406382" y1="288.8" x2="357.4142760406382" y2="290.2" stroke="#222" stroke-width="0.6" />
<line x1="358.84961608262876" y1="288.8" x2="358.84961608262876" y2="290.2" stroke="#222" stroke-width="0.6" />
<line x1="360.06317879647827" y1="288.8" x2="360.06317879647827" y2="290.2" stroke="#222" stroke-width="0.6" />
<line x1="361.11441463532833" y1="288.8" x2="361.11441463532833" y2="290.2" stroke="#222" stroke-width="0.6" />
<line x1="362.04167036041997" y1="288.8" x2="362.04167036041997" y2="290.2" stroke="#222" stroke-width="0.6" />
<line x1="368.2080508701803" y1="288.8" x2="368.2080508701803" y2="290.2" stroke="#222" stroke-width="0.6" />
<line x1="371.3299501088991" y1="288.8" x2="371.3299501088991" y2="290.2" stroke="#222" stroke-width="0.6" />
<line x1="373.54497286923163" y1="288.8" x2="373.54497286923163" y2="290.2" stroke="#222" stroke-width="0.6" />
<line x1="375.26307800094867" y1="288.8" x2="375.26307800094867" y2="290.2" stroke="#222" stroke-width="0.6" />
<line x1="376.66687210795044" y1="288.8" x2="376.66687210795044" y2="290.2" stroke="#222" stroke-width="0.6" />
<line x1="377.8537631138032" y1="288.8" x2="377.8537631138032" y2="290.2" stroke="#222" stroke-width="0.6" />
<line x1="378.881894868283" y1="288.8" x2="378.881894868283" y2="290.2" stroke="#222" stroke-width="0.6" />
<line x1="379.78877134666925" y1="288.8" x2="379.78877134666925" y2="290.2" stroke="#222" stroke-width="0.6" />
<rect x="301.7981018981019" y="288.8" width="8" height="2.2" fill="#111"/>
<line x1="290.16283716283715" y1="288.8" x2="290.16283716283715" y2="290.1" stroke="#333" stroke-width="0.6" />
<line x1="295.54125874125873" y1="288.8" x2="295.54125874125873" y2="290.1" stroke="#333" stroke-width="0.6" />
<line x1="300.9196803196803" y1="288.8" x2="300.9196803196803" y2="290.1" stroke="#333" stroke-width="0.6" />
<line x1="312.3936463536463" y1="288.8" x2="312.3936463536463" y2="290.1" stroke="#333" stroke-width="0.6" />
<line x1="317.4732667332667" y1="288.8" x2="317.4732667332667" y2="290.1" stroke="#333" stroke-width="0.6" />
<line x1="321.536963036963" y1="288.8" x2="321.536963036963" y2="290.1" stroke="#333" stroke-width="0.6" />
<text x="286.78441558441557" y="298.40000000000003" font-size="4.6" font-family="Liberation Serif" text-anchor="middle" fill="#222" stroke="#222" stroke-width="0.18">-10<tspan dx="0.5" dy="-2.6" font-size="3.8">3</tspan></text>
<text x="306.2981018981019" y="298.40000000000003" font-size="4.6" font-family="Liberation Serif" text-anchor="middle" fill="#222" stroke="#222" stroke-width="0.18">0</text>
<text x="326.0165834165834" y="298.40000000000003" font-size="4.6" font-family="Liberation Serif" text-anchor="start" fill="#222" stroke="#222" stroke-width="0.18">10<tspan dx="0.5" dy="-2.6" font-size="3.8">3</tspan></text>
<text x="344.4438561438561" y="298.40000000000003" font-size="4.6" font-family="Liberation Serif" text-anchor="start" fill="#222" stroke="#222" stroke-width="0.18">10<tspan dx="0.5" dy="-2.6" font-size="3.8">4</tspan></text>
<text x="362.8711288711289" y="298.40000000000003" font-size="4.6" font-family="Liberation Serif" text-anchor="start" fill="#222" stroke="#222" stroke-width="0.18">10<tspan dx="0.5" dy="-2.6" font-size="3.8">5</tspan></text>
<text x="381.0" y="298.40000000000003" font-size="4.6" font-family="Liberation Serif" text-anchor="end" fill="#222" stroke="#222" stroke-width="0.18">10<tspan dx="0.5" dy="-2.6" font-size="3.8">6</tspan></text>
<rect x="324.7" y="258.5" width="0.9" height="0.9" fill="#111"/>
<rect x="331.4" y="249.1" width="0.9" height="0.9" fill="#111"/>
<rect x="336.7" y="275.1" width="0.9" height="0.9" fill="#111"/>
<rect x="331.9" y="248.5" width="0.9" height="0.9" fill="#111"/>
<rect x="332.7" y="275.1" width="0.9" height="0.9" fill="#111"/>
<rect x="336.4" y="276.4" width="0.9" height="0.9" fill="#111"/>
<rect x="323.9" y="257.6" width="0.9" height="0.9" fill="#111"/>
<rect x="326.5" y="253.8" width="0.9" height="0.9" fill="#111"/>
<rect x="324.0" y="259.8" width="0.9" height="0.9" fill="#111"/>
<rect x="327.8" y="250.0" width="0.9" height="0.9" fill="#111"/>
<rect x="330.8" y="249.6" width="0.9" height="0.9" fill="#111"/>
<rect x="329.5" y="248.5" width="0.9" height="0.9" fill="#111"/>
<rect x="332.5" y="248.8" width="0.9" height="0.9" fill="#111"/>
<rect x="330.5" y="274.4" width="0.9" height="0.9" fill="#111"/>
<rect x="336.7" y="276.6" width="0.9" height="0.9" fill="#111"/>
<rect x="327.8" y="250.5" width="0.9" height="0.9" fill="#111"/>
<rect x="328.2" y="250.1" width="0.9" height="0.9" fill="#111"/>
<rect x="328.1" y="272.5" width="0.9" height="0.9" fill="#111"/>
<rect x="334.2" y="276.7" width="0.9" height="0.9" fill="#111"/>
<rect x="330.4" y="274.8" width="0.9" height="0.9" fill="#111"/>
<rect x="325.3" y="267.4" width="0.9" height="0.9" fill="#111"/>
<rect x="328.8" y="273.6" width="0.9" height="0.9" fill="#111"/>
<rect x="325.7" y="254.3" width="0.9" height="0.9" fill="#111"/>
<rect x="326.3" y="272.6" width="0.9" height="0.9" fill="#111"/>
<rect x="323.3" y="264.1" width="0.9" height="0.9" fill="#111"/>
<rect x="324.7" y="258.7" width="0.9" height="0.9" fill="#111"/>
<rect x="324.9" y="268.2" width="0.9" height="0.9" fill="#111"/>
<rect x="327.0" y="252.1" width="0.9" height="0.9" fill="#111"/>
<rect x="325.2" y="254.5" width="0.9" height="0.9" fill="#111"/>
<rect x="329.7" y="275.5" width="0.9" height="0.9" fill="#111"/>
<rect x="334.5" y="276.8" width="0.9" height="0.9" fill="#111"/>
<rect x="331.8" y="274.8" width="0.9" height="0.9" fill="#111"/>
<rect x="330.3" y="275.6" width="0.9" height="0.9" fill="#111"/>
<rect x="333.7" y="248.8" width="0.9" height="0.9" fill="#111"/>
<rect x="323.9" y="264.7" width="0.9" height="0.9" fill="#111"/>
<rect x="327.8" y="251.6" width="0.9" height="0.9" fill="#111"/>
<rect x="324.1" y="264.4" width="0.9" height="0.9" fill="#111"/>
<rect x="328.8" y="250.5" width="0.9" height="0.9" fill="#111"/>
<rect x="332.5" y="248.5" width="0.9" height="0.9" fill="#111"/>
<rect x="329.9" y="275.3" width="0.9" height="0.9" fill="#111"/>
<rect x="324.4" y="264.2" width="0.9" height="0.9" fill="#111"/>
<rect x="324.8" y="257.9" width="0.9" height="0.9" fill="#111"/>
<rect x="327.1" y="251.2" width="0.9" height="0.9" fill="#111"/>
<rect x="327.1" y="251.3" width="0.9" height="0.9" fill="#111"/>
<rect x="326.0" y="270.6" width="0.9" height="0.9" fill="#111"/>
<rect x="324.6" y="269.5" width="0.9" height="0.9" fill="#111"/>
<rect x="334.7" y="277.0" width="0.9" height="0.9" fill="#111"/>
<rect x="336.8" y="275.3" width="0.9" height="0.9" fill="#111"/>
<rect x="328.1" y="274.4" width="0.9" height="0.9" fill="#111"/>
<rect x="324.0" y="264.1" width="0.9" height="0.9" fill="#111"/>
<rect x="330.4" y="249.4" width="0.9" height="0.9" fill="#111"/>
<rect x="324.1" y="266.1" width="0.9" height="0.9" fill="#111"/>
<rect x="326.1" y="252.3" width="0.9" height="0.9" fill="#111"/>
<rect x="324.5" y="257.2" width="0.9" height="0.9" fill="#111"/>
<rect x="336.3" y="276.6" width="0.8" height="0.8" fill="#222"/>
<rect x="337.4" y="280.7" width="0.8" height="0.8" fill="#222"/>
<rect x="339.0" y="281.9" width="0.8" height="0.8" fill="#222"/>
<rect x="335.6" y="282.4" width="0.8" height="0.8" fill="#222"/>
<rect x="336.9" y="279.6" width="0.8" height="0.8" fill="#222"/>
<rect x="336.4" y="284.2" width="0.8" height="0.8" fill="#222"/>
<rect x="336.5" y="275.8" width="0.8" height="0.8" fill="#222"/>
<rect x="334.9" y="281.3" width="0.8" height="0.8" fill="#222"/>
<rect x="336.5" y="283.5" width="0.8" height="0.8" fill="#222"/>
<rect x="335.0" y="275.9" width="0.8" height="0.8" fill="#222"/>
<rect x="335.5" y="276.6" width="0.8" height="0.8" fill="#222"/>
<rect x="332.1" y="276.6" width="0.8" height="0.8" fill="#222"/>
<rect x="333.7" y="275.4" width="0.8" height="0.8" fill="#222"/>
<rect x="339.0" y="274.8" width="0.8" height="0.8" fill="#222"/>
<rect x="333.2" y="285.5" width="0.8" height="0.8" fill="#222"/>
<rect x="336.5" y="285.8" width="0.8" height="0.8" fill="#222"/>
<rect x="335.8" y="282.7" width="0.8" height="0.8" fill="#222"/>
<rect x="333.6" y="275.4" width="0.8" height="0.8" fill="#222"/>
<rect x="330.6" y="280.4" width="0.8" height="0.8" fill="#222"/>
<rect x="335.7" y="277.3" width="0.8" height="0.8" fill="#222"/>
<rect x="335.3" y="274.5" width="0.8" height="0.8" fill="#222"/>
<rect x="329.5" y="281.2" width="0.8" height="0.8" fill="#222"/>
<rect x="337.3" y="278.6" width="0.8" height="0.8" fill="#222"/>
<rect x="331.6" y="275.0" width="0.8" height="0.8" fill="#222"/>
<rect x="331.4" y="279.9" width="0.8" height="0.8" fill="#222"/>
<rect x="329.7" y="284.5" width="0.8" height="0.8" fill="#222"/>
<rect x="336.9" y="277.7" width="0.8" height="0.8" fill="#222"/>
<rect x="329.3" y="277.6" width="0.8" height="0.8" fill="#222"/>
<rect x="320.7" y="255.4" width="1.1" height="1.1" fill="#000"/>
<rect x="320.5" y="272.0" width="1.1" height="1.1" fill="#000"/>
<rect x="320.0" y="267.5" width="1.1" height="1.1" fill="#000"/>
<rect x="321.2" y="266.9" width="1.1" height="1.1" fill="#000"/>
<rect x="322.9" y="261.2" width="1.1" height="1.1" fill="#000"/>
<rect x="324.0" y="265.6" width="1.1" height="1.1" fill="#000"/>
<rect x="320.4" y="260.3" width="1.1" height="1.1" fill="#000"/>
<rect x="321.2" y="267.8" width="1.1" height="1.1" fill="#000"/>
<rect x="324.52" y="287.80" width="18.90" height="1.3" fill="#222" opacity="0.85"/>
<polygon points="345.00,262.00 344.83,263.80 344.48,265.57 343.98,267.28 343.32,268.90 342.53,270.40 341.61,271.76 340.59,272.95 339.48,273.95 338.30,274.75 337.06,275.33 335.79,275.68 334.50,275.80 333.21,275.68 331.94,275.33 330.70,274.75 329.52,273.95 328.41,272.95 327.39,271.76 326.47,270.40 325.68,268.90 325.02,267.28 324.52,265.57 324.17,263.80 324.00,262.00 324.01,260.20 324.20,258.43 324.58,256.72 325.13,255.10 325.87,253.60 326.76,252.24 327.80,251.05 328.98,250.05 330.26,249.25 331.62,248.67 333.05,248.32 334.50,248.20 335.95,248.32 337.38,248.67 338.74,249.25 340.02,250.05 341.20,251.05 342.24,252.24 343.13,253.60 343.87,255.10 344.42,256.72 344.80,258.43 344.99,260.20" fill="url(#bg)" stroke="#4a4a4a" stroke-width="0.8"/>
<polygon points="344.14,262.00 343.98,263.62 343.68,265.21 343.22,266.75 342.63,268.21 341.91,269.56 341.09,270.78 340.17,271.85 339.17,272.76 338.10,273.47 336.99,274.00 335.85,274.31 334.69,274.42 333.53,274.31 332.38,274.00 331.27,273.47 330.21,272.76 329.21,271.85 328.29,270.78 327.47,269.56 326.75,268.21 326.16,266.75 325.70,265.21 325.39,263.62 325.24,262.00 325.25,260.38 325.42,258.79 325.76,257.25 326.26,255.79 326.92,254.44 327.72,253.22 328.66,252.15 329.72,251.24 330.87,250.53 332.10,250.00 333.38,249.69 334.69,249.58 336.00,249.69 337.28,250.00 338.51,250.53 339.66,251.24 340.72,252.15 341.65,253.22 342.46,254.44 343.12,255.79 343.62,257.25 343.96,258.79 344.13,260.38" fill="none" stroke="#a0a0a0" stroke-width="0.55"/>
<polygon points="343.28,262.00 343.14,263.44 342.87,264.86 342.46,266.22 341.93,267.52 341.30,268.72 340.57,269.81 339.75,270.76 338.86,271.56 337.91,272.20 336.93,272.66 335.91,272.95 334.88,273.04 333.85,272.95 332.83,272.66 331.84,272.20 330.90,271.56 330.01,270.76 329.19,269.81 328.46,268.72 327.82,267.52 327.30,266.22 326.89,264.86 326.62,263.44 326.48,262.00 326.48,260.56 326.64,259.14 326.94,257.78 327.39,256.48 327.97,255.28 328.69,254.19 329.52,253.24 330.46,252.44 331.49,251.80 332.58,251.34 333.72,251.05 334.88,250.96 336.04,251.05 337.18,251.34 338.27,251.80 339.30,252.44 340.24,253.24 341.07,254.19 341.79,255.28 342.37,256.48 342.82,257.78 343.12,259.14 343.27,260.56" fill="none" stroke="#929292" stroke-width="0.55"/>
<polygon points="342.42,262.00 342.30,263.26 342.06,264.50 341.70,265.70 341.24,266.83 340.69,267.88 340.04,268.83 339.33,269.66 338.55,270.37 337.72,270.92 336.86,271.33 335.97,271.58 335.07,271.66 334.16,271.58 333.27,271.33 332.41,270.92 331.58,270.37 330.81,269.66 330.09,268.83 329.45,267.88 328.89,266.83 328.43,265.70 328.08,264.50 327.84,263.26 327.72,262.00 327.72,260.74 327.86,259.50 328.12,258.30 328.51,257.17 329.02,256.12 329.65,255.17 330.38,254.34 331.20,253.63 332.10,253.08 333.05,252.67 334.05,252.42 335.07,252.34 336.08,252.42 337.08,252.67 338.04,253.08 338.93,253.63 339.75,254.34 340.48,255.17 341.11,256.12 341.62,257.17 342.01,258.30 342.28,259.50 342.41,260.74" fill="none" stroke="#888" stroke-width="0.55"/>
<polygon points="341.56,262.00 341.45,263.08 341.25,264.14 340.94,265.17 340.55,266.14 340.07,267.04 339.52,267.85 338.91,268.57 338.24,269.17 337.53,269.65 336.79,270.00 336.03,270.21 335.26,270.28 334.48,270.21 333.72,270.00 332.98,269.65 332.27,269.17 331.60,268.57 330.99,267.85 330.44,267.04 329.96,266.14 329.57,265.17 329.27,264.14 329.06,263.08 328.96,262.00 328.96,260.92 329.08,259.86 329.30,258.83 329.64,257.86 330.08,256.96 330.61,256.15 331.24,255.43 331.94,254.83 332.71,254.35 333.53,254.00 334.38,253.79 335.26,253.72 336.13,253.79 336.98,254.00 337.80,254.35 338.57,254.83 339.27,255.43 339.90,256.15 340.44,256.96 340.88,257.86 341.21,258.83 341.44,259.86 341.55,260.92" fill="none" stroke="#828282" stroke-width="0.55"/>
<polygon points="340.69,262.00 340.61,262.90 340.44,263.79 340.18,264.64 339.86,265.45 339.46,266.20 339.00,266.88 338.49,267.47 337.93,267.98 337.34,268.37 336.73,268.66 336.09,268.84 335.44,268.90 334.80,268.84 334.16,268.66 333.55,268.37 332.96,267.98 332.40,267.47 331.89,266.88 331.43,266.20 331.03,265.45 330.71,264.64 330.45,263.79 330.28,262.90 330.19,262.00 330.20,261.10 330.30,260.21 330.48,259.36 330.76,258.55 331.13,257.80 331.58,257.12 332.10,256.53 332.68,256.02 333.32,255.63 334.01,255.34 334.72,255.16 335.44,255.10 336.17,255.16 336.88,255.34 337.57,255.63 338.21,256.02 338.79,256.53 339.31,257.12 339.76,257.80 340.13,258.55 340.41,259.36 340.59,260.21 340.69,261.10" fill="none" stroke="#808080" stroke-width="0.55"/>
<polygon points="339.83,262.00 339.77,262.72 339.63,263.43 339.43,264.11 339.16,264.76 338.84,265.36 338.48,265.90 338.07,266.38 337.62,266.78 337.15,267.10 336.66,267.33 336.15,267.47 335.63,267.52 335.12,267.47 334.61,267.33 334.12,267.10 333.64,266.78 333.20,266.38 332.79,265.90 332.42,265.36 332.11,264.76 331.84,264.11 331.64,263.43 331.50,262.72 331.43,262.00 331.44,261.28 331.51,260.57 331.66,259.89 331.89,259.24 332.18,258.64 332.54,258.10 332.96,257.62 333.42,257.22 333.94,256.90 334.48,256.67 335.05,256.53 335.63,256.48 336.21,256.53 336.78,256.67 337.33,256.90 337.84,257.22 338.31,257.62 338.73,258.10 339.09,258.64 339.38,259.24 339.60,259.89 339.75,260.57 339.83,261.28" fill="none" stroke="#848484" stroke-width="0.55"/>
<polygon points="338.97,262.00 338.92,262.54 338.82,263.07 338.67,263.58 338.47,264.07 338.23,264.52 337.96,264.93 337.65,265.28 337.32,265.59 336.96,265.82 336.59,266.00 336.21,266.10 335.82,266.14 335.44,266.10 335.05,266.00 334.68,265.82 334.33,265.59 334.00,265.28 333.69,264.93 333.42,264.52 333.18,264.07 332.98,263.58 332.83,263.07 332.72,262.54 332.67,262.00 332.68,261.46 332.73,260.93 332.85,260.42 333.01,259.93 333.23,259.48 333.50,259.07 333.81,258.72 334.17,258.41 334.55,258.18 334.96,258.00 335.39,257.90 335.82,257.86 336.26,257.90 336.69,258.00 337.10,258.18 337.48,258.41 337.83,258.72 338.14,259.07 338.41,259.48 338.63,259.93 338.80,260.42 338.91,260.93 338.97,261.46" fill="none" stroke="#8e8e8e" stroke-width="0.55"/>
<polygon points="338.11,262.00 338.08,262.36 338.01,262.71 337.91,263.06 337.78,263.38 337.62,263.68 337.43,263.95 337.23,264.19 337.01,264.39 336.77,264.55 336.52,264.67 336.27,264.74 336.01,264.76 335.75,264.74 335.50,264.67 335.25,264.55 335.02,264.39 334.79,264.19 334.59,263.95 334.41,263.68 334.25,263.38 334.12,263.06 334.02,262.71 333.95,262.36 333.91,262.00 333.91,261.64 333.95,261.29 334.03,260.94 334.14,260.62 334.29,260.32 334.46,260.05 334.67,259.81 334.91,259.61 335.16,259.45 335.44,259.33 335.72,259.26 336.01,259.24 336.30,259.26 336.59,259.33 336.86,259.45 337.12,259.61 337.35,259.81 337.56,260.05 337.74,260.32 337.89,260.62 338.00,260.94 338.07,261.29 338.11,261.64" fill="none" stroke="#a0a0a0" stroke-width="0.55"/>
<ellipse cx="336.075" cy="262" rx="0.945" ry="3.036" fill="#d8d8d8"/>
<polygon points="344.48,262.00 344.32,263.66 344.00,265.29 343.53,266.86 342.93,268.35 342.20,269.73 341.36,270.98 340.42,272.07 339.39,273.00 338.31,273.73 337.17,274.26 336.00,274.59 334.81,274.70 333.63,274.59 332.46,274.26 331.32,273.73 330.24,273.00 329.21,272.07 328.27,270.98 327.43,269.73 326.70,268.35 326.10,266.86 325.63,265.29 325.31,263.66 325.15,262.00 325.16,260.34 325.34,258.71 325.69,257.14 326.20,255.65 326.87,254.27 327.69,253.02 328.65,251.93 329.73,251.00 330.91,250.27 332.17,249.74 333.48,249.41 334.81,249.30 336.15,249.41 337.46,249.74 338.72,250.27 339.90,251.00 340.98,251.93 341.94,253.02 342.76,254.27 343.43,255.65 343.94,257.14 344.29,258.71 344.47,260.34" fill="#000" opacity="0.04"/>
<polyline points="336.05,275.63 334.82,275.79 333.60,275.74 332.38,275.48 331.19,275.01 330.05,274.34 328.96,273.47 327.94,272.43 327.01,271.23 326.18,269.89 325.47,268.43 324.88,266.86 324.43,265.22 324.13,263.53 323.99,261.82 324.01,260.11 324.20,258.43 324.55,256.80 325.07,255.26 325.75,253.82 326.57,252.50 327.53,251.33 328.61,250.33 329.80,249.51 331.07,248.88" fill="none" stroke="#1a1a1a" stroke-width="1.3" stroke-dasharray="1.5 0.5"/>
<rect x="323.9" y="210.3" width="22.700000000000045" height="37.0" fill="none" stroke="#222" stroke-width="1"/>
<rect x="337.9" y="213.8" width="0.9" height="0.9" fill="#111"/>
<rect x="329.8" y="218.8" width="0.9" height="0.9" fill="#111"/>
<rect x="327.1" y="223.1" width="0.9" height="0.9" fill="#111"/>
<rect x="328.4" y="223.1" width="0.9" height="0.9" fill="#111"/>
<rect x="329.4" y="223.1" width="0.9" height="0.9" fill="#111"/>
<rect x="326.1" y="224.7" width="0.9" height="0.9" fill="#111"/>
<rect x="327.1" y="227.7" width="0.9" height="0.9" fill="#111"/>
<rect x="328.1" y="227.7" width="0.9" height="0.9" fill="#111"/>
<rect x="337.2" y="227.2" width="0.9" height="0.9" fill="#111"/>
<rect x="333.9" y="229.9" width="0.9" height="0.9" fill="#111"/>
<rect x="334.6" y="230.8" width="0.9" height="0.9" fill="#111"/>
<rect x="333.2" y="230.8" width="0.9" height="0.9" fill="#111"/>
<rect x="332.6" y="231.8" width="0.9" height="0.9" fill="#111"/>
<rect x="336.6" y="234.2" width="0.9" height="0.9" fill="#111"/>
<rect x="337.2" y="234.0" width="0.9" height="0.9" fill="#111"/>
<rect x="332.6" y="234.9" width="0.9" height="0.9" fill="#111"/>
<rect x="331.6" y="235.9" width="0.9" height="0.9" fill="#111"/>
<rect x="325.1" y="234.9" width="0.9" height="0.9" fill="#111"/>
<rect x="335.9" y="236.7" width="0.9" height="0.9" fill="#111"/>
<rect x="335.2" y="237.6" width="0.9" height="0.9" fill="#111"/>
<rect x="337.1" y="237.2" width="0.9" height="0.9" fill="#111"/>
<rect x="332.2" y="239.0" width="0.9" height="0.9" fill="#111"/>
<rect x="333.2" y="239.4" width="0.9" height="0.9" fill="#111"/>
<rect x="335.9" y="239.7" width="0.9" height="0.9" fill="#111"/>
<rect x="336.6" y="240.6" width="0.9" height="0.9" fill="#111"/>
<rect x="329.8" y="241.8" width="0.9" height="0.9" fill="#111"/>
<rect x="329.1" y="242.2" width="0.9" height="0.9" fill="#111"/>
<rect x="333.9" y="242.7" width="0.9" height="0.9" fill="#111"/>
<rect x="334.6" y="243.5" width="0.9" height="0.9" fill="#111"/>
<rect x="337.1" y="244.9" width="0.9" height="0.9" fill="#111"/>
<rect x="335.9" y="244.5" width="0.9" height="0.9" fill="#111"/>
<rect x="323.7" y="239.0" width="0.9" height="0.9" fill="#111"/>
<text x="333.2" y="198.0" font-size="6" font-weight="bold" font-family="Liberation Serif" text-anchor="middle" fill="#222" stroke="#222" stroke-width="0.2" textLength="15.4" lengthAdjust="spacingAndGlyphs">IFN-G</text>
<text x="332.5" y="204.3" font-size="5.8" font-weight="bold" font-family="Liberation Serif" text-anchor="middle" fill="#333" stroke="#333" stroke-width="0.15">1.19</text>
<rect x="282.90000000000003" y="192.0" width="28.00" height="17.80" fill="#fff" stroke="#3a3a3a" stroke-width="1.2"/>
<text x="297" y="205.30" font-size="10.4" font-weight="bold" font-family="Liberation Sans" text-anchor="middle" fill="#c8161e" stroke="#c8161e" stroke-width="0.45" textLength="21.80" lengthAdjust="spacingAndGlyphs">1.19</text>
<rect x="398.3" y="188.6" width="99.5" height="99.6" fill="none" stroke="#a4a4a4" stroke-width="1.2"/>
<line x1="395.3" y1="188.6" x2="398.3" y2="188.6" stroke="#111" stroke-width="1.1" />
<line x1="395.3" y1="206.18809523809523" x2="398.3" y2="206.18809523809523" stroke="#111" stroke-width="1.1" />
<line x1="395.3" y1="223.9738095238095" x2="398.3" y2="223.9738095238095" stroke="#111" stroke-width="1.1" />
<line x1="395.3" y1="241.2654761904762" x2="398.3" y2="241.2654761904762" stroke="#111" stroke-width="1.1" />
<line x1="395.3" y1="264.0904761904762" x2="398.3" y2="264.0904761904762" stroke="#111" stroke-width="1.1" />
<line x1="395.3" y1="286.322619047619" x2="398.3" y2="286.322619047619" stroke="#111" stroke-width="1.1" />
<line x1="396.90000000000003" y1="200.89355100483374" x2="398.3" y2="200.89355100483374" stroke="#222" stroke-width="0.6" />
<line x1="396.90000000000003" y1="197.7964411699663" x2="398.3" y2="197.7964411699663" stroke="#222" stroke-width="0.6" />
<line x1="396.90000000000003" y1="195.59900677157225" x2="398.3" y2="195.59900677157225" stroke="#222" stroke-width="0.6" />
<line x1="396.90000000000003" y1="193.89454423326148" x2="398.3" y2="193.89454423326148" stroke="#222" stroke-width="0.6" />
<line x1="396.90000000000003" y1="192.5018969367048" x2="398.3" y2="192.5018969367048" stroke="#222" stroke-width="0.6" />
<line x1="396.90000000000003" y1="191.32443042479687" x2="398.3" y2="191.32443042479687" stroke="#222" stroke-width="0.6" />
<line x1="396.90000000000003" y1="190.30446253831073" x2="398.3" y2="190.30446253831073" stroke="#222" stroke-width="0.6" />
<line x1="396.90000000000003" y1="189.4047871018374" x2="398.3" y2="189.4047871018374" stroke="#222" stroke-width="0.6" />
<line x1="396.90000000000003" y1="218.61977602950012" x2="398.3" y2="218.61977602950012" stroke="#222" stroke-width="0.6" />
<line x1="396.90000000000003" y1="215.4878672077241" x2="398.3" y2="215.4878672077241" stroke="#222" stroke-width="0.6" />
<line x1="396.90000000000003" y1="213.26574253519075" x2="398.3" y2="213.26574253519075" stroke="#222" stroke-width="0.6" />
<line x1="396.90000000000003" y1="211.5421287324046" x2="398.3" y2="211.5421287324046" stroke="#222" stroke-width="0.6" />
<line x1="396.90000000000003" y1="210.1338337134147" x2="398.3" y2="210.1338337134147" stroke="#222" stroke-width="0.6" />
<line x1="396.90000000000003" y1="208.9431372406988" x2="398.3" y2="208.9431372406988" stroke="#222" stroke-width="0.6" />
<line x1="396.90000000000003" y1="207.91170904088136" x2="398.3" y2="207.91170904088136" stroke="#222" stroke-width="0.6" />
<line x1="396.90000000000003" y1="207.00192489163868" x2="398.3" y2="207.00192489163868" stroke="#222" stroke-width="0.6" />
<line x1="396.90000000000003" y1="236.0601658487865" x2="398.3" y2="236.0601658487865" stroke="#222" stroke-width="0.6" />
<line x1="396.90000000000003" y1="233.01525449428203" x2="398.3" y2="233.01525449428203" stroke="#222" stroke-width="0.6" />
<line x1="396.90000000000003" y1="230.85485550709683" x2="398.3" y2="230.85485550709683" stroke="#222" stroke-width="0.6" />
<line x1="396.90000000000003" y1="229.1791198654992" x2="398.3" y2="229.1791198654992" stroke="#222" stroke-width="0.6" />
<line x1="396.90000000000003" y1="227.80994415259235" x2="398.3" y2="227.80994415259235" stroke="#222" stroke-width="0.6" />
<line x1="396.90000000000003" y1="226.65232258189633" x2="398.3" y2="226.65232258189633" stroke="#222" stroke-width="0.6" />
<line x1="396.90000000000003" y1="225.64954516540715" x2="398.3" y2="225.64954516540715" stroke="#222" stroke-width="0.6" />
<line x1="396.90000000000003" y1="224.76503279808784" x2="398.3" y2="224.76503279808784" stroke="#222" stroke-width="0.6" />
<line x1="396.7" y1="260.49553869047617" x2="398.3" y2="260.49553869047617" stroke="#111" stroke-width="0.7" />
<line x1="396.7" y1="266.4248511904762" x2="398.3" y2="266.4248511904762" stroke="#111" stroke-width="0.7" />
<line x1="396.7" y1="258.4412886904762" x2="398.3" y2="258.4412886904762" stroke="#111" stroke-width="0.7" />
<line x1="396.7" y1="267.75877976190475" x2="398.3" y2="267.75877976190475" stroke="#111" stroke-width="0.7" />
<line x1="396.7" y1="256.9006011904762" x2="398.3" y2="256.9006011904762" stroke="#111" stroke-width="0.7" />
<line x1="396.7" y1="268.75922619047617" x2="398.3" y2="268.75922619047617" stroke="#111" stroke-width="0.7" />
<line x1="396.7" y1="255.8734761904762" x2="398.3" y2="255.8734761904762" stroke="#111" stroke-width="0.7" />
<line x1="396.7" y1="269.42619047619047" x2="398.3" y2="269.42619047619047" stroke="#111" stroke-width="0.7" />
<line x1="396.7" y1="255.05177619047618" x2="398.3" y2="255.05177619047618" stroke="#111" stroke-width="0.7" />
<line x1="396.7" y1="269.9597619047619" x2="398.3" y2="269.9597619047619" stroke="#111" stroke-width="0.7" />
<line x1="396.7" y1="254.43550119047617" x2="398.3" y2="254.43550119047617" stroke="#111" stroke-width="0.7" />
<line x1="396.7" y1="270.35994047619045" x2="398.3" y2="270.35994047619045" stroke="#111" stroke-width="0.7" />
<line x1="397.1" y1="280.7645833333333" x2="398.3" y2="280.7645833333333" stroke="#333" stroke-width="0.5" />
<line x1="397.1" y1="275.20654761904757" x2="398.3" y2="275.20654761904757" stroke="#333" stroke-width="0.5" />
<line x1="397.1" y1="269.6485119047619" x2="398.3" y2="269.6485119047619" stroke="#333" stroke-width="0.5" />
<rect x="396.30" y="258.89" width="2" height="9.8" fill="#444"/>
<text x="391.00" y="195.60" font-size="4.6" font-family="Liberation Serif" text-anchor="end" fill="#222" stroke="#222" stroke-width="0.18">10</text>
<text x="391.50" y="193.00" font-size="3.8" font-family="Liberation Serif" fill="#222" stroke="#222" stroke-width="0.15">6</text>
<text x="391.00" y="208.79" font-size="4.6" font-family="Liberation Serif" text-anchor="end" fill="#222" stroke="#222" stroke-width="0.18">10</text>
<text x="391.50" y="206.19" font-size="3.8" font-family="Liberation Serif" fill="#222" stroke="#222" stroke-width="0.15">5</text>
<text x="391.00" y="226.57" font-size="4.6" font-family="Liberation Serif" text-anchor="end" fill="#222" stroke="#222" stroke-width="0.18">10</text>
<text x="391.50" y="223.97" font-size="3.8" font-family="Liberation Serif" fill="#222" stroke="#222" stroke-width="0.15">4</text>
<text x="391.00" y="243.87" font-size="4.6" font-family="Liberation Serif" text-anchor="end" fill="#222" stroke="#222" stroke-width="0.18">10</text>
<text x="391.50" y="241.27" font-size="3.8" font-family="Liberation Serif" fill="#222" stroke="#222" stroke-width="0.15">3</text>
<text x="391.60" y="266.69" font-size="4.6" font-family="Liberation Serif" text-anchor="end" fill="#222" stroke="#222" stroke-width="0.18">0</text>
<text x="391.00" y="288.92" font-size="4.6" font-family="Liberation Serif" text-anchor="end" fill="#222" stroke="#222" stroke-width="0.18">-10</text>
<text x="391.50" y="286.32" font-size="3.8" font-family="Liberation Serif" fill="#222" stroke="#222" stroke-width="0.15">3</text>
<line x1="402.1766233766234" y1="288.2" x2="402.1766233766234" y2="291.0" stroke="#111" stroke-width="0.9" />
<line x1="423.6471528471529" y1="288.2" x2="423.6471528471529" y2="291.0" stroke="#111" stroke-width="0.9" />
<line x1="443.92487512487514" y1="288.2" x2="443.92487512487514" y2="291.0" stroke="#111" stroke-width="0.9" />
<line x1="462.0157842157842" y1="288.2" x2="462.0157842157842" y2="291.0" stroke="#111" stroke-width="0.9" />
<line x1="480.10669330669333" y1="288.2" x2="480.10669330669333" y2="291.0" stroke="#111" stroke-width="0.9" />
<line x1="497.8" y1="288.2" x2="497.8" y2="291.0" stroke="#111" stroke-width="0.9" />
<line x1="449.37078141006896" y1="288.2" x2="449.37078141006896" y2="289.59999999999997" stroke="#222" stroke-width="0.6" />
<line x1="452.556432369349" y1="288.2" x2="452.556432369349" y2="289.59999999999997" stroke="#222" stroke-width="0.6" />
<line x1="454.81668769526283" y1="288.2" x2="454.81668769526283" y2="289.59999999999997" stroke="#222" stroke-width="0.6" />
<line x1="456.5698779305904" y1="288.2" x2="456.5698779305904" y2="289.59999999999997" stroke="#222" stroke-width="0.6" />
<line x1="458.0023386545429" y1="288.2" x2="458.0023386545429" y2="289.59999999999997" stroke="#222" stroke-width="0.6" />
<line x1="459.2134669396785" y1="288.2" x2="459.2134669396785" y2="289.59999999999997" stroke="#222" stroke-width="0.6" />
<line x1="460.26259398045664" y1="288.2" x2="460.26259398045664" y2="289.59999999999997" stroke="#222" stroke-width="0.6" />
<line x1="461.1879896138229" y1="288.2" x2="461.1879896138229" y2="289.59999999999997" stroke="#222" stroke-width="0.6" />
<line x1="467.4616905009781" y1="288.2" x2="467.4616905009781" y2="289.59999999999997" stroke="#222" stroke-width="0.6" />
<line x1="470.64734146025813" y1="288.2" x2="470.64734146025813" y2="289.59999999999997" stroke="#222" stroke-width="0.6" />
<line x1="472.9075967861719" y1="288.2" x2="472.9075967861719" y2="289.59999999999997" stroke="#222" stroke-width="0.6" />
<line x1="474.66078702149946" y1="288.2" x2="474.66078702149946" y2="289.59999999999997" stroke="#222" stroke-width="0.6" />
<line x1="476.09324774545195" y1="288.2" x2="476.09324774545195" y2="289.59999999999997" stroke="#222" stroke-width="0.6" />
<line x1="477.3043760305876" y1="288.2" x2="477.3043760305876" y2="289.59999999999997" stroke="#222" stroke-width="0.6" />
<line x1="478.35350307136576" y1="288.2" x2="478.35350307136576" y2="289.59999999999997" stroke="#222" stroke-width="0.6" />
<line x1="479.278898704732" y1="288.2" x2="479.278898704732" y2="289.59999999999997" stroke="#222" stroke-width="0.6" />
<line x1="485.43290934386096" y1="288.2" x2="485.43290934386096" y2="289.59999999999997" stroke="#222" stroke-width="0.6" />
<line x1="488.5485459963436" y1="288.2" x2="488.5485459963436" y2="289.59999999999997" stroke="#222" stroke-width="0.6" />
<line x1="490.7591253810285" y1="288.2" x2="490.7591253810285" y2="289.59999999999997" stroke="#222" stroke-width="0.6" />
<line x1="492.4737839628324" y1="288.2" x2="492.4737839628324" y2="289.59999999999997" stroke="#222" stroke-width="0.6" />
<line x1="493.8747620335112" y1="288.2" x2="493.8747620335112" y2="289.59999999999997" stroke="#222" stroke-width="0.6" />
<line x1="495.05927211457794" y1="288.2" x2="495.05927211457794" y2="289.59999999999997" stroke="#222" stroke-width="0.6" />
<line x1="496.08534141819615" y1="288.2" x2="496.08534141819615" y2="289.59999999999997" stroke="#222" stroke-width="0.6" />
<line x1="496.9903986859939" y1="288.2" x2="496.9903986859939" y2="289.59999999999997" stroke="#222" stroke-width="0.6" />
<rect x="419.1471528471529" y="288.2" width="8" height="2.2" fill="#111"/>
<line x1="407.5442557442558" y1="288.2" x2="407.5442557442558" y2="289.5" stroke="#333" stroke-width="0.6" />
<line x1="412.9118881118882" y1="288.2" x2="412.9118881118882" y2="289.5" stroke="#333" stroke-width="0.6" />
<line x1="418.2795204795205" y1="288.2" x2="418.2795204795205" y2="289.5" stroke="#333" stroke-width="0.6" />
<line x1="429.7304695304696" y1="288.2" x2="429.7304695304696" y2="289.5" stroke="#333" stroke-width="0.6" />
<line x1="434.7999000999001" y1="288.2" x2="434.7999000999001" y2="289.5" stroke="#333" stroke-width="0.6" />
<line x1="438.8554445554446" y1="288.2" x2="438.8554445554446" y2="289.5" stroke="#333" stroke-width="0.6" />
<text x="404.1766233766234" y="297.8" font-size="4.6" font-family="Liberation Serif" text-anchor="middle" fill="#222" stroke="#222" stroke-width="0.18">-10<tspan dx="0.5" dy="-2.6" font-size="3.8">3</tspan></text>
<text x="423.6471528471529" y="297.8" font-size="4.6" font-family="Liberation Serif" text-anchor="middle" fill="#222" stroke="#222" stroke-width="0.18">0</text>
<text x="443.3248751248751" y="297.8" font-size="4.6" font-family="Liberation Serif" text-anchor="start" fill="#222" stroke="#222" stroke-width="0.18">10<tspan dx="0.5" dy="-2.6" font-size="3.8">3</tspan></text>
<text x="461.7157842157842" y="297.8" font-size="4.6" font-family="Liberation Serif" text-anchor="start" fill="#222" stroke="#222" stroke-width="0.18">10<tspan dx="0.5" dy="-2.6" font-size="3.8">4</tspan></text>
<text x="480.10669330669333" y="297.8" font-size="4.6" font-family="Liberation Serif" text-anchor="start" fill="#222" stroke="#222" stroke-width="0.18">10<tspan dx="0.5" dy="-2.6" font-size="3.8">5</tspan></text>
<text x="498.2" y="297.8" font-size="4.6" font-family="Liberation Serif" text-anchor="end" fill="#222" stroke="#222" stroke-width="0.18">10<tspan dx="0.5" dy="-2.6" font-size="3.8">6</tspan></text>
<rect x="445.3" y="271.9" width="0.9" height="0.9" fill="#111"/>
<rect x="440.7" y="265.0" width="0.9" height="0.9" fill="#111"/>
<rect x="441.3" y="267.0" width="0.9" height="0.9" fill="#111"/>
<rect x="448.2" y="249.0" width="0.9" height="0.9" fill="#111"/>
<rect x="440.8" y="256.1" width="0.9" height="0.9" fill="#111"/>
<rect x="441.9" y="267.6" width="0.9" height="0.9" fill="#111"/>
<rect x="449.7" y="249.0" width="0.9" height="0.9" fill="#111"/>
<rect x="440.9" y="261.1" width="0.9" height="0.9" fill="#111"/>
<rect x="443.2" y="251.1" width="0.9" height="0.9" fill="#111"/>
<rect x="441.0" y="262.1" width="0.9" height="0.9" fill="#111"/>
<rect x="440.4" y="259.7" width="0.9" height="0.9" fill="#111"/>
<rect x="442.1" y="253.8" width="0.9" height="0.9" fill="#111"/>
<rect x="440.5" y="256.7" width="0.9" height="0.9" fill="#111"/>
<rect x="440.6" y="262.0" width="0.9" height="0.9" fill="#111"/>
<rect x="448.8" y="248.8" width="0.9" height="0.9" fill="#111"/>
<rect x="441.7" y="255.1" width="0.9" height="0.9" fill="#111"/>
<rect x="443.5" y="252.7" width="0.9" height="0.9" fill="#111"/>
<rect x="450.0" y="248.4" width="0.9" height="0.9" fill="#111"/>
<rect x="451.7" y="273.4" width="0.9" height="0.9" fill="#111"/>
<rect x="442.2" y="266.8" width="0.9" height="0.9" fill="#111"/>
<rect x="441.5" y="266.4" width="0.9" height="0.9" fill="#111"/>
<rect x="442.0" y="254.6" width="0.9" height="0.9" fill="#111"/>
<rect x="445.0" y="271.2" width="0.9" height="0.9" fill="#111"/>
<rect x="442.2" y="252.4" width="0.9" height="0.9" fill="#111"/>
<rect x="440.8" y="261.8" width="0.9" height="0.9" fill="#111"/>
<rect x="444.2" y="251.2" width="0.9" height="0.9" fill="#111"/>
<rect x="446.6" y="272.2" width="0.9" height="0.9" fill="#111"/>
<rect x="443.2" y="251.4" width="0.9" height="0.9" fill="#111"/>
<rect x="440.9" y="257.1" width="0.9" height="0.9" fill="#111"/>
<rect x="440.8" y="260.3" width="0.9" height="0.9" fill="#111"/>
<rect x="449.3" y="248.5" width="0.9" height="0.9" fill="#111"/>
<rect x="440.5" y="256.7" width="0.9" height="0.9" fill="#111"/>
<rect x="444.5" y="250.7" width="0.9" height="0.9" fill="#111"/>
<rect x="443.9" y="270.9" width="0.9" height="0.9" fill="#111"/>
<rect x="449.3" y="274.4" width="0.9" height="0.9" fill="#111"/>
<rect x="442.1" y="269.3" width="0.9" height="0.9" fill="#111"/>
<rect x="444.8" y="271.4" width="0.9" height="0.9" fill="#111"/>
<rect x="445.2" y="271.8" width="0.9" height="0.9" fill="#111"/>
<rect x="447.5" y="272.4" width="0.9" height="0.9" fill="#111"/>
<rect x="442.5" y="253.9" width="0.9" height="0.9" fill="#111"/>
<rect x="445.5" y="271.8" width="0.9" height="0.9" fill="#111"/>
<rect x="440.8" y="263.9" width="0.9" height="0.9" fill="#111"/>
<rect x="440.7" y="256.9" width="0.9" height="0.9" fill="#111"/>
<rect x="441.9" y="269.1" width="0.9" height="0.9" fill="#111"/>
<rect x="445.9" y="250.4" width="0.9" height="0.9" fill="#111"/>
<rect x="444.5" y="249.7" width="0.9" height="0.9" fill="#111"/>
<rect x="444.0" y="252.0" width="0.9" height="0.9" fill="#111"/>
<rect x="444.8" y="250.1" width="0.9" height="0.9" fill="#111"/>
<rect x="452.9" y="272.6" width="0.9" height="0.9" fill="#111"/>
<rect x="448.8" y="248.0" width="0.9" height="0.9" fill="#111"/>
<rect x="445.5" y="271.4" width="0.9" height="0.9" fill="#111"/>
<rect x="448.8" y="273.2" width="0.9" height="0.9" fill="#111"/>
<rect x="443.6" y="252.0" width="0.9" height="0.9" fill="#111"/>
<rect x="448.2" y="274.3" width="0.9" height="0.9" fill="#111"/>
<rect x="444.1" y="251.8" width="0.9" height="0.9" fill="#111"/>
<rect x="446.7" y="248.8" width="0.9" height="0.9" fill="#111"/>
<rect x="443.4" y="251.4" width="0.9" height="0.9" fill="#111"/>
<rect x="446.7" y="248.5" width="0.9" height="0.9" fill="#111"/>
<rect x="445.4" y="250.5" width="0.9" height="0.9" fill="#111"/>
<rect x="441.6" y="254.7" width="0.9" height="0.9" fill="#111"/>
<rect x="442.7" y="253.0" width="0.9" height="0.9" fill="#111"/>
<rect x="446.5" y="249.1" width="0.9" height="0.9" fill="#111"/>
<rect x="445.0" y="271.2" width="0.9" height="0.9" fill="#111"/>
<rect x="448.8" y="273.7" width="0.9" height="0.9" fill="#111"/>
<rect x="451.6" y="273.7" width="0.9" height="0.9" fill="#111"/>
<rect x="448.6" y="273.6" width="0.9" height="0.9" fill="#111"/>
<rect x="447.8" y="276.9" width="0.8" height="0.8" fill="#222"/>
<rect x="444.3" y="272.3" width="0.8" height="0.8" fill="#222"/>
<rect x="448.6" y="282.4" width="0.8" height="0.8" fill="#222"/>
<rect x="446.3" y="279.4" width="0.8" height="0.8" fill="#222"/>
<rect x="450.8" y="282.4" width="0.8" height="0.8" fill="#222"/>
<rect x="447.8" y="284.7" width="0.8" height="0.8" fill="#222"/>
<rect x="452.2" y="272.5" width="0.8" height="0.8" fill="#222"/>
<rect x="447.3" y="272.3" width="0.8" height="0.8" fill="#222"/>
<rect x="446.8" y="278.5" width="0.8" height="0.8" fill="#222"/>
<rect x="447.2" y="274.8" width="0.8" height="0.8" fill="#222"/>
<rect x="443.8" y="285.1" width="0.8" height="0.8" fill="#222"/>
<rect x="446.6" y="283.5" width="0.8" height="0.8" fill="#222"/>
<rect x="449.8" y="272.3" width="0.8" height="0.8" fill="#222"/>
<rect x="449.2" y="274.9" width="0.8" height="0.8" fill="#222"/>
<rect x="446.0" y="282.8" width="0.8" height="0.8" fill="#222"/>
<rect x="447.8" y="277.3" width="0.8" height="0.8" fill="#222"/>
<rect x="452.5" y="281.2" width="0.8" height="0.8" fill="#222"/>
<rect x="450.8" y="275.9" width="0.8" height="0.8" fill="#222"/>
<rect x="453.1" y="277.7" width="0.8" height="0.8" fill="#222"/>
<rect x="451.1" y="282.2" width="0.8" height="0.8" fill="#222"/>
<rect x="447.8" y="275.6" width="0.8" height="0.8" fill="#222"/>
<rect x="447.7" y="277.0" width="0.8" height="0.8" fill="#222"/>
<rect x="450.0" y="285.0" width="0.8" height="0.8" fill="#222"/>
<rect x="447.1" y="274.8" width="0.8" height="0.8" fill="#222"/>
<rect x="445.7" y="274.6" width="0.8" height="0.8" fill="#222"/>
<rect x="448.8" y="278.9" width="0.8" height="0.8" fill="#222"/>
<rect x="453.7" y="281.4" width="0.8" height="0.8" fill="#222"/>
<rect x="454.6" y="283.3" width="0.8" height="0.8" fill="#222"/>
<rect x="451.2" y="277.6" width="0.8" height="0.8" fill="#222"/>
<rect x="452.4" y="272.3" width="0.8" height="0.8" fill="#222"/>
<rect x="450.8" y="273.3" width="0.8" height="0.8" fill="#222"/>
<rect x="453.6" y="279.3" width="0.8" height="0.8" fill="#222"/>
<rect x="448.1" y="281.5" width="0.8" height="0.8" fill="#222"/>
<rect x="453.4" y="278.7" width="0.8" height="0.8" fill="#222"/>
<rect x="447.8" y="278.8" width="0.8" height="0.8" fill="#222"/>
<rect x="438.3" y="265.9" width="1.1" height="1.1" fill="#000"/>
<rect x="440.1" y="265.5" width="1.1" height="1.1" fill="#000"/>
<rect x="438.9" y="265.2" width="1.1" height="1.1" fill="#000"/>
<rect x="440.7" y="267.4" width="1.1" height="1.1" fill="#000"/>
<rect x="441.0" y="253.9" width="1.1" height="1.1" fill="#000"/>
<rect x="436.7" y="267.7" width="1.1" height="1.1" fill="#000"/>
<rect x="439.4" y="264.9" width="1.1" height="1.1" fill="#000"/>
<rect x="437.3" y="268.8" width="1.1" height="1.1" fill="#000"/>
<rect x="439.9" y="262.7" width="1.1" height="1.1" fill="#000"/>
<rect x="439.1" y="256.7" width="1.1" height="1.1" fill="#000"/>
<rect x="439.1" y="257.1" width="1.1" height="1.1" fill="#000"/>
<rect x="436.6" y="264.6" width="1.1" height="1.1" fill="#000"/>
<rect x="438.4" y="251.0" width="1.1" height="1.1" fill="#000"/>
<rect x="440.6" y="250.7" width="1.1" height="1.1" fill="#000"/>
<rect x="441.19" y="287.20" width="17.64" height="1.3" fill="#222" opacity="0.85"/>
<polygon points="460.30,261.00 460.14,262.63 459.82,264.24 459.35,265.78 458.73,267.25 457.99,268.61 457.14,269.84 456.18,270.92 455.15,271.83 454.04,272.55 452.89,273.07 451.70,273.39 450.50,273.50 449.30,273.39 448.11,273.07 446.96,272.55 445.85,271.83 444.82,270.92 443.86,269.84 443.01,268.61 442.27,267.25 441.65,265.78 441.18,264.24 440.86,262.63 440.70,261.00 440.71,259.37 440.89,257.76 441.24,256.22 441.76,254.75 442.44,253.39 443.28,252.16 444.25,251.08 445.35,250.17 446.54,249.45 447.82,248.93 449.14,248.61 450.50,248.50 451.86,248.61 453.18,248.93 454.46,249.45 455.65,250.17 456.75,251.08 457.72,252.16 458.56,253.39 459.24,254.75 459.76,256.22 460.11,257.76 460.29,259.37" fill="url(#bg)" stroke="#4a4a4a" stroke-width="0.8"/>
<polygon points="459.50,261.00 459.35,262.47 459.06,263.91 458.64,265.31 458.09,266.62 457.42,267.85 456.65,268.95 455.79,269.93 454.86,270.74 453.86,271.39 452.83,271.87 451.76,272.15 450.68,272.25 449.59,272.15 448.53,271.87 447.49,271.39 446.50,270.74 445.56,269.93 444.70,268.95 443.93,267.85 443.27,266.62 442.71,265.31 442.29,263.91 442.00,262.47 441.86,261.00 441.86,259.53 442.02,258.09 442.34,256.69 442.81,255.38 443.42,254.15 444.18,253.05 445.05,252.07 446.04,251.26 447.11,250.61 448.26,250.13 449.46,249.85 450.68,249.75 451.90,249.85 453.09,250.13 454.24,250.61 455.32,251.26 456.30,252.07 457.18,253.05 457.93,254.15 458.54,255.38 459.01,256.69 459.33,258.09 459.49,259.53" fill="none" stroke="#a0a0a0" stroke-width="0.55"/>
<polygon points="458.69,261.00 458.56,262.31 458.31,263.59 457.93,264.83 457.44,266.00 456.85,267.09 456.16,268.07 455.40,268.93 454.57,269.66 453.69,270.24 452.76,270.66 451.82,270.91 450.85,271.00 449.89,270.91 448.94,270.66 448.02,270.24 447.14,269.66 446.31,268.93 445.54,268.07 444.86,267.09 444.27,266.00 443.78,264.83 443.40,263.59 443.14,262.31 443.01,261.00 443.02,259.69 443.16,258.41 443.44,257.17 443.86,256.00 444.41,254.91 445.07,253.93 445.85,253.07 446.73,252.34 447.69,251.76 448.71,251.34 449.77,251.09 450.85,251.00 451.94,251.09 453.00,251.34 454.02,251.76 454.98,252.34 455.85,253.07 456.63,253.93 457.30,254.91 457.85,256.00 458.26,257.17 458.54,258.41 458.69,259.69" fill="none" stroke="#929292" stroke-width="0.55"/>
<polygon points="457.89,261.00 457.78,262.14 457.55,263.26 457.22,264.35 456.79,265.38 456.27,266.33 455.67,267.19 455.01,267.94 454.28,268.58 453.51,269.08 452.70,269.45 451.87,269.68 451.03,269.75 450.19,269.68 449.36,269.45 448.55,269.08 447.78,268.58 447.05,267.94 446.38,267.19 445.79,266.33 445.27,265.38 444.84,264.35 444.51,263.26 444.28,262.14 444.17,261.00 444.17,259.86 444.30,258.74 444.55,257.65 444.91,256.62 445.39,255.67 445.97,254.81 446.65,254.06 447.42,253.42 448.26,252.92 449.15,252.55 450.08,252.32 451.03,252.25 451.98,252.32 452.91,252.55 453.80,252.92 454.64,253.42 455.40,254.06 456.09,254.81 456.67,255.67 457.15,256.62 457.51,257.65 457.76,258.74 457.88,259.86" fill="none" stroke="#888" stroke-width="0.55"/>
<polygon points="457.09,261.00 456.99,261.98 456.80,262.94 456.51,263.87 456.15,264.75 455.70,265.57 455.19,266.30 454.61,266.95 453.99,267.50 453.33,267.93 452.64,268.24 451.93,268.44 451.21,268.50 450.48,268.44 449.77,268.24 449.08,267.93 448.42,267.50 447.80,266.95 447.22,266.30 446.71,265.57 446.27,264.75 445.90,263.87 445.61,262.94 445.42,261.98 445.33,261.00 445.33,260.02 445.44,259.06 445.65,258.13 445.96,257.25 446.37,256.43 446.87,255.70 447.46,255.05 448.11,254.50 448.83,254.07 449.60,253.76 450.39,253.56 451.21,253.50 452.02,253.56 452.82,253.76 453.58,254.07 454.30,254.50 454.96,255.05 455.54,255.70 456.04,256.43 456.45,257.25 456.76,258.13 456.97,259.06 457.08,260.02" fill="none" stroke="#828282" stroke-width="0.55"/>
<polygon points="456.28,261.00 456.20,261.82 456.04,262.62 455.81,263.39 455.50,264.12 455.13,264.80 454.70,265.42 454.22,265.96 453.70,266.41 453.15,266.77 452.58,267.04 451.98,267.20 451.38,267.25 450.78,267.20 450.19,267.04 449.61,266.77 449.06,266.41 448.54,265.96 448.06,265.42 447.64,264.80 447.27,264.12 446.96,263.39 446.72,262.62 446.56,261.82 446.48,261.00 446.49,260.18 446.58,259.38 446.75,258.61 447.01,257.88 447.35,257.20 447.77,256.58 448.26,256.04 448.80,255.59 449.40,255.23 450.04,254.96 450.70,254.80 451.38,254.75 452.06,254.80 452.72,254.96 453.36,255.23 453.96,255.59 454.51,256.04 454.99,256.58 455.41,257.20 455.75,257.88 456.01,258.61 456.19,259.38 456.28,260.18" fill="none" stroke="#808080" stroke-width="0.55"/>
<polygon points="455.48,261.00 455.41,261.65 455.29,262.29 455.10,262.91 454.85,263.50 454.55,264.04 454.21,264.54 453.83,264.97 453.42,265.33 452.98,265.62 452.51,265.83 452.04,265.96 451.56,266.00 451.08,265.96 450.60,265.83 450.14,265.62 449.70,265.33 449.29,264.97 448.90,264.54 448.56,264.04 448.27,263.50 448.02,262.91 447.83,262.29 447.70,261.65 447.64,261.00 447.64,260.35 447.71,259.71 447.85,259.09 448.06,258.50 448.33,257.96 448.67,257.46 449.06,257.03 449.50,256.67 449.98,256.38 450.49,256.17 451.02,256.04 451.56,256.00 452.10,256.04 452.63,256.17 453.14,256.38 453.62,256.67 454.06,257.03 454.45,257.46 454.78,257.96 455.06,258.50 455.26,259.09 455.40,259.71 455.48,260.35" fill="none" stroke="#848484" stroke-width="0.55"/>
<polygon points="454.67,261.00 454.63,261.49 454.53,261.97 454.39,262.44 454.20,262.88 453.98,263.28 453.73,263.65 453.44,263.98 453.13,264.25 452.80,264.46 452.45,264.62 452.10,264.72 451.73,264.75 451.37,264.72 451.02,264.62 450.67,264.46 450.34,264.25 450.03,263.98 449.74,263.65 449.49,263.28 449.27,262.88 449.08,262.44 448.94,261.97 448.84,261.49 448.79,261.00 448.80,260.51 448.85,260.03 448.96,259.56 449.11,259.12 449.32,258.72 449.57,258.35 449.86,258.02 450.19,257.75 450.55,257.54 450.93,257.38 451.33,257.28 451.73,257.25 452.14,257.28 452.54,257.38 452.92,257.54 453.28,257.75 453.61,258.02 453.90,258.35 454.15,258.72 454.36,259.12 454.51,259.56 454.62,260.03 454.67,260.51" fill="none" stroke="#8e8e8e" stroke-width="0.55"/>
<polygon points="453.87,261.00 453.84,261.33 453.78,261.65 453.68,261.96 453.56,262.25 453.41,262.52 453.24,262.77 453.05,262.98 452.84,263.17 452.62,263.31 452.39,263.41 452.15,263.48 451.91,263.50 451.67,263.48 451.43,263.41 451.20,263.31 450.98,263.17 450.77,262.98 450.58,262.77 450.41,262.52 450.26,262.25 450.14,261.96 450.05,261.65 449.98,261.33 449.95,261.00 449.95,260.67 449.99,260.35 450.06,260.04 450.16,259.75 450.30,259.48 450.47,259.23 450.66,259.02 450.88,258.83 451.12,258.69 451.37,258.59 451.64,258.52 451.91,258.50 452.18,258.52 452.45,258.59 452.70,258.69 452.94,258.83 453.16,259.02 453.36,259.23 453.52,259.48 453.66,259.75 453.76,260.04 453.83,260.35 453.87,260.67" fill="none" stroke="#a0a0a0" stroke-width="0.55"/>
<ellipse cx="451.97" cy="261" rx="0.882" ry="2.75" fill="#d8d8d8"/>
<polygon points="459.81,261.00 459.66,262.50 459.37,263.98 458.93,265.40 458.37,266.75 457.69,268.00 456.90,269.13 456.02,270.12 455.07,270.96 454.05,271.62 452.99,272.11 451.90,272.40 450.79,272.50 449.69,272.40 448.60,272.11 447.53,271.62 446.52,270.96 445.57,270.12 444.69,269.13 443.90,268.00 443.22,266.75 442.66,265.40 442.22,263.98 441.93,262.50 441.78,261.00 441.79,259.50 441.95,258.02 442.27,256.60 442.75,255.25 443.38,254.00 444.15,252.87 445.04,251.88 446.05,251.04 447.15,250.38 448.33,249.89 449.55,249.60 450.79,249.50 452.04,249.60 453.26,249.89 454.44,250.38 455.54,251.04 456.54,251.88 457.44,252.87 458.21,254.00 458.84,255.25 459.31,256.60 459.64,258.02 459.80,259.50" fill="#000" opacity="0.18"/>
<polyline points="451.94,273.35 450.80,273.49 449.66,273.45 448.52,273.21 447.41,272.78 446.34,272.17 445.33,271.39 444.38,270.45 443.51,269.36 442.74,268.15 442.07,266.82 441.52,265.40 441.10,263.92 440.83,262.39 440.69,260.84 440.71,259.29 440.89,257.76 441.22,256.29 441.70,254.89 442.33,253.59 443.10,252.40 443.99,251.34 445.01,250.43 446.11,249.68 447.30,249.11" fill="none" stroke="#1a1a1a" stroke-width="1.3" stroke-dasharray="1.5 0.5"/>
<rect x="440.1" y="211.5" width="22.19999999999999" height="36.099999999999994" fill="none" stroke="#222" stroke-width="1"/>
<rect x="441.7" y="226.7" width="0.9" height="0.9" fill="#111"/>
<rect x="444.1" y="225.8" width="0.9" height="0.9" fill="#111"/>
<rect x="442.4" y="231.5" width="0.9" height="0.9" fill="#111"/>
<rect x="444.1" y="232.2" width="0.9" height="0.9" fill="#111"/>
<rect x="444.9" y="232.9" width="0.9" height="0.9" fill="#111"/>
<rect x="446.8" y="230.2" width="0.9" height="0.9" fill="#111"/>
<rect x="443.1" y="234.7" width="0.9" height="0.9" fill="#111"/>
<rect x="447.2" y="234.9" width="0.9" height="0.9" fill="#111"/>
<rect x="443.8" y="237.7" width="0.9" height="0.9" fill="#111"/>
<rect x="445.8" y="237.9" width="0.9" height="0.9" fill="#111"/>
<rect x="447.2" y="237.7" width="0.9" height="0.9" fill="#111"/>
<rect x="448.6" y="238.1" width="0.9" height="0.9" fill="#111"/>
<rect x="449.9" y="237.4" width="0.9" height="0.9" fill="#111"/>
<rect x="450.6" y="238.2" width="0.9" height="0.9" fill="#111"/>
<rect x="453.9" y="235.2" width="0.9" height="0.9" fill="#111"/>
<rect x="448.6" y="240.4" width="0.9" height="0.9" fill="#111"/>
<rect x="449.9" y="240.8" width="0.9" height="0.9" fill="#111"/>
<rect x="451.2" y="241.2" width="0.9" height="0.9" fill="#111"/>
<rect x="445.1" y="241.8" width="0.9" height="0.9" fill="#111"/>
<rect x="445.8" y="242.7" width="0.9" height="0.9" fill="#111"/>
<rect x="448.6" y="243.1" width="0.9" height="0.9" fill="#111"/>
<rect x="449.9" y="243.5" width="0.9" height="0.9" fill="#111"/>
<rect x="442.4" y="246.2" width="0.9" height="0.9" fill="#111"/>
<rect x="452.6" y="246.5" width="0.9" height="0.9" fill="#111"/>
<rect x="453.9" y="246.0" width="0.9" height="0.9" fill="#111"/>
<rect x="455.4" y="246.2" width="0.9" height="0.9" fill="#111"/>
<rect x="456.7" y="246.5" width="0.9" height="0.9" fill="#111"/>
<text x="451.6" y="197.1" font-size="6" font-weight="bold" font-family="Liberation Serif" text-anchor="middle" fill="#222" stroke="#222" stroke-width="0.2" textLength="15.4" lengthAdjust="spacingAndGlyphs">IFN-G</text>
<text x="450.7" y="204.1" font-size="5.8" font-weight="bold" font-family="Liberation Serif" text-anchor="middle" fill="#333" stroke="#333" stroke-width="0.15">0.51</text>
<rect x="400.70000000000005" y="190.7" width="28.60" height="18.70" fill="#fff" stroke="#3a3a3a" stroke-width="1.2"/>
<text x="414.5" y="204.00" font-size="10.4" font-weight="bold" font-family="Liberation Sans" text-anchor="middle" fill="#c8161e" stroke="#c8161e" stroke-width="0.45" textLength="21.80" lengthAdjust="spacingAndGlyphs">0.51</text>
<line x1="546.4" y1="124.30000000000001" x2="546.4" y2="240.2" stroke="#111" stroke-width="1.3" />
<line x1="541.4" y1="124.80000000000001" x2="546.4" y2="124.80000000000001" stroke="#111" stroke-width="1.3" />
<text x="540.2" y="127.50000000000001" font-size="8" font-weight="bold" fill="#000" font-family="Liberation Serif" text-anchor="end" >1.5</text>
<line x1="541.4" y1="153.5" x2="546.4" y2="153.5" stroke="#111" stroke-width="1.3" />
<text x="540.2" y="156.2" font-size="8" font-weight="bold" fill="#000" font-family="Liberation Serif" text-anchor="end" >1.0</text>
<line x1="541.4" y1="182.20000000000002" x2="546.4" y2="182.20000000000002" stroke="#111" stroke-width="1.3" />
<text x="540.2" y="184.9" font-size="8" font-weight="bold" fill="#000" font-family="Liberation Serif" text-anchor="end" >0.5</text>
<line x1="541.4" y1="210.9" x2="546.4" y2="210.9" stroke="#111" stroke-width="1.3" />
<text x="540.2" y="213.6" font-size="8" font-weight="bold" fill="#000" font-family="Liberation Serif" text-anchor="end" >0.0</text>
<line x1="541.4" y1="239.6" x2="546.4" y2="239.6" stroke="#111" stroke-width="1.3" />
<text x="540.2" y="242.29999999999998" font-size="8" font-weight="bold" fill="#000" font-family="Liberation Serif" text-anchor="end" >-0.5</text>
<line x1="545.8" y1="239.6" x2="718.8" y2="239.6" stroke="#111" stroke-width="1.3" />
<line x1="557.3" y1="239.6" x2="557.3" y2="244.7" stroke="#111" stroke-width="1.3" />
<text transform="translate(560.5,252.2) rotate(-45)" font-size="9" font-weight="bold" font-family="Liberation Serif" text-anchor="end">Unsti</text>
<line x1="573.9" y1="239.6" x2="573.9" y2="244.7" stroke="#111" stroke-width="1.3" />
<text transform="translate(577.1,252.2) rotate(-45)" font-size="9" font-weight="bold" font-family="Liberation Serif" text-anchor="end">Sti</text>
<line x1="601.7" y1="239.6" x2="601.7" y2="244.7" stroke="#111" stroke-width="1.3" />
<text transform="translate(604.9000000000001,252.2) rotate(-45)" font-size="9" font-weight="bold" font-family="Liberation Serif" text-anchor="end">Unsti</text>
<line x1="618.3" y1="239.6" x2="618.3" y2="244.7" stroke="#111" stroke-width="1.3" />
<text transform="translate(621.5,252.2) rotate(-45)" font-size="9" font-weight="bold" font-family="Liberation Serif" text-anchor="end">Sti</text>
<line x1="646.1" y1="239.6" x2="646.1" y2="244.7" stroke="#111" stroke-width="1.3" />
<text transform="translate(649.3000000000001,252.2) rotate(-45)" font-size="9" font-weight="bold" font-family="Liberation Serif" text-anchor="end">Unsti</text>
<line x1="662.7" y1="239.6" x2="662.7" y2="244.7" stroke="#111" stroke-width="1.3" />
<text transform="translate(665.9000000000001,252.2) rotate(-45)" font-size="9" font-weight="bold" font-family="Liberation Serif" text-anchor="end">Sti</text>
<line x1="690.5" y1="239.6" x2="690.5" y2="244.7" stroke="#111" stroke-width="1.3" />
<text transform="translate(693.7,252.2) rotate(-45)" font-size="9" font-weight="bold" font-family="Liberation Serif" text-anchor="end">Unsti</text>
<line x1="707.1" y1="239.6" x2="707.1" y2="244.7" stroke="#111" stroke-width="1.3" />
<text transform="translate(710.3000000000001,252.2) rotate(-45)" font-size="9" font-weight="bold" font-family="Liberation Serif" text-anchor="end">Sti</text>
<line x1="547.4" y1="210.9" x2="716" y2="210.9" stroke="#111" stroke-width="0.9" stroke-dasharray="0.9 2.4"/>
<text x="632.6" y="283.0" font-size="9.8" font-weight="bold" fill="#000" font-family="Liberation Serif" text-anchor="middle" textLength="82" lengthAdjust="spacingAndGlyphs" >Immunization Group</text>
<text transform="translate(519.6,182.7) rotate(-90)" font-size="9.2" font-weight="bold" font-family="Liberation Serif" text-anchor="middle" textLength="82.5" lengthAdjust="spacingAndGlyphs">% CD8<tspan dy="-3.4" font-size="5.5">+</tspan><tspan dy="3.4">IFN-</tspan><tspan font-style="italic" font-weight="normal">&#947;</tspan><tspan dy="-3.4" font-size="5.5">+</tspan><tspan dy="3.4"> Cells</tspan></text>
<circle cx="553.6999999999999" cy="210.9" r="1.95" fill="#111"/>
<circle cx="557.3" cy="210.9" r="1.95" fill="#111"/>
<circle cx="560.9" cy="210.9" r="1.95" fill="#111"/>
<rect x="568.4" y="208.317" width="11.2" height="2.5829999999999984" fill="#111"/>
<circle cx="570.3" cy="210.9" r="1.9" fill="#111"/>
<circle cx="577.5" cy="210.9" r="1.9" fill="#111"/>
<circle cx="573.9" cy="211.3" r="1.8" fill="#111"/>
<line x1="573.9" y1="202.864" x2="573.9" y2="208.317" stroke="#111" stroke-width="0.9" />
<circle cx="573.9" cy="202.864" r="2.0" fill="#111"/>
<path d="M572.6,211.9 L573.9,209.9 L575.2,211.9 Z" fill="#999"/>
<path d="M596.2,211.5 V206.31 H607.2 V211.5" fill="none" stroke="#e0157a" stroke-width="1.6"/>
<line x1="601.7" y1="204.586" x2="601.7" y2="209.178" stroke="#e0157a" stroke-width="0.9" stroke-opacity="0.75"/>
<line x1="599.5" y1="204.586" x2="603.9000000000001" y2="204.586" stroke="#e0157a" stroke-width="0.9" stroke-opacity="0.75"/>
<line x1="599.5" y1="209.178" x2="603.9000000000001" y2="209.178" stroke="#e0157a" stroke-width="0.9" stroke-opacity="0.75"/>
<rect x="596.55" y="202.062" width="3.9" height="3.9" fill="#e0157a"/>
<rect x="596.55" y="208.95000000000002" width="3.9" height="3.9" fill="#e0157a"/>
<rect x="602.65" y="205.50600000000003" width="3.9" height="3.9" fill="#e0157a"/>
<rect x="596.55" y="205.50600000000003" width="3.9" height="3.9" fill="#e0157a"/>
<path d="M612.8,211.5 V202.86 H623.8 V211.5" fill="none" stroke="#e0157a" stroke-width="1.6"/>
<line x1="618.3" y1="198.272" x2="618.3" y2="205.16" stroke="#e0157a" stroke-width="0.9" stroke-opacity="0.75"/>
<line x1="616.0999999999999" y1="198.272" x2="620.5" y2="198.272" stroke="#e0157a" stroke-width="0.9" stroke-opacity="0.75"/>
<line x1="616.0999999999999" y1="205.16" x2="620.5" y2="205.16" stroke="#e0157a" stroke-width="0.9" stroke-opacity="0.75"/>
<rect x="616.3499999999999" y="194.026" width="3.9" height="3.9" fill="#e0157a"/>
<rect x="616.3499999999999" y="199.479" width="3.9" height="3.9" fill="#e0157a"/>
<rect x="616.3499999999999" y="207.228" width="3.9" height="3.9" fill="#e0157a"/>
<path d="M640.6,211.5 V203.44 H651.6 V211.5" fill="none" stroke="#1f8a8a" stroke-width="1.6"/>
<line x1="646.1" y1="201.716" x2="646.1" y2="206.308" stroke="#1f8a8a" stroke-width="0.9" stroke-opacity="0.75"/>
<line x1="643.9" y1="201.716" x2="648.3000000000001" y2="201.716" stroke="#1f8a8a" stroke-width="0.9" stroke-opacity="0.75"/>
<line x1="643.9" y1="206.308" x2="648.3000000000001" y2="206.308" stroke="#1f8a8a" stroke-width="0.9" stroke-opacity="0.75"/>
<path d="M640.565,203.744 L643.1,199.4345 L645.635,203.744 Z" fill="#1f8a8a"/>
<path d="M646.565,205.466 L649.1,201.15650000000002 L651.635,205.466 Z" fill="#1f8a8a"/>
<path d="M643.565,210.632 L646.1,206.32250000000002 L648.635,210.632 Z" fill="#1f8a8a"/>
<path d="M657.2,211.5 V173.02 H668.2 V211.5" fill="none" stroke="#1f8a8a" stroke-width="1.6"/>
<line x1="662.7" y1="144.31600000000003" x2="662.7" y2="196.55" stroke="#1f8a8a" stroke-width="0.9" stroke-opacity="0.75"/>
<line x1="660.5" y1="144.31600000000003" x2="664.9000000000001" y2="144.31600000000003" stroke="#1f8a8a" stroke-width="0.9" stroke-opacity="0.75"/>
<line x1="660.5" y1="196.55" x2="664.9000000000001" y2="196.55" stroke="#1f8a8a" stroke-width="0.9" stroke-opacity="0.75"/>
<path d="M660.1650000000001,144.048 L662.7,139.73850000000002 L665.235,144.048 Z" fill="#1f8a8a"/>
<path d="M656.8650000000001,189.394 L659.4000000000001,185.08450000000002 L661.9350000000001,189.394 Z" fill="#1f8a8a"/>
<path d="M663.2650000000001,187.09799999999998 L665.8000000000001,182.7885 L668.335,187.09799999999998 Z" fill="#1f8a8a"/>
<path d="M685.0,211.5 V204.01 H696.0 V211.5" fill="none" stroke="#4a1a8a" stroke-width="1.6"/>
<line x1="690.5" y1="201.716" x2="690.5" y2="206.308" stroke="#4a1a8a" stroke-width="0.9" stroke-opacity="0.75"/>
<line x1="688.3" y1="201.716" x2="692.7" y2="201.716" stroke="#4a1a8a" stroke-width="0.9" stroke-opacity="0.75"/>
<line x1="688.3" y1="206.308" x2="692.7" y2="206.308" stroke="#4a1a8a" stroke-width="0.9" stroke-opacity="0.75"/>
<path d="M684.965,202.55800000000002 L687.5,206.8675 L690.035,202.55800000000002 Z" fill="#4a1a8a"/>
<path d="M690.965,200.26200000000003 L693.5,204.57150000000001 L696.035,200.26200000000003 Z" fill="#4a1a8a"/>
<path d="M684.465,205.42800000000003 L687.0,209.7375 L689.535,205.42800000000003 Z" fill="#4a1a8a"/>
<path d="M701.6,211.5 V193.11 H712.6 V211.5" fill="none" stroke="#4a1a8a" stroke-width="1.6"/>
<line x1="707.1" y1="181.626" x2="707.1" y2="205.16" stroke="#4a1a8a" stroke-width="0.9" stroke-opacity="0.75"/>
<line x1="704.9" y1="181.626" x2="709.3000000000001" y2="181.626" stroke="#4a1a8a" stroke-width="0.9" stroke-opacity="0.75"/>
<line x1="704.9" y1="205.16" x2="709.3000000000001" y2="205.16" stroke="#4a1a8a" stroke-width="0.9" stroke-opacity="0.75"/>
<path d="M704.565,179.598 L707.1,183.9075 L709.635,179.598 Z" fill="#4a1a8a"/>
<path d="M704.565,197.966 L707.1,202.2755 L709.635,197.966 Z" fill="#4a1a8a"/>
<path d="M704.565,195.096 L707.1,199.4055 L709.635,195.096 Z" fill="#4a1a8a"/>
<path d="M573.3,104.8 L573.3,99.2 L662.6,99.2 L662.6,104.8" fill="none" stroke="#111" stroke-width="1.3"/>
<path d="M617.3,119.8 L617.3,114.4 L662.6,114.4 L662.6,119.8" fill="none" stroke="#111" stroke-width="1.3"/>
<path d="M645.8,199 L645.8,132.5 L662.6,132.5 L662.6,137.5" fill="none" stroke="#111" stroke-width="1.3"/>
<polygon points="614.90,88.80 615.57,90.63 617.50,90.30 616.25,91.80 617.50,93.30 615.57,92.97 614.90,94.80 614.23,92.97 612.30,93.30 613.55,91.80 612.30,90.30 614.23,90.63" fill="#111"/>
<polygon points="621.70,88.80 622.38,90.63 624.30,90.30 623.05,91.80 624.30,93.30 622.38,92.97 621.70,94.80 621.03,92.97 619.10,93.30 620.35,91.80 619.10,90.30 621.03,90.63" fill="#111"/>
<polygon points="636.50,104.20 637.17,106.03 639.10,105.70 637.85,107.20 639.10,108.70 637.17,108.37 636.50,110.20 635.83,108.37 633.90,108.70 635.15,107.20 633.90,105.70 635.83,106.03" fill="#111"/>
<polygon points="643.30,104.20 643.97,106.03 645.90,105.70 644.65,107.20 645.90,108.70 643.97,108.37 643.30,110.20 642.62,108.37 640.70,108.70 641.95,107.20 640.70,105.70 642.62,106.03" fill="#111"/>
<polygon points="654.60,122.50 655.27,124.33 657.20,124.00 655.95,125.50 657.20,127.00 655.27,126.67 654.60,128.50 653.93,126.67 652.00,127.00 653.25,125.50 652.00,124.00 653.93,124.33" fill="#111"/>
<circle cx="711.5" cy="116.5" r="2.0" fill="#111"/>
<text x="724.8" y="119.5" font-size="9.3" font-weight="bold" fill="#000" font-family="Liberation Serif" text-anchor="start" >Control</text>
<rect x="709.5" y="129.7" width="4" height="4" fill="#e0157a"/>
<text x="724.8" y="134.7" font-size="9.3" font-weight="bold" fill="#000" font-family="Liberation Serif" text-anchor="start" >OVA</text>
<path d="M708.9,148.98000000000002 L711.5,144.56 L714.1,148.98000000000002 Z" fill="#1f8a8a"/>
<text x="724.8" y="149.9" font-size="9.3" font-weight="bold" fill="#000" font-family="Liberation Serif" text-anchor="start" >OP</text>
<path d="M708.9,160.01999999999998 L711.5,164.44 L714.1,160.01999999999998 Z" fill="#4a1a8a"/>
<text x="724.8" y="165.1" font-size="9.3" font-weight="bold" fill="#000" font-family="Liberation Serif" text-anchor="start" >OR</text>
</svg>
</body></html>
